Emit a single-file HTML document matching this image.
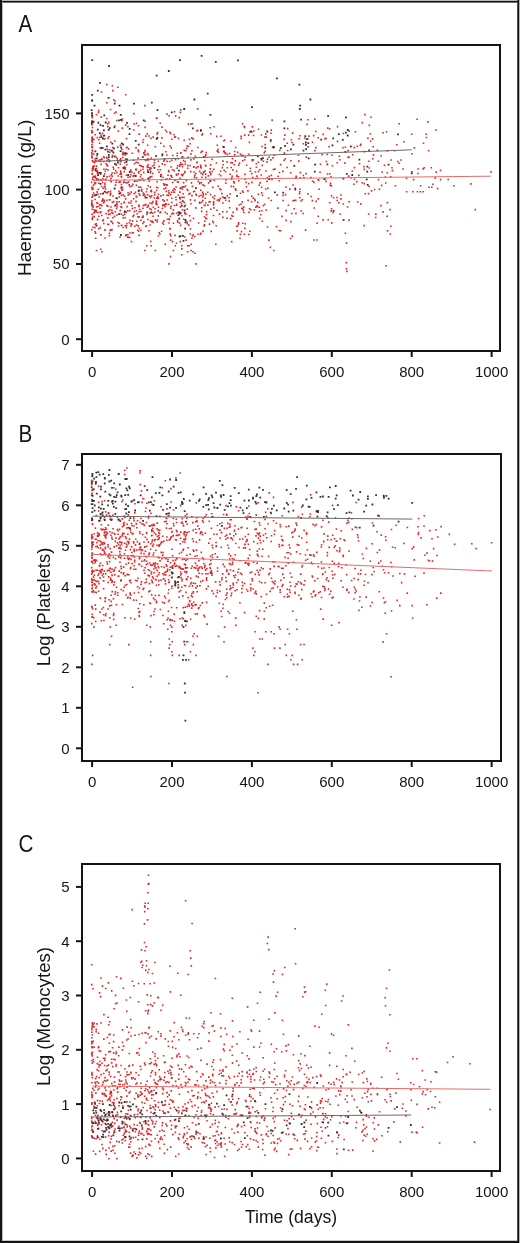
<!DOCTYPE html>
<html><head><meta charset="utf-8"><style>
html,body{margin:0;padding:0;background:#fff;width:520px;height:1243px;overflow:hidden}
svg{display:block;will-change:transform}
text{font-family:"Liberation Sans",sans-serif;fill:#141414}
.t{font-size:15px}
.ti{font-size:18px}
.pl{font-size:23.5px}
</style></head><body>
<svg width="520" height="1243" viewBox="0 0 520 1243"><rect x="0" y="0" width="520" height="1243" fill="#fff"/><g shape-rendering="crispEdges"><rect x="0" y="0" width="520" height="1" fill="#b9b9b9"/><rect x="0" y="2" width="519" height="1" fill="#6e6e6e"/><rect x="0" y="1240" width="519" height="1" fill="#c8c8c8"/><rect x="2" y="0" width="1" height="1243" fill="#bebebe"/><rect x="519" y="0" width="1" height="1243" fill="#b4b4b4"/><rect x="517" y="0" width="1" height="1243" fill="#505050"/><rect x="0" y="1" width="519" height="1" fill="#141414"/><rect x="0" y="1241" width="519" height="2" fill="#141414"/><rect x="0" y="0" width="2" height="1243" fill="#141414"/><rect x="518" y="0" width="1" height="1243" fill="#141414"/></g><path fill="#e02828" d="M162.5 194.2h1.6v1.6h-1.6zM195.0 172.7h1.6v1.6h-1.6zM98.0 138.9h1.6v1.6h-1.6zM111.2 228.8h1.6v1.6h-1.6zM111.0 221.1h1.6v1.6h-1.6zM112.2 195.2h1.6v1.6h-1.6zM184.0 170.7h1.6v1.6h-1.6zM136.0 220.5h1.6v1.6h-1.6zM168.9 160.7h1.6v1.6h-1.6zM95.7 194.0h1.6v1.6h-1.6zM152.0 172.7h1.6v1.6h-1.6zM98.0 227.9h1.6v1.6h-1.6zM133.3 123.2h1.6v1.6h-1.6zM200.0 166.3h1.6v1.6h-1.6zM213.5 197.9h1.6v1.6h-1.6zM168.5 218.8h1.6v1.6h-1.6zM115.8 203.1h1.6v1.6h-1.6zM93.6 209.1h1.6v1.6h-1.6zM160.8 230.4h1.6v1.6h-1.6zM315.0 130.7h1.6v1.6h-1.6zM135.2 161.7h1.6v1.6h-1.6zM110.2 177.6h1.6v1.6h-1.6zM283.5 152.3h1.6v1.6h-1.6zM95.5 167.7h1.6v1.6h-1.6zM149.3 224.2h1.6v1.6h-1.6zM152.2 200.7h1.6v1.6h-1.6zM119.1 159.4h1.6v1.6h-1.6zM242.0 207.9h1.6v1.6h-1.6zM344.6 232.5h1.6v1.6h-1.6zM185.0 150.0h1.6v1.6h-1.6zM205.8 213.8h1.6v1.6h-1.6zM289.9 172.0h1.6v1.6h-1.6zM319.7 163.5h1.6v1.6h-1.6zM218.5 173.4h1.6v1.6h-1.6zM230.9 214.8h1.6v1.6h-1.6zM241.9 160.0h1.6v1.6h-1.6zM251.2 181.6h1.6v1.6h-1.6zM240.7 154.4h1.6v1.6h-1.6zM97.2 211.7h1.6v1.6h-1.6zM344.1 162.3h1.6v1.6h-1.6zM215.6 162.2h1.6v1.6h-1.6zM318.3 188.5h1.6v1.6h-1.6zM188.8 214.9h1.6v1.6h-1.6zM134.1 206.9h1.6v1.6h-1.6zM163.7 204.3h1.6v1.6h-1.6zM106.0 204.7h1.6v1.6h-1.6zM94.5 223.6h1.6v1.6h-1.6zM114.0 125.2h1.6v1.6h-1.6zM224.9 152.2h1.6v1.6h-1.6zM120.6 224.4h1.6v1.6h-1.6zM235.1 189.3h1.6v1.6h-1.6zM183.5 186.2h1.6v1.6h-1.6zM332.1 211.7h1.6v1.6h-1.6zM163.4 200.3h1.6v1.6h-1.6zM327.4 218.9h1.6v1.6h-1.6zM126.3 182.2h1.6v1.6h-1.6zM129.0 236.7h1.6v1.6h-1.6zM277.1 207.3h1.6v1.6h-1.6zM99.8 173.5h1.6v1.6h-1.6zM106.9 123.2h1.6v1.6h-1.6zM147.5 153.9h1.6v1.6h-1.6zM248.2 153.4h1.6v1.6h-1.6zM372.0 157.9h1.6v1.6h-1.6zM243.9 159.0h1.6v1.6h-1.6zM138.8 164.5h1.6v1.6h-1.6zM310.1 176.8h1.6v1.6h-1.6zM181.6 208.9h1.6v1.6h-1.6zM179.4 187.6h1.6v1.6h-1.6zM232.7 185.7h1.6v1.6h-1.6zM336.1 196.7h1.6v1.6h-1.6zM289.1 188.3h1.6v1.6h-1.6zM209.4 127.0h1.6v1.6h-1.6zM116.1 203.4h1.6v1.6h-1.6zM212.8 202.5h1.6v1.6h-1.6zM135.4 195.6h1.6v1.6h-1.6zM161.6 153.3h1.6v1.6h-1.6zM222.1 216.6h1.6v1.6h-1.6zM126.0 163.9h1.6v1.6h-1.6zM150.5 157.2h1.6v1.6h-1.6zM115.8 207.6h1.6v1.6h-1.6zM299.1 196.9h1.6v1.6h-1.6zM232.0 169.1h1.6v1.6h-1.6zM234.8 146.7h1.6v1.6h-1.6zM200.8 201.4h1.6v1.6h-1.6zM128.1 236.7h1.6v1.6h-1.6zM110.5 174.0h1.6v1.6h-1.6zM180.8 173.8h1.6v1.6h-1.6zM247.9 182.8h1.6v1.6h-1.6zM154.5 146.0h1.6v1.6h-1.6zM326.7 164.0h1.6v1.6h-1.6zM163.6 159.2h1.6v1.6h-1.6zM149.5 172.2h1.6v1.6h-1.6zM169.0 177.9h1.6v1.6h-1.6zM258.6 206.5h1.6v1.6h-1.6zM171.9 181.7h1.6v1.6h-1.6zM129.9 202.2h1.6v1.6h-1.6zM201.6 150.6h1.6v1.6h-1.6zM236.0 207.4h1.6v1.6h-1.6zM153.3 164.2h1.6v1.6h-1.6zM191.1 150.0h1.6v1.6h-1.6zM272.5 168.7h1.6v1.6h-1.6zM353.7 178.5h1.6v1.6h-1.6zM192.5 234.0h1.6v1.6h-1.6zM198.9 170.6h1.6v1.6h-1.6zM145.8 224.9h1.6v1.6h-1.6zM94.3 198.7h1.6v1.6h-1.6zM339.1 159.0h1.6v1.6h-1.6zM190.7 182.1h1.6v1.6h-1.6zM283.4 138.6h1.6v1.6h-1.6zM112.1 216.9h1.6v1.6h-1.6zM220.1 175.0h1.6v1.6h-1.6zM113.8 172.6h1.6v1.6h-1.6zM156.9 186.9h1.6v1.6h-1.6zM226.5 195.1h1.6v1.6h-1.6zM348.2 156.3h1.6v1.6h-1.6zM163.1 145.5h1.6v1.6h-1.6zM104.2 182.6h1.6v1.6h-1.6zM175.8 174.5h1.6v1.6h-1.6zM94.2 182.8h1.6v1.6h-1.6zM119.8 170.3h1.6v1.6h-1.6zM231.0 177.2h1.6v1.6h-1.6zM340.1 198.1h1.6v1.6h-1.6zM92.9 192.2h1.6v1.6h-1.6zM146.8 152.8h1.6v1.6h-1.6zM96.8 178.2h1.6v1.6h-1.6zM118.4 201.0h1.6v1.6h-1.6zM243.0 211.6h1.6v1.6h-1.6zM167.7 203.4h1.6v1.6h-1.6zM368.5 167.2h1.6v1.6h-1.6zM159.2 211.9h1.6v1.6h-1.6zM281.1 215.6h1.6v1.6h-1.6zM268.4 156.5h1.6v1.6h-1.6zM202.4 230.5h1.6v1.6h-1.6zM102.0 219.9h1.6v1.6h-1.6zM249.0 131.2h1.6v1.6h-1.6zM264.3 150.5h1.6v1.6h-1.6zM186.9 189.6h1.6v1.6h-1.6zM221.5 166.8h1.6v1.6h-1.6zM339.4 213.2h1.6v1.6h-1.6zM287.6 204.4h1.6v1.6h-1.6zM184.8 185.2h1.6v1.6h-1.6zM119.4 159.2h1.6v1.6h-1.6zM133.2 172.4h1.6v1.6h-1.6zM100.3 163.5h1.6v1.6h-1.6zM95.6 209.8h1.6v1.6h-1.6zM195.2 193.4h1.6v1.6h-1.6zM257.4 161.4h1.6v1.6h-1.6zM149.1 202.2h1.6v1.6h-1.6zM380.8 184.6h1.6v1.6h-1.6zM278.5 179.9h1.6v1.6h-1.6zM166.3 183.9h1.6v1.6h-1.6zM117.7 166.9h1.6v1.6h-1.6zM230.8 178.5h1.6v1.6h-1.6zM251.3 159.1h1.6v1.6h-1.6zM96.7 218.6h1.6v1.6h-1.6zM190.1 159.1h1.6v1.6h-1.6zM279.7 230.0h1.6v1.6h-1.6zM122.3 214.6h1.6v1.6h-1.6zM137.7 150.8h1.6v1.6h-1.6zM238.5 204.2h1.6v1.6h-1.6zM189.9 170.8h1.6v1.6h-1.6zM164.9 187.3h1.6v1.6h-1.6zM111.1 211.8h1.6v1.6h-1.6zM138.3 205.4h1.6v1.6h-1.6zM164.5 211.5h1.6v1.6h-1.6zM149.6 176.0h1.6v1.6h-1.6zM273.5 154.4h1.6v1.6h-1.6zM234.6 160.1h1.6v1.6h-1.6zM96.2 154.8h1.6v1.6h-1.6zM109.7 190.5h1.6v1.6h-1.6zM267.0 187.5h1.6v1.6h-1.6zM99.5 159.0h1.6v1.6h-1.6zM223.1 139.9h1.6v1.6h-1.6zM213.4 179.5h1.6v1.6h-1.6zM284.0 134.3h1.6v1.6h-1.6zM198.8 201.4h1.6v1.6h-1.6zM363.5 182.8h1.6v1.6h-1.6zM205.0 153.9h1.6v1.6h-1.6zM174.2 234.6h1.6v1.6h-1.6zM202.6 194.4h1.6v1.6h-1.6zM149.6 186.3h1.6v1.6h-1.6zM122.0 156.7h1.6v1.6h-1.6zM238.7 162.3h1.6v1.6h-1.6zM121.1 148.6h1.6v1.6h-1.6zM121.6 186.7h1.6v1.6h-1.6zM212.8 201.1h1.6v1.6h-1.6zM200.3 172.6h1.6v1.6h-1.6zM266.7 158.3h1.6v1.6h-1.6zM299.5 177.0h1.6v1.6h-1.6zM181.2 156.1h1.6v1.6h-1.6zM106.2 176.1h1.6v1.6h-1.6zM256.8 205.8h1.6v1.6h-1.6zM161.7 222.2h1.6v1.6h-1.6zM175.3 199.0h1.6v1.6h-1.6zM109.9 229.3h1.6v1.6h-1.6zM167.2 174.4h1.6v1.6h-1.6zM332.8 197.0h1.6v1.6h-1.6zM370.3 170.4h1.6v1.6h-1.6zM108.6 198.9h1.6v1.6h-1.6zM191.5 122.9h1.6v1.6h-1.6zM189.5 233.2h1.6v1.6h-1.6zM150.0 212.1h1.6v1.6h-1.6zM140.9 165.3h1.6v1.6h-1.6zM123.6 165.9h1.6v1.6h-1.6zM106.2 164.1h1.6v1.6h-1.6zM233.9 154.1h1.6v1.6h-1.6zM95.3 177.6h1.6v1.6h-1.6zM116.1 172.0h1.6v1.6h-1.6zM228.3 197.0h1.6v1.6h-1.6zM363.5 150.8h1.6v1.6h-1.6zM196.0 161.7h1.6v1.6h-1.6zM146.4 206.5h1.6v1.6h-1.6zM258.9 217.7h1.6v1.6h-1.6zM204.2 170.3h1.6v1.6h-1.6zM181.2 214.9h1.6v1.6h-1.6zM375.0 213.3h1.6v1.6h-1.6zM120.1 171.9h1.6v1.6h-1.6zM120.6 186.0h1.6v1.6h-1.6zM103.6 186.1h1.6v1.6h-1.6zM113.8 112.4h1.6v1.6h-1.6zM156.4 220.9h1.6v1.6h-1.6zM202.0 196.1h1.6v1.6h-1.6zM132.1 183.6h1.6v1.6h-1.6zM142.6 139.0h1.6v1.6h-1.6zM135.2 169.1h1.6v1.6h-1.6zM100.1 210.9h1.6v1.6h-1.6zM101.0 158.0h1.6v1.6h-1.6zM166.0 130.9h1.6v1.6h-1.6zM118.4 196.2h1.6v1.6h-1.6zM111.4 175.3h1.6v1.6h-1.6zM142.4 194.5h1.6v1.6h-1.6zM164.7 129.5h1.6v1.6h-1.6zM322.3 219.1h1.6v1.6h-1.6zM298.7 192.8h1.6v1.6h-1.6zM121.7 152.9h1.6v1.6h-1.6zM177.5 158.0h1.6v1.6h-1.6zM294.9 199.4h1.6v1.6h-1.6zM156.4 117.2h1.6v1.6h-1.6zM169.9 207.3h1.6v1.6h-1.6zM130.1 173.9h1.6v1.6h-1.6zM330.6 185.1h1.6v1.6h-1.6zM317.4 179.0h1.6v1.6h-1.6zM156.3 133.1h1.6v1.6h-1.6zM97.5 188.6h1.6v1.6h-1.6zM235.8 170.6h1.6v1.6h-1.6zM116.3 197.7h1.6v1.6h-1.6zM315.1 146.8h1.6v1.6h-1.6zM92.2 187.3h1.6v1.6h-1.6zM244.0 227.4h1.6v1.6h-1.6zM212.0 186.6h1.6v1.6h-1.6zM157.7 206.4h1.6v1.6h-1.6zM160.0 142.4h1.6v1.6h-1.6zM98.0 215.5h1.6v1.6h-1.6zM242.5 209.4h1.6v1.6h-1.6zM152.3 221.6h1.6v1.6h-1.6zM200.2 194.6h1.6v1.6h-1.6zM149.1 207.9h1.6v1.6h-1.6zM120.3 160.6h1.6v1.6h-1.6zM210.0 172.4h1.6v1.6h-1.6zM159.6 169.0h1.6v1.6h-1.6zM169.8 132.8h1.6v1.6h-1.6zM138.3 234.6h1.6v1.6h-1.6zM124.6 225.1h1.6v1.6h-1.6zM156.4 181.0h1.6v1.6h-1.6zM222.0 210.9h1.6v1.6h-1.6zM149.2 176.8h1.6v1.6h-1.6zM250.8 201.0h1.6v1.6h-1.6zM182.4 193.0h1.6v1.6h-1.6zM175.9 203.6h1.6v1.6h-1.6zM173.2 134.0h1.6v1.6h-1.6zM233.4 164.0h1.6v1.6h-1.6zM128.5 222.0h1.6v1.6h-1.6zM186.9 167.4h1.6v1.6h-1.6zM237.9 164.3h1.6v1.6h-1.6zM282.1 170.4h1.6v1.6h-1.6zM307.2 146.1h1.6v1.6h-1.6zM115.2 111.3h1.6v1.6h-1.6zM92.8 175.7h1.6v1.6h-1.6zM97.7 111.6h1.6v1.6h-1.6zM157.1 168.9h1.6v1.6h-1.6zM163.5 158.8h1.6v1.6h-1.6zM241.6 201.1h1.6v1.6h-1.6zM109.6 192.3h1.6v1.6h-1.6zM132.2 215.6h1.6v1.6h-1.6zM135.3 200.6h1.6v1.6h-1.6zM92.2 204.7h1.6v1.6h-1.6zM179.5 198.2h1.6v1.6h-1.6zM205.0 193.3h1.6v1.6h-1.6zM331.6 164.9h1.6v1.6h-1.6zM111.6 154.8h1.6v1.6h-1.6zM165.5 190.6h1.6v1.6h-1.6zM286.3 166.7h1.6v1.6h-1.6zM270.5 129.3h1.6v1.6h-1.6zM235.9 225.5h1.6v1.6h-1.6zM119.6 181.1h1.6v1.6h-1.6zM164.2 206.0h1.6v1.6h-1.6zM133.0 174.8h1.6v1.6h-1.6zM261.7 194.5h1.6v1.6h-1.6zM117.8 225.2h1.6v1.6h-1.6zM157.6 160.4h1.6v1.6h-1.6zM317.5 198.1h1.6v1.6h-1.6zM171.1 197.5h1.6v1.6h-1.6zM117.0 160.7h1.6v1.6h-1.6zM164.5 183.7h1.6v1.6h-1.6zM303.1 176.9h1.6v1.6h-1.6zM305.1 172.8h1.6v1.6h-1.6zM155.7 186.4h1.6v1.6h-1.6zM104.3 185.6h1.6v1.6h-1.6zM354.7 130.9h1.6v1.6h-1.6zM111.1 209.6h1.6v1.6h-1.6zM230.1 162.0h1.6v1.6h-1.6zM279.8 163.8h1.6v1.6h-1.6zM144.3 126.6h1.6v1.6h-1.6zM176.4 167.3h1.6v1.6h-1.6zM209.4 200.9h1.6v1.6h-1.6zM92.5 166.8h1.6v1.6h-1.6zM94.7 168.1h1.6v1.6h-1.6zM325.1 137.6h1.6v1.6h-1.6zM98.0 182.4h1.6v1.6h-1.6zM204.9 202.2h1.6v1.6h-1.6zM173.9 136.3h1.6v1.6h-1.6zM157.5 215.1h1.6v1.6h-1.6zM167.8 194.6h1.6v1.6h-1.6zM358.1 174.6h1.6v1.6h-1.6zM149.0 167.2h1.6v1.6h-1.6zM169.9 174.9h1.6v1.6h-1.6zM152.5 206.5h1.6v1.6h-1.6zM376.5 149.6h1.6v1.6h-1.6zM154.3 208.0h1.6v1.6h-1.6zM147.4 184.9h1.6v1.6h-1.6zM108.8 149.0h1.6v1.6h-1.6zM244.5 156.5h1.6v1.6h-1.6zM103.5 200.8h1.6v1.6h-1.6zM144.8 159.7h1.6v1.6h-1.6zM130.5 200.2h1.6v1.6h-1.6zM166.1 154.2h1.6v1.6h-1.6zM226.2 161.1h1.6v1.6h-1.6zM253.6 209.1h1.6v1.6h-1.6zM368.5 124.6h1.6v1.6h-1.6zM173.7 204.7h1.6v1.6h-1.6zM102.7 156.0h1.6v1.6h-1.6zM146.1 197.0h1.6v1.6h-1.6zM120.6 194.6h1.6v1.6h-1.6zM108.2 135.9h1.6v1.6h-1.6zM162.9 160.5h1.6v1.6h-1.6zM94.6 175.3h1.6v1.6h-1.6zM121.4 118.2h1.6v1.6h-1.6zM96.6 136.8h1.6v1.6h-1.6zM183.9 211.6h1.6v1.6h-1.6zM189.2 192.6h1.6v1.6h-1.6zM138.2 192.9h1.6v1.6h-1.6zM159.4 122.4h1.6v1.6h-1.6zM181.4 196.6h1.6v1.6h-1.6zM157.3 210.2h1.6v1.6h-1.6zM171.1 159.6h1.6v1.6h-1.6zM209.8 173.8h1.6v1.6h-1.6zM143.6 204.3h1.6v1.6h-1.6zM185.8 147.6h1.6v1.6h-1.6zM146.6 166.7h1.6v1.6h-1.6zM145.2 135.3h1.6v1.6h-1.6zM137.8 172.2h1.6v1.6h-1.6zM107.0 125.8h1.6v1.6h-1.6zM364.1 113.8h1.6v1.6h-1.6zM191.6 185.6h1.6v1.6h-1.6zM258.4 184.4h1.6v1.6h-1.6zM146.5 133.1h1.6v1.6h-1.6zM222.3 146.0h1.6v1.6h-1.6zM382.3 211.1h1.6v1.6h-1.6zM187.6 123.3h1.6v1.6h-1.6zM100.8 179.5h1.6v1.6h-1.6zM184.5 163.4h1.6v1.6h-1.6zM254.0 198.5h1.6v1.6h-1.6zM118.3 190.6h1.6v1.6h-1.6zM207.6 175.1h1.6v1.6h-1.6zM242.9 206.3h1.6v1.6h-1.6zM166.0 183.9h1.6v1.6h-1.6zM252.4 159.1h1.6v1.6h-1.6zM241.7 190.2h1.6v1.6h-1.6zM386.3 215.4h1.6v1.6h-1.6zM114.7 184.3h1.6v1.6h-1.6zM262.6 204.9h1.6v1.6h-1.6zM170.4 205.4h1.6v1.6h-1.6zM236.1 208.8h1.6v1.6h-1.6zM137.2 216.1h1.6v1.6h-1.6zM137.6 190.4h1.6v1.6h-1.6zM128.4 184.1h1.6v1.6h-1.6zM242.2 154.8h1.6v1.6h-1.6zM132.5 232.0h1.6v1.6h-1.6zM120.5 175.8h1.6v1.6h-1.6zM183.2 196.6h1.6v1.6h-1.6zM110.2 220.4h1.6v1.6h-1.6zM102.6 134.9h1.6v1.6h-1.6zM311.6 199.8h1.6v1.6h-1.6zM211.2 158.6h1.6v1.6h-1.6zM172.8 212.8h1.6v1.6h-1.6zM141.6 177.9h1.6v1.6h-1.6zM173.4 187.9h1.6v1.6h-1.6zM193.7 190.5h1.6v1.6h-1.6zM370.7 190.1h1.6v1.6h-1.6zM351.9 154.0h1.6v1.6h-1.6zM203.7 224.0h1.6v1.6h-1.6zM371.7 138.1h1.6v1.6h-1.6zM91.8 178.5h1.6v1.6h-1.6zM205.9 210.8h1.6v1.6h-1.6zM290.1 220.8h1.6v1.6h-1.6zM131.6 207.7h1.6v1.6h-1.6zM177.6 194.5h1.6v1.6h-1.6zM314.2 149.8h1.6v1.6h-1.6zM257.7 170.7h1.6v1.6h-1.6zM175.8 212.5h1.6v1.6h-1.6zM138.2 179.3h1.6v1.6h-1.6zM172.5 209.1h1.6v1.6h-1.6zM171.0 201.7h1.6v1.6h-1.6zM147.4 205.7h1.6v1.6h-1.6zM261.1 209.9h1.6v1.6h-1.6zM152.3 215.5h1.6v1.6h-1.6zM331.0 222.1h1.6v1.6h-1.6zM125.3 234.1h1.6v1.6h-1.6zM228.8 152.7h1.6v1.6h-1.6zM153.5 162.0h1.6v1.6h-1.6zM117.6 130.3h1.6v1.6h-1.6zM102.3 187.4h1.6v1.6h-1.6zM189.3 142.9h1.6v1.6h-1.6zM145.7 191.0h1.6v1.6h-1.6zM142.9 171.6h1.6v1.6h-1.6zM183.0 218.5h1.6v1.6h-1.6zM370.2 116.4h1.6v1.6h-1.6zM94.2 176.0h1.6v1.6h-1.6zM96.1 191.2h1.6v1.6h-1.6zM174.9 115.1h1.6v1.6h-1.6zM143.4 193.4h1.6v1.6h-1.6zM137.9 186.5h1.6v1.6h-1.6zM180.5 163.7h1.6v1.6h-1.6zM367.9 213.2h1.6v1.6h-1.6zM194.1 235.7h1.6v1.6h-1.6zM238.0 180.0h1.6v1.6h-1.6zM203.5 204.6h1.6v1.6h-1.6zM184.0 236.2h1.6v1.6h-1.6zM107.2 169.1h1.6v1.6h-1.6zM149.8 196.6h1.6v1.6h-1.6zM381.4 171.2h1.6v1.6h-1.6zM178.8 211.2h1.6v1.6h-1.6zM291.0 212.7h1.6v1.6h-1.6zM247.3 199.6h1.6v1.6h-1.6zM135.7 224.2h1.6v1.6h-1.6zM147.3 163.9h1.6v1.6h-1.6zM212.8 204.1h1.6v1.6h-1.6zM317.4 137.0h1.6v1.6h-1.6zM326.5 163.3h1.6v1.6h-1.6zM363.1 165.8h1.6v1.6h-1.6zM94.4 209.7h1.6v1.6h-1.6zM264.9 188.2h1.6v1.6h-1.6zM123.9 161.8h1.6v1.6h-1.6zM369.6 133.0h1.6v1.6h-1.6zM386.5 171.9h1.6v1.6h-1.6zM172.2 189.4h1.6v1.6h-1.6zM256.1 175.3h1.6v1.6h-1.6zM132.9 129.2h1.6v1.6h-1.6zM383.7 164.6h1.6v1.6h-1.6zM191.0 137.1h1.6v1.6h-1.6zM262.6 160.4h1.6v1.6h-1.6zM252.0 176.7h1.6v1.6h-1.6zM245.8 164.4h1.6v1.6h-1.6zM240.3 203.4h1.6v1.6h-1.6zM240.3 137.6h1.6v1.6h-1.6zM258.9 168.9h1.6v1.6h-1.6zM105.8 156.5h1.6v1.6h-1.6zM92.0 194.0h1.6v1.6h-1.6zM178.9 165.4h1.6v1.6h-1.6zM285.2 186.3h1.6v1.6h-1.6zM157.6 197.3h1.6v1.6h-1.6zM260.2 157.7h1.6v1.6h-1.6zM169.4 227.8h1.6v1.6h-1.6zM226.6 166.9h1.6v1.6h-1.6zM224.7 170.9h1.6v1.6h-1.6zM99.3 207.5h1.6v1.6h-1.6zM103.1 168.5h1.6v1.6h-1.6zM205.1 165.2h1.6v1.6h-1.6zM146.1 188.2h1.6v1.6h-1.6zM127.2 176.4h1.6v1.6h-1.6zM142.6 192.3h1.6v1.6h-1.6zM229.3 193.2h1.6v1.6h-1.6zM153.9 193.8h1.6v1.6h-1.6zM97.9 178.7h1.6v1.6h-1.6zM155.9 189.4h1.6v1.6h-1.6zM165.1 150.9h1.6v1.6h-1.6zM356.0 180.8h1.6v1.6h-1.6zM286.4 142.5h1.6v1.6h-1.6zM107.7 210.6h1.6v1.6h-1.6zM237.8 222.0h1.6v1.6h-1.6zM139.9 186.5h1.6v1.6h-1.6zM344.6 146.5h1.6v1.6h-1.6zM128.9 209.9h1.6v1.6h-1.6zM124.9 124.3h1.6v1.6h-1.6zM301.6 198.9h1.6v1.6h-1.6zM150.2 167.3h1.6v1.6h-1.6zM91.5 213.7h1.6v1.6h-1.6zM224.9 182.3h1.6v1.6h-1.6zM198.3 195.4h1.6v1.6h-1.6zM131.0 185.2h1.6v1.6h-1.6zM107.6 191.0h1.6v1.6h-1.6zM326.7 173.2h1.6v1.6h-1.6zM179.2 191.3h1.6v1.6h-1.6zM182.0 156.1h1.6v1.6h-1.6zM97.7 122.5h1.6v1.6h-1.6zM135.6 168.6h1.6v1.6h-1.6zM245.6 185.9h1.6v1.6h-1.6zM330.8 207.9h1.6v1.6h-1.6zM150.1 190.7h1.6v1.6h-1.6zM93.9 182.0h1.6v1.6h-1.6zM209.9 164.1h1.6v1.6h-1.6zM194.5 155.6h1.6v1.6h-1.6zM120.6 202.9h1.6v1.6h-1.6zM211.5 170.7h1.6v1.6h-1.6zM106.3 160.2h1.6v1.6h-1.6zM104.5 170.4h1.6v1.6h-1.6zM251.6 126.1h1.6v1.6h-1.6zM111.9 146.7h1.6v1.6h-1.6zM136.4 212.9h1.6v1.6h-1.6zM210.0 132.9h1.6v1.6h-1.6zM276.5 194.3h1.6v1.6h-1.6zM95.8 206.1h1.6v1.6h-1.6zM250.9 172.8h1.6v1.6h-1.6zM240.4 135.5h1.6v1.6h-1.6zM133.7 162.9h1.6v1.6h-1.6zM181.3 186.6h1.6v1.6h-1.6zM125.7 137.8h1.6v1.6h-1.6zM120.6 183.7h1.6v1.6h-1.6zM265.0 133.1h1.6v1.6h-1.6zM92.7 184.3h1.6v1.6h-1.6zM93.2 212.1h1.6v1.6h-1.6zM124.4 154.1h1.6v1.6h-1.6zM154.0 191.4h1.6v1.6h-1.6zM171.8 212.6h1.6v1.6h-1.6zM109.1 199.1h1.6v1.6h-1.6zM353.5 146.8h1.6v1.6h-1.6zM248.6 141.6h1.6v1.6h-1.6zM266.2 161.1h1.6v1.6h-1.6zM168.5 217.9h1.6v1.6h-1.6zM268.5 175.6h1.6v1.6h-1.6zM342.5 203.2h1.6v1.6h-1.6zM230.5 185.6h1.6v1.6h-1.6zM127.1 126.0h1.6v1.6h-1.6zM144.1 195.3h1.6v1.6h-1.6zM294.4 187.5h1.6v1.6h-1.6zM92.3 206.4h1.6v1.6h-1.6zM212.1 196.5h1.6v1.6h-1.6zM248.0 233.7h1.6v1.6h-1.6zM157.7 193.5h1.6v1.6h-1.6zM127.0 234.0h1.6v1.6h-1.6zM112.1 212.6h1.6v1.6h-1.6zM100.1 178.9h1.6v1.6h-1.6zM298.3 137.9h1.6v1.6h-1.6zM111.4 156.3h1.6v1.6h-1.6zM123.2 202.0h1.6v1.6h-1.6zM226.3 217.5h1.6v1.6h-1.6zM220.1 135.5h1.6v1.6h-1.6zM200.9 207.0h1.6v1.6h-1.6zM162.1 199.1h1.6v1.6h-1.6zM179.2 201.5h1.6v1.6h-1.6zM98.8 142.5h1.6v1.6h-1.6zM119.2 173.5h1.6v1.6h-1.6zM138.3 210.9h1.6v1.6h-1.6zM321.1 153.8h1.6v1.6h-1.6zM252.5 197.3h1.6v1.6h-1.6zM191.8 235.2h1.6v1.6h-1.6zM253.0 130.2h1.6v1.6h-1.6zM347.3 156.6h1.6v1.6h-1.6zM177.6 211.3h1.6v1.6h-1.6zM109.3 229.6h1.6v1.6h-1.6zM248.7 207.9h1.6v1.6h-1.6zM122.3 226.7h1.6v1.6h-1.6zM197.4 166.0h1.6v1.6h-1.6zM139.6 176.2h1.6v1.6h-1.6zM93.1 138.7h1.6v1.6h-1.6zM218.5 200.2h1.6v1.6h-1.6zM194.0 174.6h1.6v1.6h-1.6zM263.7 203.5h1.6v1.6h-1.6zM219.0 187.9h1.6v1.6h-1.6zM138.2 170.8h1.6v1.6h-1.6zM299.0 191.0h1.6v1.6h-1.6zM107.1 205.3h1.6v1.6h-1.6zM93.4 165.1h1.6v1.6h-1.6zM146.5 165.5h1.6v1.6h-1.6zM175.1 196.5h1.6v1.6h-1.6zM231.6 162.1h1.6v1.6h-1.6zM114.1 140.2h1.6v1.6h-1.6zM100.0 203.8h1.6v1.6h-1.6zM158.4 231.9h1.6v1.6h-1.6zM322.4 133.6h1.6v1.6h-1.6zM192.4 138.1h1.6v1.6h-1.6zM219.8 170.4h1.6v1.6h-1.6zM179.2 177.5h1.6v1.6h-1.6zM207.1 204.3h1.6v1.6h-1.6zM94.8 232.4h1.6v1.6h-1.6zM181.9 163.7h1.6v1.6h-1.6zM307.2 118.9h1.6v1.6h-1.6zM312.9 134.8h1.6v1.6h-1.6zM219.4 197.8h1.6v1.6h-1.6zM144.7 154.1h1.6v1.6h-1.6zM153.6 159.3h1.6v1.6h-1.6zM266.7 226.2h1.6v1.6h-1.6zM115.4 163.7h1.6v1.6h-1.6zM118.3 181.3h1.6v1.6h-1.6zM259.3 182.1h1.6v1.6h-1.6zM164.9 203.0h1.6v1.6h-1.6zM111.6 201.5h1.6v1.6h-1.6zM99.5 226.8h1.6v1.6h-1.6zM138.3 216.1h1.6v1.6h-1.6zM297.7 154.5h1.6v1.6h-1.6zM255.5 163.0h1.6v1.6h-1.6zM117.3 175.2h1.6v1.6h-1.6zM158.3 171.4h1.6v1.6h-1.6zM290.0 159.9h1.6v1.6h-1.6zM131.0 171.2h1.6v1.6h-1.6zM140.0 179.1h1.6v1.6h-1.6zM348.3 200.9h1.6v1.6h-1.6zM140.1 229.4h1.6v1.6h-1.6zM96.0 202.0h1.6v1.6h-1.6zM92.2 188.1h1.6v1.6h-1.6zM196.8 129.6h1.6v1.6h-1.6zM178.8 222.3h1.6v1.6h-1.6zM133.1 112.8h1.6v1.6h-1.6zM317.9 179.3h1.6v1.6h-1.6zM106.4 192.2h1.6v1.6h-1.6zM261.5 164.6h1.6v1.6h-1.6zM244.3 178.5h1.6v1.6h-1.6zM188.0 224.3h1.6v1.6h-1.6zM203.3 225.1h1.6v1.6h-1.6zM169.4 145.2h1.6v1.6h-1.6zM260.9 192.1h1.6v1.6h-1.6zM95.7 165.3h1.6v1.6h-1.6zM132.4 175.6h1.6v1.6h-1.6zM361.4 121.8h1.6v1.6h-1.6zM108.6 234.8h1.6v1.6h-1.6zM144.2 149.8h1.6v1.6h-1.6zM179.9 162.0h1.6v1.6h-1.6zM347.3 149.8h1.6v1.6h-1.6zM223.4 150.5h1.6v1.6h-1.6zM93.9 176.3h1.6v1.6h-1.6zM96.5 171.8h1.6v1.6h-1.6zM134.0 225.4h1.6v1.6h-1.6zM185.5 179.7h1.6v1.6h-1.6zM184.0 171.9h1.6v1.6h-1.6zM367.8 192.8h1.6v1.6h-1.6zM105.2 168.4h1.6v1.6h-1.6zM106.7 165.1h1.6v1.6h-1.6zM164.9 178.6h1.6v1.6h-1.6zM212.7 214.7h1.6v1.6h-1.6zM175.2 178.9h1.6v1.6h-1.6zM91.5 208.5h1.6v1.6h-1.6zM119.4 163.5h1.6v1.6h-1.6zM108.7 175.5h1.6v1.6h-1.6zM137.7 125.0h1.6v1.6h-1.6zM229.4 173.4h1.6v1.6h-1.6zM386.7 230.1h1.6v1.6h-1.6zM203.6 215.9h1.6v1.6h-1.6zM108.0 158.7h1.6v1.6h-1.6zM151.6 201.7h1.6v1.6h-1.6zM156.6 219.2h1.6v1.6h-1.6zM153.5 197.2h1.6v1.6h-1.6zM150.5 189.5h1.6v1.6h-1.6zM97.7 205.7h1.6v1.6h-1.6zM176.8 221.4h1.6v1.6h-1.6zM147.4 178.2h1.6v1.6h-1.6zM326.5 153.7h1.6v1.6h-1.6zM310.5 195.7h1.6v1.6h-1.6zM223.7 151.8h1.6v1.6h-1.6zM150.9 220.9h1.6v1.6h-1.6zM135.6 184.6h1.6v1.6h-1.6zM146.8 144.5h1.6v1.6h-1.6zM110.1 141.5h1.6v1.6h-1.6zM107.9 121.6h1.6v1.6h-1.6zM180.0 109.0h1.6v1.6h-1.6zM190.1 203.0h1.6v1.6h-1.6zM237.7 175.9h1.6v1.6h-1.6zM176.9 165.0h1.6v1.6h-1.6zM258.7 210.5h1.6v1.6h-1.6zM270.5 199.7h1.6v1.6h-1.6zM103.1 160.9h1.6v1.6h-1.6zM115.6 156.5h1.6v1.6h-1.6zM159.0 233.1h1.6v1.6h-1.6zM173.7 110.9h1.6v1.6h-1.6zM105.3 178.4h1.6v1.6h-1.6zM236.9 151.6h1.6v1.6h-1.6zM342.2 146.9h1.6v1.6h-1.6zM97.4 121.6h1.6v1.6h-1.6zM98.3 196.2h1.6v1.6h-1.6zM213.1 207.1h1.6v1.6h-1.6zM275.7 225.8h1.6v1.6h-1.6zM271.2 178.6h1.6v1.6h-1.6zM384.5 176.2h1.6v1.6h-1.6zM142.1 141.4h1.6v1.6h-1.6zM94.1 226.8h1.6v1.6h-1.6zM171.1 176.5h1.6v1.6h-1.6zM111.9 155.3h1.6v1.6h-1.6zM199.9 130.4h1.6v1.6h-1.6zM123.5 170.8h1.6v1.6h-1.6zM116.9 146.3h1.6v1.6h-1.6zM325.1 180.6h1.6v1.6h-1.6zM307.1 193.1h1.6v1.6h-1.6zM106.4 158.0h1.6v1.6h-1.6zM168.9 228.2h1.6v1.6h-1.6zM336.4 199.7h1.6v1.6h-1.6zM380.4 154.9h1.6v1.6h-1.6zM173.4 169.8h1.6v1.6h-1.6zM300.3 200.2h1.6v1.6h-1.6zM198.8 182.9h1.6v1.6h-1.6zM93.4 215.8h1.6v1.6h-1.6zM208.3 201.2h1.6v1.6h-1.6zM302.6 174.7h1.6v1.6h-1.6zM119.5 161.0h1.6v1.6h-1.6zM132.9 198.0h1.6v1.6h-1.6zM115.9 119.7h1.6v1.6h-1.6zM314.0 118.5h1.6v1.6h-1.6zM209.7 193.7h1.6v1.6h-1.6zM147.1 166.6h1.6v1.6h-1.6zM317.4 215.4h1.6v1.6h-1.6zM217.3 148.8h1.6v1.6h-1.6zM113.7 215.4h1.6v1.6h-1.6zM138.6 227.4h1.6v1.6h-1.6zM139.0 208.7h1.6v1.6h-1.6zM305.5 156.3h1.6v1.6h-1.6zM167.8 189.9h1.6v1.6h-1.6zM204.9 176.6h1.6v1.6h-1.6zM99.7 160.7h1.6v1.6h-1.6zM202.0 199.8h1.6v1.6h-1.6zM95.3 211.4h1.6v1.6h-1.6zM101.8 181.7h1.6v1.6h-1.6zM221.1 192.8h1.6v1.6h-1.6zM236.1 175.4h1.6v1.6h-1.6zM202.4 193.0h1.6v1.6h-1.6zM166.4 213.0h1.6v1.6h-1.6zM92.0 176.7h1.6v1.6h-1.6zM260.4 174.2h1.6v1.6h-1.6zM204.3 204.6h1.6v1.6h-1.6zM239.6 233.6h1.6v1.6h-1.6zM177.7 137.5h1.6v1.6h-1.6zM233.9 150.7h1.6v1.6h-1.6zM291.5 235.3h1.6v1.6h-1.6zM220.1 189.0h1.6v1.6h-1.6zM313.1 181.6h1.6v1.6h-1.6zM283.2 159.5h1.6v1.6h-1.6zM142.1 222.7h1.6v1.6h-1.6zM176.5 152.5h1.6v1.6h-1.6zM162.9 182.9h1.6v1.6h-1.6zM286.9 127.8h1.6v1.6h-1.6zM136.1 196.2h1.6v1.6h-1.6zM148.1 166.7h1.6v1.6h-1.6zM163.2 188.0h1.6v1.6h-1.6zM385.8 130.9h1.6v1.6h-1.6zM106.9 223.5h1.6v1.6h-1.6zM187.6 145.5h1.6v1.6h-1.6zM97.7 159.6h1.6v1.6h-1.6zM302.4 212.7h1.6v1.6h-1.6zM161.2 137.1h1.6v1.6h-1.6zM120.9 206.6h1.6v1.6h-1.6zM96.4 191.2h1.6v1.6h-1.6zM125.6 174.4h1.6v1.6h-1.6zM150.8 190.9h1.6v1.6h-1.6zM103.5 156.8h1.6v1.6h-1.6zM175.5 173.4h1.6v1.6h-1.6zM185.1 213.1h1.6v1.6h-1.6zM252.7 134.7h1.6v1.6h-1.6zM197.2 233.5h1.6v1.6h-1.6zM360.0 203.1h1.6v1.6h-1.6zM104.5 178.7h1.6v1.6h-1.6zM177.5 173.1h1.6v1.6h-1.6zM181.6 166.0h1.6v1.6h-1.6zM156.8 195.8h1.6v1.6h-1.6zM166.7 218.4h1.6v1.6h-1.6zM137.9 230.5h1.6v1.6h-1.6zM123.1 152.6h1.6v1.6h-1.6zM108.6 232.4h1.6v1.6h-1.6zM243.9 126.7h1.6v1.6h-1.6zM127.0 210.0h1.6v1.6h-1.6zM282.2 194.6h1.6v1.6h-1.6zM122.3 194.0h1.6v1.6h-1.6zM203.9 159.7h1.6v1.6h-1.6zM330.4 210.1h1.6v1.6h-1.6zM196.2 130.1h1.6v1.6h-1.6zM202.2 184.1h1.6v1.6h-1.6zM145.1 203.8h1.6v1.6h-1.6zM160.0 173.8h1.6v1.6h-1.6zM285.3 219.6h1.6v1.6h-1.6zM217.4 185.5h1.6v1.6h-1.6zM373.8 188.7h1.6v1.6h-1.6zM131.8 220.3h1.6v1.6h-1.6zM364.5 192.9h1.6v1.6h-1.6zM173.6 191.4h1.6v1.6h-1.6zM143.6 152.0h1.6v1.6h-1.6zM203.7 184.9h1.6v1.6h-1.6zM242.0 222.4h1.6v1.6h-1.6zM202.3 230.6h1.6v1.6h-1.6zM360.0 143.6h1.6v1.6h-1.6zM302.5 143.0h1.6v1.6h-1.6zM142.9 152.1h1.6v1.6h-1.6zM102.0 198.2h1.6v1.6h-1.6zM204.0 155.7h1.6v1.6h-1.6zM295.2 212.6h1.6v1.6h-1.6zM234.5 187.9h1.6v1.6h-1.6zM154.7 219.3h1.6v1.6h-1.6zM146.3 159.0h1.6v1.6h-1.6zM248.2 211.6h1.6v1.6h-1.6zM192.9 191.0h1.6v1.6h-1.6zM106.6 148.4h1.6v1.6h-1.6zM303.9 137.2h1.6v1.6h-1.6zM199.6 233.5h1.6v1.6h-1.6zM150.4 208.7h1.6v1.6h-1.6zM230.2 140.5h1.6v1.6h-1.6zM184.6 204.5h1.6v1.6h-1.6zM116.5 205.6h1.6v1.6h-1.6zM101.0 214.7h1.6v1.6h-1.6zM232.9 181.0h1.6v1.6h-1.6zM260.8 186.4h1.6v1.6h-1.6zM278.3 229.7h1.6v1.6h-1.6zM174.7 136.1h1.6v1.6h-1.6zM123.7 179.2h1.6v1.6h-1.6zM133.5 193.0h1.6v1.6h-1.6zM261.2 145.7h1.6v1.6h-1.6zM92.1 226.5h1.6v1.6h-1.6zM361.4 182.0h1.6v1.6h-1.6zM200.0 189.5h1.6v1.6h-1.6zM121.0 189.4h1.6v1.6h-1.6zM126.2 146.5h1.6v1.6h-1.6zM205.4 151.7h1.6v1.6h-1.6zM166.2 113.3h1.6v1.6h-1.6zM205.7 217.8h1.6v1.6h-1.6zM104.2 229.3h1.6v1.6h-1.6zM180.1 212.2h1.6v1.6h-1.6zM171.7 169.0h1.6v1.6h-1.6zM130.4 191.3h1.6v1.6h-1.6zM116.1 214.2h1.6v1.6h-1.6zM224.8 153.0h1.6v1.6h-1.6zM169.8 193.9h1.6v1.6h-1.6zM257.7 128.4h1.6v1.6h-1.6zM194.1 199.6h1.6v1.6h-1.6zM223.8 139.2h1.6v1.6h-1.6zM92.2 167.5h1.6v1.6h-1.6zM112.9 168.3h1.6v1.6h-1.6zM372.4 145.9h1.6v1.6h-1.6zM132.8 159.5h1.6v1.6h-1.6zM193.2 171.2h1.6v1.6h-1.6zM226.7 153.7h1.6v1.6h-1.6zM328.9 202.0h1.6v1.6h-1.6zM230.4 166.7h1.6v1.6h-1.6zM124.0 210.3h1.6v1.6h-1.6zM165.4 203.7h1.6v1.6h-1.6zM265.4 209.2h1.6v1.6h-1.6zM140.0 169.4h1.6v1.6h-1.6zM100.2 134.2h1.6v1.6h-1.6zM201.8 133.0h1.6v1.6h-1.6zM135.2 147.1h1.6v1.6h-1.6zM204.9 173.3h1.6v1.6h-1.6zM255.6 166.4h1.6v1.6h-1.6zM189.6 228.0h1.6v1.6h-1.6zM143.5 154.0h1.6v1.6h-1.6zM218.7 213.3h1.6v1.6h-1.6zM138.4 133.3h1.6v1.6h-1.6zM131.5 231.9h1.6v1.6h-1.6zM170.5 147.1h1.6v1.6h-1.6zM109.2 179.7h1.6v1.6h-1.6zM93.9 161.8h1.6v1.6h-1.6zM172.9 191.2h1.6v1.6h-1.6zM222.1 202.2h1.6v1.6h-1.6zM157.7 235.2h1.6v1.6h-1.6zM93.8 210.6h1.6v1.6h-1.6zM199.0 202.3h1.6v1.6h-1.6zM163.1 220.1h1.6v1.6h-1.6zM149.3 212.2h1.6v1.6h-1.6zM101.8 132.6h1.6v1.6h-1.6zM175.8 204.3h1.6v1.6h-1.6zM107.7 213.6h1.6v1.6h-1.6zM212.6 222.0h1.6v1.6h-1.6zM100.1 234.1h1.6v1.6h-1.6zM204.5 197.4h1.6v1.6h-1.6zM112.4 166.5h1.6v1.6h-1.6zM295.4 175.4h1.6v1.6h-1.6zM222.0 196.2h1.6v1.6h-1.6zM103.9 138.1h1.6v1.6h-1.6zM130.2 225.1h1.6v1.6h-1.6zM156.9 131.7h1.6v1.6h-1.6zM161.5 163.1h1.6v1.6h-1.6zM187.1 164.8h1.6v1.6h-1.6zM146.0 213.4h1.6v1.6h-1.6zM106.4 191.8h1.6v1.6h-1.6zM209.5 168.1h1.6v1.6h-1.6zM249.5 170.5h1.6v1.6h-1.6zM189.7 199.1h1.6v1.6h-1.6zM145.0 225.7h1.6v1.6h-1.6zM198.7 182.0h1.6v1.6h-1.6zM250.9 131.1h1.6v1.6h-1.6zM201.3 150.6h1.6v1.6h-1.6zM168.1 170.9h1.6v1.6h-1.6zM96.5 169.7h1.6v1.6h-1.6zM120.8 176.3h1.6v1.6h-1.6zM328.9 128.2h1.6v1.6h-1.6zM206.9 191.4h1.6v1.6h-1.6zM290.6 138.9h1.6v1.6h-1.6zM384.9 182.2h1.6v1.6h-1.6zM142.1 215.3h1.6v1.6h-1.6zM247.9 134.3h1.6v1.6h-1.6zM162.7 223.4h1.6v1.6h-1.6zM266.2 180.6h1.6v1.6h-1.6zM92.6 161.1h1.6v1.6h-1.6zM120.3 187.4h1.6v1.6h-1.6zM94.5 176.2h1.6v1.6h-1.6zM96.9 202.6h1.6v1.6h-1.6zM104.2 229.1h1.6v1.6h-1.6zM124.2 168.3h1.6v1.6h-1.6zM102.2 177.8h1.6v1.6h-1.6zM108.9 151.4h1.6v1.6h-1.6zM106.9 217.1h1.6v1.6h-1.6zM122.2 151.6h1.6v1.6h-1.6zM204.0 220.4h1.6v1.6h-1.6zM125.5 211.2h1.6v1.6h-1.6zM167.8 169.8h1.6v1.6h-1.6zM195.8 166.7h1.6v1.6h-1.6zM155.7 202.2h1.6v1.6h-1.6zM191.2 194.8h1.6v1.6h-1.6zM304.8 229.3h1.6v1.6h-1.6zM142.2 168.4h1.6v1.6h-1.6zM91.1 196.4h1.6v1.6h-1.6zM133.5 210.8h1.6v1.6h-1.6zM127.7 148.1h1.6v1.6h-1.6zM151.0 175.7h1.6v1.6h-1.6zM200.9 210.6h1.6v1.6h-1.6zM131.0 223.3h1.6v1.6h-1.6zM386.6 150.1h1.6v1.6h-1.6zM356.9 201.2h1.6v1.6h-1.6zM189.6 219.8h1.6v1.6h-1.6zM118.5 222.5h1.6v1.6h-1.6zM109.9 192.8h1.6v1.6h-1.6zM147.0 218.7h1.6v1.6h-1.6zM193.7 176.6h1.6v1.6h-1.6zM170.6 174.8h1.6v1.6h-1.6zM342.6 132.7h1.6v1.6h-1.6zM129.2 232.2h1.6v1.6h-1.6zM242.4 191.5h1.6v1.6h-1.6zM269.9 140.7h1.6v1.6h-1.6zM111.4 172.2h1.6v1.6h-1.6zM140.1 219.4h1.6v1.6h-1.6zM240.7 230.8h1.6v1.6h-1.6zM119.6 191.7h1.6v1.6h-1.6zM233.0 181.1h1.6v1.6h-1.6zM338.5 155.5h1.6v1.6h-1.6zM149.9 196.2h1.6v1.6h-1.6zM105.2 191.7h1.6v1.6h-1.6zM169.2 131.5h1.6v1.6h-1.6zM138.2 205.6h1.6v1.6h-1.6zM102.8 202.1h1.6v1.6h-1.6zM144.2 150.6h1.6v1.6h-1.6zM201.2 134.1h1.6v1.6h-1.6zM135.5 209.9h1.6v1.6h-1.6zM103.8 173.1h1.6v1.6h-1.6zM328.3 145.8h1.6v1.6h-1.6zM363.5 168.6h1.6v1.6h-1.6zM136.2 180.5h1.6v1.6h-1.6zM331.2 154.4h1.6v1.6h-1.6zM340.2 194.2h1.6v1.6h-1.6zM277.3 175.4h1.6v1.6h-1.6zM157.4 210.1h1.6v1.6h-1.6zM94.3 158.0h1.6v1.6h-1.6zM225.2 179.1h1.6v1.6h-1.6zM172.1 154.7h1.6v1.6h-1.6zM176.4 155.0h1.6v1.6h-1.6zM94.5 160.0h1.6v1.6h-1.6zM298.0 160.3h1.6v1.6h-1.6zM210.0 208.5h1.6v1.6h-1.6zM325.6 160.7h1.6v1.6h-1.6zM125.8 224.8h1.6v1.6h-1.6zM168.3 114.9h1.6v1.6h-1.6zM124.9 181.7h1.6v1.6h-1.6zM97.3 171.4h1.6v1.6h-1.6zM184.1 212.8h1.6v1.6h-1.6zM105.3 212.8h1.6v1.6h-1.6zM254.7 171.2h1.6v1.6h-1.6zM130.0 169.3h1.6v1.6h-1.6zM105.3 162.9h1.6v1.6h-1.6zM156.1 203.8h1.6v1.6h-1.6zM109.7 108.7h1.6v1.6h-1.6zM143.1 221.1h1.6v1.6h-1.6zM186.5 145.2h1.6v1.6h-1.6zM271.8 146.6h1.6v1.6h-1.6zM308.1 135.3h1.6v1.6h-1.6zM264.4 143.8h1.6v1.6h-1.6zM182.4 186.1h1.6v1.6h-1.6zM284.1 153.4h1.6v1.6h-1.6zM378.6 188.5h1.6v1.6h-1.6zM166.3 160.6h1.6v1.6h-1.6zM224.9 199.4h1.6v1.6h-1.6zM164.6 211.6h1.6v1.6h-1.6zM151.0 195.0h1.6v1.6h-1.6zM267.7 197.2h1.6v1.6h-1.6zM99.8 193.1h1.6v1.6h-1.6zM174.2 179.5h1.6v1.6h-1.6zM160.7 179.2h1.6v1.6h-1.6zM100.7 185.7h1.6v1.6h-1.6zM270.6 174.6h1.6v1.6h-1.6zM106.1 199.4h1.6v1.6h-1.6zM147.5 159.2h1.6v1.6h-1.6zM177.5 181.1h1.6v1.6h-1.6zM359.5 144.7h1.6v1.6h-1.6zM149.7 220.2h1.6v1.6h-1.6zM347.8 175.3h1.6v1.6h-1.6zM135.0 168.5h1.6v1.6h-1.6zM348.3 130.4h1.6v1.6h-1.6zM166.2 178.3h1.6v1.6h-1.6zM229.9 217.8h1.6v1.6h-1.6zM243.9 134.3h1.6v1.6h-1.6zM213.9 195.0h1.6v1.6h-1.6zM209.0 171.3h1.6v1.6h-1.6zM159.8 211.3h1.6v1.6h-1.6zM348.3 130.2h1.6v1.6h-1.6zM123.9 213.4h1.6v1.6h-1.6zM182.4 173.6h1.6v1.6h-1.6zM245.3 181.6h1.6v1.6h-1.6zM93.0 179.5h1.6v1.6h-1.6zM377.6 160.5h1.6v1.6h-1.6zM116.2 201.1h1.6v1.6h-1.6zM129.2 185.8h1.6v1.6h-1.6zM353.1 183.5h1.6v1.6h-1.6zM149.8 168.0h1.6v1.6h-1.6zM130.4 223.1h1.6v1.6h-1.6zM161.9 205.0h1.6v1.6h-1.6zM175.3 186.2h1.6v1.6h-1.6zM239.6 153.2h1.6v1.6h-1.6zM140.2 210.7h1.6v1.6h-1.6zM142.3 216.3h1.6v1.6h-1.6zM122.4 167.1h1.6v1.6h-1.6zM101.2 200.3h1.6v1.6h-1.6zM188.6 138.6h1.6v1.6h-1.6zM300.4 210.2h1.6v1.6h-1.6zM241.8 122.9h1.6v1.6h-1.6zM315.4 200.6h1.6v1.6h-1.6zM140.9 188.6h1.6v1.6h-1.6zM263.5 151.9h1.6v1.6h-1.6zM140.3 173.9h1.6v1.6h-1.6zM137.4 225.1h1.6v1.6h-1.6zM103.4 199.5h1.6v1.6h-1.6zM131.5 152.4h1.6v1.6h-1.6zM237.6 223.4h1.6v1.6h-1.6zM201.9 191.5h1.6v1.6h-1.6zM224.7 197.1h1.6v1.6h-1.6zM351.4 170.5h1.6v1.6h-1.6zM264.0 136.2h1.6v1.6h-1.6zM92.0 165.9h1.6v1.6h-1.6zM179.1 163.9h1.6v1.6h-1.6zM260.0 214.0h1.6v1.6h-1.6zM137.0 229.5h1.6v1.6h-1.6zM179.7 206.1h1.6v1.6h-1.6zM187.4 156.5h1.6v1.6h-1.6zM200.0 232.4h1.6v1.6h-1.6zM160.2 195.1h1.6v1.6h-1.6zM97.9 109.7h1.6v1.6h-1.6zM336.7 140.6h1.6v1.6h-1.6zM236.8 225.2h1.6v1.6h-1.6zM324.2 138.1h1.6v1.6h-1.6zM176.8 181.5h1.6v1.6h-1.6zM142.4 166.1h1.6v1.6h-1.6zM329.5 184.5h1.6v1.6h-1.6zM202.0 173.6h1.6v1.6h-1.6zM216.2 209.5h1.6v1.6h-1.6zM285.3 209.8h1.6v1.6h-1.6zM150.2 137.5h1.6v1.6h-1.6zM115.2 181.5h1.6v1.6h-1.6zM174.2 188.9h1.6v1.6h-1.6zM151.7 165.2h1.6v1.6h-1.6zM110.4 180.8h1.6v1.6h-1.6zM192.8 166.4h1.6v1.6h-1.6zM169.6 215.4h1.6v1.6h-1.6zM146.9 169.3h1.6v1.6h-1.6zM122.4 217.2h1.6v1.6h-1.6zM144.2 120.5h1.6v1.6h-1.6zM233.5 182.1h1.6v1.6h-1.6zM114.6 184.3h1.6v1.6h-1.6zM239.7 192.4h1.6v1.6h-1.6zM166.3 199.2h1.6v1.6h-1.6zM95.7 113.9h1.6v1.6h-1.6zM155.7 201.1h1.6v1.6h-1.6zM124.7 158.3h1.6v1.6h-1.6zM257.6 193.4h1.6v1.6h-1.6zM336.4 162.0h1.6v1.6h-1.6zM282.0 170.6h1.6v1.6h-1.6zM171.1 138.4h1.6v1.6h-1.6zM241.0 207.4h1.6v1.6h-1.6zM319.2 171.5h1.6v1.6h-1.6zM260.6 134.2h1.6v1.6h-1.6zM121.0 224.7h1.6v1.6h-1.6zM138.2 186.4h1.6v1.6h-1.6zM120.0 158.1h1.6v1.6h-1.6zM244.5 223.0h1.6v1.6h-1.6zM292.2 184.2h1.6v1.6h-1.6zM215.9 135.6h1.6v1.6h-1.6zM183.4 139.5h1.6v1.6h-1.6zM135.7 161.5h1.6v1.6h-1.6zM158.3 165.7h1.6v1.6h-1.6zM126.1 222.7h1.6v1.6h-1.6zM148.5 180.3h1.6v1.6h-1.6zM96.9 173.0h1.6v1.6h-1.6zM353.7 166.8h1.6v1.6h-1.6zM137.5 162.0h1.6v1.6h-1.6zM171.0 213.0h1.6v1.6h-1.6zM265.1 170.2h1.6v1.6h-1.6zM386.6 201.8h1.6v1.6h-1.6zM190.2 153.1h1.6v1.6h-1.6zM182.7 159.8h1.6v1.6h-1.6zM124.9 198.1h1.6v1.6h-1.6zM350.3 176.9h1.6v1.6h-1.6zM137.6 149.3h1.6v1.6h-1.6zM152.4 136.3h1.6v1.6h-1.6zM119.6 192.5h1.6v1.6h-1.6zM270.1 159.1h1.6v1.6h-1.6zM181.5 188.4h1.6v1.6h-1.6zM168.2 222.2h1.6v1.6h-1.6zM101.0 205.0h1.6v1.6h-1.6zM205.3 218.0h1.6v1.6h-1.6zM92.9 153.2h1.6v1.6h-1.6zM129.0 193.1h1.6v1.6h-1.6zM121.5 127.3h1.6v1.6h-1.6zM197.4 180.4h1.6v1.6h-1.6zM226.1 210.9h1.6v1.6h-1.6zM284.7 193.8h1.6v1.6h-1.6zM299.1 134.9h1.6v1.6h-1.6zM149.0 168.9h1.6v1.6h-1.6zM278.6 171.7h1.6v1.6h-1.6zM124.6 152.3h1.6v1.6h-1.6zM119.6 144.5h1.6v1.6h-1.6zM170.8 191.4h1.6v1.6h-1.6zM133.0 214.6h1.6v1.6h-1.6zM126.3 205.8h1.6v1.6h-1.6zM141.5 216.6h1.6v1.6h-1.6zM216.6 199.5h1.6v1.6h-1.6zM107.8 223.6h1.6v1.6h-1.6zM215.4 225.0h1.6v1.6h-1.6zM251.6 160.0h1.6v1.6h-1.6zM92.6 168.3h1.6v1.6h-1.6zM367.1 137.4h1.6v1.6h-1.6zM134.6 191.6h1.6v1.6h-1.6zM201.1 176.4h1.6v1.6h-1.6zM127.5 194.3h1.6v1.6h-1.6zM186.4 188.7h1.6v1.6h-1.6zM146.7 194.1h1.6v1.6h-1.6zM216.5 144.4h1.6v1.6h-1.6zM228.4 200.3h1.6v1.6h-1.6zM115.7 179.4h1.6v1.6h-1.6zM120.4 213.2h1.6v1.6h-1.6zM210.4 230.6h1.6v1.6h-1.6zM176.9 219.8h1.6v1.6h-1.6zM216.5 150.3h1.6v1.6h-1.6zM236.3 230.1h1.6v1.6h-1.6zM100.5 116.3h1.6v1.6h-1.6zM95.2 159.8h1.6v1.6h-1.6zM161.2 126.3h1.6v1.6h-1.6zM137.5 150.4h1.6v1.6h-1.6zM135.7 122.6h1.6v1.6h-1.6zM148.2 230.0h1.6v1.6h-1.6zM306.3 123.6h1.6v1.6h-1.6zM249.9 209.0h1.6v1.6h-1.6zM124.9 235.0h1.6v1.6h-1.6zM212.0 220.5h1.6v1.6h-1.6zM282.4 199.7h1.6v1.6h-1.6zM127.7 181.3h1.6v1.6h-1.6zM155.5 117.4h1.6v1.6h-1.6zM137.2 157.3h1.6v1.6h-1.6zM125.7 146.8h1.6v1.6h-1.6zM147.4 170.8h1.6v1.6h-1.6zM213.2 126.0h1.6v1.6h-1.6zM124.5 166.8h1.6v1.6h-1.6zM112.9 200.8h1.6v1.6h-1.6zM123.7 195.3h1.6v1.6h-1.6zM374.9 216.7h1.6v1.6h-1.6zM232.3 211.6h1.6v1.6h-1.6zM243.5 233.4h1.6v1.6h-1.6zM316.3 222.4h1.6v1.6h-1.6zM306.9 138.2h1.6v1.6h-1.6zM162.1 176.7h1.6v1.6h-1.6zM155.0 202.9h1.6v1.6h-1.6zM107.2 137.6h1.6v1.6h-1.6zM154.1 211.5h1.6v1.6h-1.6zM271.3 119.3h1.6v1.6h-1.6zM208.7 223.3h1.6v1.6h-1.6zM180.1 151.9h1.6v1.6h-1.6zM142.2 207.4h1.6v1.6h-1.6zM109.5 194.4h1.6v1.6h-1.6zM180.3 186.7h1.6v1.6h-1.6zM97.1 193.2h1.6v1.6h-1.6zM94.4 133.9h1.6v1.6h-1.6zM147.4 204.4h1.6v1.6h-1.6zM129.3 176.1h1.6v1.6h-1.6zM138.0 204.6h1.6v1.6h-1.6zM99.4 147.1h1.6v1.6h-1.6zM348.2 219.3h1.6v1.6h-1.6zM293.7 199.6h1.6v1.6h-1.6zM270.2 132.5h1.6v1.6h-1.6zM200.6 181.8h1.6v1.6h-1.6zM358.7 162.9h1.6v1.6h-1.6zM299.1 188.5h1.6v1.6h-1.6zM223.3 169.5h1.6v1.6h-1.6zM184.4 160.8h1.6v1.6h-1.6zM369.9 140.5h1.6v1.6h-1.6zM115.4 164.5h1.6v1.6h-1.6zM368.2 185.6h1.6v1.6h-1.6zM186.1 221.0h1.6v1.6h-1.6zM329.0 173.0h1.6v1.6h-1.6zM363.3 224.8h1.6v1.6h-1.6zM121.7 188.8h1.6v1.6h-1.6zM114.3 205.0h1.6v1.6h-1.6zM356.4 145.4h1.6v1.6h-1.6zM117.1 221.7h1.6v1.6h-1.6zM196.5 161.5h1.6v1.6h-1.6zM204.9 154.6h1.6v1.6h-1.6zM105.9 117.7h1.6v1.6h-1.6zM115.0 170.0h1.6v1.6h-1.6zM181.6 175.0h1.6v1.6h-1.6zM174.7 158.8h1.6v1.6h-1.6zM142.5 204.7h1.6v1.6h-1.6zM190.2 123.2h1.6v1.6h-1.6zM338.0 201.9h1.6v1.6h-1.6zM217.5 151.3h1.6v1.6h-1.6zM222.8 150.6h1.6v1.6h-1.6zM99.5 211.3h1.6v1.6h-1.6zM110.2 206.2h1.6v1.6h-1.6zM198.9 182.5h1.6v1.6h-1.6zM265.4 136.3h1.6v1.6h-1.6zM272.2 157.1h1.6v1.6h-1.6zM324.6 177.9h1.6v1.6h-1.6zM207.8 182.1h1.6v1.6h-1.6zM102.6 219.1h1.6v1.6h-1.6zM249.0 230.4h1.6v1.6h-1.6zM180.7 202.7h1.6v1.6h-1.6zM200.5 167.2h1.6v1.6h-1.6zM284.5 158.0h1.6v1.6h-1.6zM102.1 147.1h1.6v1.6h-1.6zM168.1 192.1h1.6v1.6h-1.6zM122.2 153.9h1.6v1.6h-1.6zM251.0 195.5h1.6v1.6h-1.6zM120.6 173.3h1.6v1.6h-1.6zM109.4 213.2h1.6v1.6h-1.6zM124.3 217.0h1.6v1.6h-1.6zM232.1 215.5h1.6v1.6h-1.6zM254.3 199.8h1.6v1.6h-1.6zM382.3 131.9h1.6v1.6h-1.6zM291.2 141.7h1.6v1.6h-1.6zM151.4 220.5h1.6v1.6h-1.6zM104.7 188.1h1.6v1.6h-1.6zM197.8 222.2h1.6v1.6h-1.6zM311.8 180.4h1.6v1.6h-1.6zM121.1 119.9h1.6v1.6h-1.6zM156.1 197.3h1.6v1.6h-1.6zM205.1 217.3h1.6v1.6h-1.6zM192.7 217.6h1.6v1.6h-1.6zM261.5 220.4h1.6v1.6h-1.6zM329.7 182.6h1.6v1.6h-1.6zM249.6 167.5h1.6v1.6h-1.6zM195.5 194.5h1.6v1.6h-1.6zM95.7 170.4h1.6v1.6h-1.6zM133.8 174.8h1.6v1.6h-1.6zM243.4 125.8h1.6v1.6h-1.6zM119.2 236.4h1.6v1.6h-1.6zM293.4 207.9h1.6v1.6h-1.6zM346.8 206.2h1.6v1.6h-1.6zM127.9 201.8h1.6v1.6h-1.6zM299.5 171.8h1.6v1.6h-1.6zM217.8 199.0h1.6v1.6h-1.6zM236.1 174.4h1.6v1.6h-1.6zM179.5 111.6h1.6v1.6h-1.6zM330.7 195.1h1.6v1.6h-1.6zM169.9 234.9h1.6v1.6h-1.6zM104.2 183.4h1.6v1.6h-1.6zM193.2 165.9h1.6v1.6h-1.6zM104.3 237.2h1.6v1.6h-1.6zM231.4 175.4h1.6v1.6h-1.6zM292.3 200.0h1.6v1.6h-1.6zM101.2 158.7h1.6v1.6h-1.6zM256.8 177.4h1.6v1.6h-1.6zM199.9 164.6h1.6v1.6h-1.6zM186.4 222.8h1.6v1.6h-1.6zM330.2 176.0h1.6v1.6h-1.6zM164.0 163.9h1.6v1.6h-1.6zM213.0 168.6h1.6v1.6h-1.6zM180.0 152.3h1.6v1.6h-1.6zM222.1 160.3h1.6v1.6h-1.6zM162.8 220.6h1.6v1.6h-1.6zM99.1 204.1h1.6v1.6h-1.6zM94.8 182.3h1.6v1.6h-1.6zM327.0 127.3h1.6v1.6h-1.6zM178.4 116.8h1.6v1.6h-1.6zM195.4 167.2h1.6v1.6h-1.6zM131.3 205.0h1.6v1.6h-1.6zM99.1 136.6h1.6v1.6h-1.6zM152.2 212.5h1.6v1.6h-1.6zM169.7 193.5h1.6v1.6h-1.6zM109.2 208.9h1.6v1.6h-1.6zM121.0 187.3h1.6v1.6h-1.6zM197.1 146.7h1.6v1.6h-1.6zM161.6 207.7h1.6v1.6h-1.6zM166.2 194.4h1.6v1.6h-1.6zM149.9 170.7h1.6v1.6h-1.6zM204.7 164.6h1.6v1.6h-1.6zM257.0 201.6h1.6v1.6h-1.6zM311.7 141.4h1.6v1.6h-1.6zM244.1 173.6h1.6v1.6h-1.6zM196.9 108.1h1.6v1.6h-1.6zM186.5 208.3h1.6v1.6h-1.6zM368.1 160.5h1.6v1.6h-1.6zM148.4 135.2h1.6v1.6h-1.6zM163.4 184.4h1.6v1.6h-1.6zM313.4 207.2h1.6v1.6h-1.6zM255.0 206.5h1.6v1.6h-1.6zM255.9 204.9h1.6v1.6h-1.6zM231.7 157.8h1.6v1.6h-1.6zM336.7 125.8h1.6v1.6h-1.6zM129.2 219.6h1.6v1.6h-1.6zM183.4 149.6h1.6v1.6h-1.6zM165.9 184.7h1.6v1.6h-1.6zM116.5 158.1h1.6v1.6h-1.6zM123.6 201.2h1.6v1.6h-1.6zM107.6 209.8h1.6v1.6h-1.6zM151.0 202.8h1.6v1.6h-1.6zM125.6 227.0h1.6v1.6h-1.6zM266.7 176.9h1.6v1.6h-1.6zM222.4 163.9h1.6v1.6h-1.6zM163.7 158.1h1.6v1.6h-1.6zM139.0 194.4h1.6v1.6h-1.6zM170.3 166.2h1.6v1.6h-1.6zM377.7 178.8h1.6v1.6h-1.6zM202.8 156.1h1.6v1.6h-1.6zM200.2 151.6h1.6v1.6h-1.6zM172.6 222.5h1.6v1.6h-1.6zM119.4 209.8h1.6v1.6h-1.6zM96.9 218.9h1.6v1.6h-1.6zM155.4 200.2h1.6v1.6h-1.6zM94.4 230.9h1.6v1.6h-1.6zM193.0 158.2h1.6v1.6h-1.6zM148.9 195.3h1.6v1.6h-1.6zM182.8 181.8h1.6v1.6h-1.6zM139.9 165.0h1.6v1.6h-1.6zM140.8 190.3h1.6v1.6h-1.6zM127.3 192.0h1.6v1.6h-1.6zM101.9 199.3h1.6v1.6h-1.6zM274.1 168.3h1.6v1.6h-1.6zM143.0 179.7h1.6v1.6h-1.6zM286.9 149.7h1.6v1.6h-1.6zM228.9 207.0h1.6v1.6h-1.6zM103.0 222.7h1.6v1.6h-1.6zM97.9 178.8h1.6v1.6h-1.6zM380.2 204.8h1.6v1.6h-1.6zM372.7 154.1h1.6v1.6h-1.6zM195.8 176.9h1.6v1.6h-1.6zM150.6 211.3h1.6v1.6h-1.6zM189.4 164.7h1.6v1.6h-1.6zM183.4 201.6h1.6v1.6h-1.6zM279.0 149.6h1.6v1.6h-1.6zM96.0 178.9h1.6v1.6h-1.6zM195.0 207.1h1.6v1.6h-1.6zM188.1 193.4h1.6v1.6h-1.6zM164.4 203.6h1.6v1.6h-1.6zM147.1 158.0h1.6v1.6h-1.6zM112.0 222.7h1.6v1.6h-1.6zM179.9 224.6h1.6v1.6h-1.6zM291.9 132.3h1.6v1.6h-1.6zM126.9 236.3h1.6v1.6h-1.6zM111.6 149.8h1.6v1.6h-1.6zM254.8 177.7h1.6v1.6h-1.6zM95.5 223.0h1.6v1.6h-1.6zM169.4 233.3h1.6v1.6h-1.6zM99.6 211.8h1.6v1.6h-1.6zM162.3 204.0h1.6v1.6h-1.6zM247.1 190.1h1.6v1.6h-1.6zM160.6 173.9h1.6v1.6h-1.6zM114.5 211.0h1.6v1.6h-1.6zM120.0 205.9h1.6v1.6h-1.6zM91.6 141.4h1.6v1.6h-1.6zM91.0 123.8h1.6v1.6h-1.6zM91.1 137.0h1.6v1.6h-1.6zM91.1 114.9h1.6v1.6h-1.6zM91.3 143.9h1.6v1.6h-1.6zM91.2 138.6h1.6v1.6h-1.6zM91.6 131.0h1.6v1.6h-1.6zM91.4 138.0h1.6v1.6h-1.6zM91.4 139.4h1.6v1.6h-1.6zM91.2 146.0h1.6v1.6h-1.6zM91.6 131.5h1.6v1.6h-1.6zM90.9 122.3h1.6v1.6h-1.6zM91.7 136.4h1.6v1.6h-1.6zM91.3 112.8h1.6v1.6h-1.6zM91.7 126.7h1.6v1.6h-1.6zM91.7 136.7h1.6v1.6h-1.6zM91.1 136.7h1.6v1.6h-1.6zM91.5 139.7h1.6v1.6h-1.6zM91.6 146.3h1.6v1.6h-1.6zM91.0 131.8h1.6v1.6h-1.6zM91.0 129.7h1.6v1.6h-1.6zM91.4 120.3h1.6v1.6h-1.6zM91.3 146.9h1.6v1.6h-1.6zM91.5 149.4h1.6v1.6h-1.6zM91.4 116.0h1.6v1.6h-1.6zM91.5 136.9h1.6v1.6h-1.6zM91.6 122.8h1.6v1.6h-1.6zM91.5 117.0h1.6v1.6h-1.6zM91.0 139.9h1.6v1.6h-1.6zM91.2 143.8h1.6v1.6h-1.6zM91.0 120.6h1.6v1.6h-1.6zM91.7 138.4h1.6v1.6h-1.6zM91.1 130.8h1.6v1.6h-1.6zM91.7 150.1h1.6v1.6h-1.6zM91.1 204.7h1.6v1.6h-1.6zM91.3 205.1h1.6v1.6h-1.6zM90.9 203.1h1.6v1.6h-1.6zM91.1 202.7h1.6v1.6h-1.6zM91.1 199.7h1.6v1.6h-1.6zM91.4 153.6h1.6v1.6h-1.6zM91.1 229.0h1.6v1.6h-1.6zM91.0 201.4h1.6v1.6h-1.6zM91.0 186.6h1.6v1.6h-1.6zM90.8 181.5h1.6v1.6h-1.6zM91.2 203.1h1.6v1.6h-1.6zM91.4 172.7h1.6v1.6h-1.6zM91.7 195.8h1.6v1.6h-1.6zM91.4 218.1h1.6v1.6h-1.6zM91.4 157.1h1.6v1.6h-1.6zM91.3 213.4h1.6v1.6h-1.6zM91.5 173.4h1.6v1.6h-1.6zM90.9 155.4h1.6v1.6h-1.6zM91.7 216.5h1.6v1.6h-1.6zM91.5 169.9h1.6v1.6h-1.6zM91.5 168.1h1.6v1.6h-1.6zM91.0 201.8h1.6v1.6h-1.6zM91.1 156.5h1.6v1.6h-1.6zM91.6 218.6h1.6v1.6h-1.6zM91.5 188.7h1.6v1.6h-1.6zM90.9 151.9h1.6v1.6h-1.6zM91.4 187.7h1.6v1.6h-1.6zM91.6 160.1h1.6v1.6h-1.6zM416.3 118.4h1.6v1.6h-1.6zM427.1 121.1h1.6v1.6h-1.6zM398.4 122.9h1.6v1.6h-1.6zM435.2 129.2h1.6v1.6h-1.6zM410.9 133.5h1.6v1.6h-1.6zM425.2 133.5h1.6v1.6h-1.6zM425.6 136.7h1.6v1.6h-1.6zM403.1 141.0h1.6v1.6h-1.6zM396.0 144.0h1.6v1.6h-1.6zM422.7 142.5h1.6v1.6h-1.6zM413.6 147.1h1.6v1.6h-1.6zM427.9 149.9h1.6v1.6h-1.6zM393.9 150.0h1.6v1.6h-1.6zM411.1 153.0h1.6v1.6h-1.6zM390.3 159.2h1.6v1.6h-1.6zM400.2 159.2h1.6v1.6h-1.6zM397.0 160.7h1.6v1.6h-1.6zM398.5 162.4h1.6v1.6h-1.6zM391.2 166.9h1.6v1.6h-1.6zM391.6 169.8h1.6v1.6h-1.6zM402.3 168.2h1.6v1.6h-1.6zM411.1 171.1h1.6v1.6h-1.6zM417.2 168.2h1.6v1.6h-1.6zM417.2 172.7h1.6v1.6h-1.6zM422.4 168.1h1.6v1.6h-1.6zM423.4 167.0h1.6v1.6h-1.6zM430.5 166.9h1.6v1.6h-1.6zM435.4 171.3h1.6v1.6h-1.6zM439.7 169.6h1.6v1.6h-1.6zM389.9 175.9h1.6v1.6h-1.6zM405.7 177.4h1.6v1.6h-1.6zM412.8 178.8h1.6v1.6h-1.6zM434.5 177.3h1.6v1.6h-1.6zM439.7 178.8h1.6v1.6h-1.6zM394.7 184.9h1.6v1.6h-1.6zM419.9 184.9h1.6v1.6h-1.6zM428.2 186.5h1.6v1.6h-1.6zM431.0 186.5h1.6v1.6h-1.6zM432.2 183.4h1.6v1.6h-1.6zM436.8 187.8h1.6v1.6h-1.6zM447.4 178.7h1.6v1.6h-1.6zM405.9 190.9h1.6v1.6h-1.6zM412.0 190.9h1.6v1.6h-1.6zM416.6 190.9h1.6v1.6h-1.6zM419.5 190.9h1.6v1.6h-1.6zM422.4 190.9h1.6v1.6h-1.6zM389.3 208.8h1.6v1.6h-1.6zM390.1 225.5h1.6v1.6h-1.6zM389.5 233.2h1.6v1.6h-1.6zM453.2 184.9h1.6v1.6h-1.6zM470.1 183.1h1.6v1.6h-1.6zM490.2 171.1h1.6v1.6h-1.6zM474.5 208.8h1.6v1.6h-1.6zM106.0 83.7h1.6v1.6h-1.6zM111.6 85.0h1.6v1.6h-1.6zM117.0 86.4h1.6v1.6h-1.6zM112.0 89.8h1.6v1.6h-1.6zM100.7 91.2h1.6v1.6h-1.6zM124.9 94.0h1.6v1.6h-1.6zM91.4 99.0h1.6v1.6h-1.6zM113.0 99.0h1.6v1.6h-1.6zM114.3 100.2h1.6v1.6h-1.6zM106.0 101.9h1.6v1.6h-1.6zM144.1 104.8h1.6v1.6h-1.6zM94.9 237.5h1.6v1.6h-1.6zM130.7 240.8h1.6v1.6h-1.6zM149.9 240.6h1.6v1.6h-1.6zM146.0 245.0h1.6v1.6h-1.6zM150.3 245.0h1.6v1.6h-1.6zM164.5 243.5h1.6v1.6h-1.6zM169.9 239.3h1.6v1.6h-1.6zM171.8 240.8h1.6v1.6h-1.6zM175.7 242.4h1.6v1.6h-1.6zM179.5 240.8h1.6v1.6h-1.6zM174.5 245.0h1.6v1.6h-1.6zM181.0 245.0h1.6v1.6h-1.6zM181.0 248.1h1.6v1.6h-1.6zM95.7 249.7h1.6v1.6h-1.6zM99.9 248.5h1.6v1.6h-1.6zM101.0 251.0h1.6v1.6h-1.6zM144.1 249.7h1.6v1.6h-1.6zM154.5 249.7h1.6v1.6h-1.6zM172.6 249.7h1.6v1.6h-1.6zM169.7 255.8h1.6v1.6h-1.6zM181.0 253.9h1.6v1.6h-1.6zM168.2 263.1h1.6v1.6h-1.6zM191.1 237.5h1.6v1.6h-1.6zM185.4 239.3h1.6v1.6h-1.6zM186.9 245.0h1.6v1.6h-1.6zM188.4 245.0h1.6v1.6h-1.6zM190.4 243.5h1.6v1.6h-1.6zM190.4 249.7h1.6v1.6h-1.6zM192.3 251.0h1.6v1.6h-1.6zM194.2 252.5h1.6v1.6h-1.6zM186.9 251.0h1.6v1.6h-1.6zM195.2 263.1h1.6v1.6h-1.6zM215.0 243.5h1.6v1.6h-1.6zM230.9 240.8h1.6v1.6h-1.6zM239.2 237.5h1.6v1.6h-1.6zM268.0 239.3h1.6v1.6h-1.6zM269.6 246.6h1.6v1.6h-1.6zM273.0 249.7h1.6v1.6h-1.6zM289.7 237.7h1.6v1.6h-1.6zM313.1 239.2h1.6v1.6h-1.6zM316.2 239.2h1.6v1.6h-1.6zM345.8 242.3h1.6v1.6h-1.6zM345.6 261.8h1.6v1.6h-1.6zM345.6 268.0h1.6v1.6h-1.6zM346.1 270.6h1.6v1.6h-1.6zM385.2 264.9h1.6v1.6h-1.6z"/><path fill="#333333" d="M90.8 109.3h1.8v1.8h-1.8zM91.3 114.5h1.8v1.8h-1.8zM91.6 121.5h1.8v1.8h-1.8zM91.1 121.8h1.8v1.8h-1.8zM123.8 211.3h1.8v1.8h-1.8zM305.2 148.3h1.8v1.8h-1.8zM295.1 177.2h1.8v1.8h-1.8zM294.4 188.6h1.8v1.8h-1.8zM170.9 111.5h1.8v1.8h-1.8zM122.9 167.2h1.8v1.8h-1.8zM122.2 143.6h1.8v1.8h-1.8zM161.4 154.4h1.8v1.8h-1.8zM349.9 145.6h1.8v1.8h-1.8zM314.2 163.7h1.8v1.8h-1.8zM127.3 174.1h1.8v1.8h-1.8zM331.6 144.4h1.8v1.8h-1.8zM274.0 191.4h1.8v1.8h-1.8zM125.8 152.8h1.8v1.8h-1.8zM134.8 140.0h1.8v1.8h-1.8zM113.9 155.5h1.8v1.8h-1.8zM137.8 143.8h1.8v1.8h-1.8zM94.6 169.5h1.8v1.8h-1.8zM112.5 151.6h1.8v1.8h-1.8zM293.4 165.0h1.8v1.8h-1.8zM290.0 148.4h1.8v1.8h-1.8zM272.6 145.9h1.8v1.8h-1.8zM332.3 137.4h1.8v1.8h-1.8zM305.8 138.3h1.8v1.8h-1.8zM138.1 189.6h1.8v1.8h-1.8zM260.8 158.6h1.8v1.8h-1.8zM323.4 178.1h1.8v1.8h-1.8zM119.7 150.3h1.8v1.8h-1.8zM142.8 119.4h1.8v1.8h-1.8zM96.9 128.8h1.8v1.8h-1.8zM113.1 147.5h1.8v1.8h-1.8zM344.5 151.1h1.8v1.8h-1.8zM342.5 177.8h1.8v1.8h-1.8zM178.0 169.7h1.8v1.8h-1.8zM103.4 134.7h1.8v1.8h-1.8zM342.7 219.0h1.8v1.8h-1.8zM102.1 125.0h1.8v1.8h-1.8zM298.9 108.1h1.8v1.8h-1.8zM128.9 171.1h1.8v1.8h-1.8zM279.9 147.2h1.8v1.8h-1.8zM107.9 153.9h1.8v1.8h-1.8zM155.8 137.9h1.8v1.8h-1.8zM120.1 118.9h1.8v1.8h-1.8zM147.6 177.5h1.8v1.8h-1.8zM305.0 144.0h1.8v1.8h-1.8zM304.4 135.3h1.8v1.8h-1.8zM155.2 155.2h1.8v1.8h-1.8zM91.0 112.2h1.8v1.8h-1.8zM223.0 146.3h1.8v1.8h-1.8zM114.0 163.0h1.8v1.8h-1.8zM346.8 134.6h1.8v1.8h-1.8zM283.5 127.4h1.8v1.8h-1.8zM141.9 156.2h1.8v1.8h-1.8zM100.9 147.1h1.8v1.8h-1.8zM108.6 160.4h1.8v1.8h-1.8zM264.4 147.0h1.8v1.8h-1.8zM300.2 118.7h1.8v1.8h-1.8zM366.3 170.7h1.8v1.8h-1.8zM120.2 146.6h1.8v1.8h-1.8zM119.9 114.0h1.8v1.8h-1.8zM114.7 204.4h1.8v1.8h-1.8zM113.7 187.6h1.8v1.8h-1.8zM223.4 197.0h1.8v1.8h-1.8zM366.5 165.8h1.8v1.8h-1.8zM209.5 180.1h1.8v1.8h-1.8zM97.2 174.3h1.8v1.8h-1.8zM116.9 161.7h1.8v1.8h-1.8zM102.1 137.8h1.8v1.8h-1.8zM147.2 171.3h1.8v1.8h-1.8zM332.7 209.9h1.8v1.8h-1.8zM269.9 139.2h1.8v1.8h-1.8zM94.5 150.5h1.8v1.8h-1.8zM368.3 149.6h1.8v1.8h-1.8zM108.0 156.3h1.8v1.8h-1.8zM122.9 181.4h1.8v1.8h-1.8zM250.1 130.4h1.8v1.8h-1.8zM99.8 171.9h1.8v1.8h-1.8zM236.2 195.0h1.8v1.8h-1.8zM95.7 224.8h1.8v1.8h-1.8zM202.7 171.5h1.8v1.8h-1.8zM126.1 121.9h1.8v1.8h-1.8zM262.0 157.3h1.8v1.8h-1.8zM128.8 128.0h1.8v1.8h-1.8zM341.9 139.0h1.8v1.8h-1.8zM115.6 197.2h1.8v1.8h-1.8zM283.5 120.4h1.8v1.8h-1.8zM358.5 158.7h1.8v1.8h-1.8zM345.1 116.4h1.8v1.8h-1.8zM327.2 115.0h1.8v1.8h-1.8zM124.6 152.5h1.8v1.8h-1.8zM307.4 142.2h1.8v1.8h-1.8zM107.8 128.9h1.8v1.8h-1.8zM282.3 191.8h1.8v1.8h-1.8zM134.8 175.1h1.8v1.8h-1.8zM366.8 184.0h1.8v1.8h-1.8zM95.8 157.4h1.8v1.8h-1.8zM104.5 148.7h1.8v1.8h-1.8zM99.6 183.0h1.8v1.8h-1.8zM126.1 158.4h1.8v1.8h-1.8zM128.6 133.2h1.8v1.8h-1.8zM273.0 146.4h1.8v1.8h-1.8zM284.2 145.0h1.8v1.8h-1.8zM96.5 153.1h1.8v1.8h-1.8zM307.7 157.5h1.8v1.8h-1.8zM256.9 155.4h1.8v1.8h-1.8zM183.7 209.5h1.8v1.8h-1.8zM209.5 113.9h1.8v1.8h-1.8zM153.5 167.0h1.8v1.8h-1.8zM159.9 175.5h1.8v1.8h-1.8zM95.3 194.0h1.8v1.8h-1.8zM302.6 149.8h1.8v1.8h-1.8zM133.8 180.2h1.8v1.8h-1.8zM98.6 171.9h1.8v1.8h-1.8zM118.0 119.5h1.8v1.8h-1.8zM103.4 114.5h1.8v1.8h-1.8zM156.4 137.1h1.8v1.8h-1.8zM346.9 129.1h1.8v1.8h-1.8zM338.0 133.2h1.8v1.8h-1.8zM345.0 131.7h1.8v1.8h-1.8zM106.0 145.4h1.8v1.8h-1.8zM268.3 178.2h1.8v1.8h-1.8zM146.4 211.6h1.8v1.8h-1.8zM313.9 170.7h1.8v1.8h-1.8zM103.0 175.3h1.8v1.8h-1.8zM100.5 136.2h1.8v1.8h-1.8zM191.9 127.5h1.8v1.8h-1.8zM102.2 192.6h1.8v1.8h-1.8zM92.7 120.7h1.8v1.8h-1.8zM345.9 172.9h1.8v1.8h-1.8zM93.8 194.4h1.8v1.8h-1.8zM144.7 196.7h1.8v1.8h-1.8zM110.6 149.7h1.8v1.8h-1.8zM98.9 132.2h1.8v1.8h-1.8zM120.0 234.1h1.8v1.8h-1.8zM320.3 138.7h1.8v1.8h-1.8zM111.5 142.8h1.8v1.8h-1.8zM108.8 127.3h1.8v1.8h-1.8zM118.2 213.3h1.8v1.8h-1.8zM351.4 174.1h1.8v1.8h-1.8zM304.9 141.6h1.8v1.8h-1.8zM195.0 187.3h1.8v1.8h-1.8zM156.5 109.3h1.8v1.8h-1.8zM103.9 190.8h1.8v1.8h-1.8zM266.4 130.6h1.8v1.8h-1.8zM99.6 124.3h1.8v1.8h-1.8zM118.4 192.8h1.8v1.8h-1.8zM102.0 137.6h1.8v1.8h-1.8zM104.8 121.6h1.8v1.8h-1.8zM107.0 150.7h1.8v1.8h-1.8zM365.8 178.5h1.8v1.8h-1.8zM292.5 143.8h1.8v1.8h-1.8zM120.8 142.4h1.8v1.8h-1.8zM113.5 126.5h1.8v1.8h-1.8zM200.0 129.3h1.8v1.8h-1.8zM103.0 129.5h1.8v1.8h-1.8zM125.6 160.9h1.8v1.8h-1.8zM183.3 108.1h1.8v1.8h-1.8zM178.6 235.6h1.8v1.8h-1.8zM178.9 196.8h1.8v1.8h-1.8zM184.5 221.5h1.8v1.8h-1.8zM178.4 217.7h1.8v1.8h-1.8zM179.2 212.7h1.8v1.8h-1.8zM178.4 212.1h1.8v1.8h-1.8zM184.3 227.8h1.8v1.8h-1.8zM177.5 214.3h1.8v1.8h-1.8zM181.8 200.3h1.8v1.8h-1.8zM184.6 219.1h1.8v1.8h-1.8zM180.9 204.8h1.8v1.8h-1.8zM182.1 235.0h1.8v1.8h-1.8zM179.5 235.3h1.8v1.8h-1.8zM183.6 205.5h1.8v1.8h-1.8zM397.1 133.4h1.8v1.8h-1.8zM387.7 163.7h1.8v1.8h-1.8zM410.8 172.4h1.8v1.8h-1.8zM91.3 59.3h1.8v1.8h-1.8zM108.1 65.1h1.8v1.8h-1.8zM179.2 59.3h1.8v1.8h-1.8zM167.9 70.1h1.8v1.8h-1.8zM155.8 74.7h1.8v1.8h-1.8zM99.0 82.0h1.8v1.8h-1.8zM96.9 89.7h1.8v1.8h-1.8zM91.3 93.9h1.8v1.8h-1.8zM107.7 97.0h1.8v1.8h-1.8zM91.3 99.9h1.8v1.8h-1.8zM113.8 102.8h1.8v1.8h-1.8zM118.6 104.7h1.8v1.8h-1.8zM133.1 102.8h1.8v1.8h-1.8zM150.9 101.8h1.8v1.8h-1.8zM93.6 104.7h1.8v1.8h-1.8zM200.7 55.0h1.8v1.8h-1.8zM214.9 61.0h1.8v1.8h-1.8zM237.1 59.5h1.8v1.8h-1.8zM276.0 77.5h1.8v1.8h-1.8zM206.8 92.7h1.8v1.8h-1.8zM193.5 98.6h1.8v1.8h-1.8zM251.0 106.2h1.8v1.8h-1.8zM298.5 83.8h1.8v1.8h-1.8zM309.5 98.6h1.8v1.8h-1.8zM299.3 104.8h1.8v1.8h-1.8zM182.6 239.9h1.8v1.8h-1.8z"/><rect x="82" y="45" width="418" height="306" fill="none" stroke="#141414" stroke-width="2"/><rect x="76" y="338.2" width="5" height="2" fill="#141414"/><text x="69.5" y="344.6" text-anchor="end" class="t">0</text><rect x="76" y="263.0" width="5" height="2" fill="#141414"/><text x="69.5" y="269.4" text-anchor="end" class="t">50</text><rect x="76" y="188.6" width="5" height="2" fill="#141414"/><text x="69.5" y="195.0" text-anchor="end" class="t">100</text><rect x="76" y="112.4" width="5" height="2" fill="#141414"/><text x="69.5" y="118.8" text-anchor="end" class="t">150</text><rect x="91.1" y="352" width="2" height="5" fill="#141414"/><text x="92.1" y="377.0" text-anchor="middle" class="t">0</text><rect x="171.0" y="352" width="2" height="5" fill="#141414"/><text x="172.0" y="377.0" text-anchor="middle" class="t">200</text><rect x="250.9" y="352" width="2" height="5" fill="#141414"/><text x="251.9" y="377.0" text-anchor="middle" class="t">400</text><rect x="330.8" y="352" width="2" height="5" fill="#141414"/><text x="331.8" y="377.0" text-anchor="middle" class="t">600</text><rect x="410.7" y="352" width="2" height="5" fill="#141414"/><text x="411.7" y="377.0" text-anchor="middle" class="t">800</text><rect x="490.6" y="352" width="2" height="5" fill="#141414"/><text x="491.6" y="377.0" text-anchor="middle" class="t">1000</text><text transform="translate(18.6,32.0) scale(0.88,1)" class="pl">A</text><path fill="#e02828" d="M212.7 592.8h1.6v1.6h-1.6zM254.9 590.6h1.6v1.6h-1.6zM356.0 526.8h1.6v1.6h-1.6zM180.5 572.9h1.6v1.6h-1.6zM205.8 577.8h1.6v1.6h-1.6zM106.3 561.2h1.6v1.6h-1.6zM157.9 567.0h1.6v1.6h-1.6zM179.8 537.4h1.6v1.6h-1.6zM154.4 538.7h1.6v1.6h-1.6zM147.6 517.2h1.6v1.6h-1.6zM129.5 593.7h1.6v1.6h-1.6zM101.5 574.7h1.6v1.6h-1.6zM187.5 596.8h1.6v1.6h-1.6zM163.4 557.0h1.6v1.6h-1.6zM114.2 533.5h1.6v1.6h-1.6zM136.0 526.9h1.6v1.6h-1.6zM158.1 544.3h1.6v1.6h-1.6zM371.2 573.8h1.6v1.6h-1.6zM176.0 607.0h1.6v1.6h-1.6zM324.1 589.7h1.6v1.6h-1.6zM121.3 534.0h1.6v1.6h-1.6zM159.2 543.9h1.6v1.6h-1.6zM278.3 543.8h1.6v1.6h-1.6zM369.5 560.4h1.6v1.6h-1.6zM128.7 538.3h1.6v1.6h-1.6zM197.5 607.6h1.6v1.6h-1.6zM126.8 573.6h1.6v1.6h-1.6zM134.0 559.5h1.6v1.6h-1.6zM161.9 535.4h1.6v1.6h-1.6zM100.8 515.7h1.6v1.6h-1.6zM152.8 562.4h1.6v1.6h-1.6zM117.4 575.4h1.6v1.6h-1.6zM211.4 544.6h1.6v1.6h-1.6zM93.0 617.0h1.6v1.6h-1.6zM204.2 564.6h1.6v1.6h-1.6zM252.8 561.4h1.6v1.6h-1.6zM107.4 524.5h1.6v1.6h-1.6zM333.5 546.6h1.6v1.6h-1.6zM251.3 577.9h1.6v1.6h-1.6zM206.3 623.3h1.6v1.6h-1.6zM224.6 598.7h1.6v1.6h-1.6zM145.7 581.2h1.6v1.6h-1.6zM194.6 613.2h1.6v1.6h-1.6zM322.1 585.5h1.6v1.6h-1.6zM248.2 562.5h1.6v1.6h-1.6zM92.1 562.4h1.6v1.6h-1.6zM264.3 582.0h1.6v1.6h-1.6zM236.3 588.9h1.6v1.6h-1.6zM175.7 539.2h1.6v1.6h-1.6zM225.3 504.8h1.6v1.6h-1.6zM130.2 558.6h1.6v1.6h-1.6zM109.7 554.8h1.6v1.6h-1.6zM259.2 539.5h1.6v1.6h-1.6zM162.3 551.7h1.6v1.6h-1.6zM138.6 587.4h1.6v1.6h-1.6zM154.6 594.7h1.6v1.6h-1.6zM267.7 555.5h1.6v1.6h-1.6zM133.2 520.0h1.6v1.6h-1.6zM174.7 539.0h1.6v1.6h-1.6zM223.7 565.8h1.6v1.6h-1.6zM98.7 570.0h1.6v1.6h-1.6zM166.6 512.7h1.6v1.6h-1.6zM257.4 501.9h1.6v1.6h-1.6zM275.5 522.4h1.6v1.6h-1.6zM226.0 514.5h1.6v1.6h-1.6zM251.5 579.8h1.6v1.6h-1.6zM138.5 543.3h1.6v1.6h-1.6zM186.2 578.8h1.6v1.6h-1.6zM125.3 594.2h1.6v1.6h-1.6zM151.6 581.8h1.6v1.6h-1.6zM202.8 558.6h1.6v1.6h-1.6zM296.0 524.3h1.6v1.6h-1.6zM142.2 588.6h1.6v1.6h-1.6zM290.8 576.3h1.6v1.6h-1.6zM246.4 540.0h1.6v1.6h-1.6zM270.4 540.7h1.6v1.6h-1.6zM296.4 543.8h1.6v1.6h-1.6zM95.3 569.4h1.6v1.6h-1.6zM327.9 521.3h1.6v1.6h-1.6zM248.9 554.4h1.6v1.6h-1.6zM268.8 605.5h1.6v1.6h-1.6zM161.5 486.9h1.6v1.6h-1.6zM357.2 536.6h1.6v1.6h-1.6zM165.4 563.9h1.6v1.6h-1.6zM95.8 585.4h1.6v1.6h-1.6zM102.0 548.5h1.6v1.6h-1.6zM158.0 583.9h1.6v1.6h-1.6zM150.1 512.6h1.6v1.6h-1.6zM93.8 583.0h1.6v1.6h-1.6zM229.1 533.1h1.6v1.6h-1.6zM113.0 612.8h1.6v1.6h-1.6zM378.5 590.9h1.6v1.6h-1.6zM123.6 521.7h1.6v1.6h-1.6zM182.0 523.0h1.6v1.6h-1.6zM295.3 522.3h1.6v1.6h-1.6zM93.2 559.3h1.6v1.6h-1.6zM231.8 561.5h1.6v1.6h-1.6zM109.8 577.4h1.6v1.6h-1.6zM258.7 532.3h1.6v1.6h-1.6zM322.2 519.5h1.6v1.6h-1.6zM288.2 552.0h1.6v1.6h-1.6zM203.7 615.8h1.6v1.6h-1.6zM262.6 534.4h1.6v1.6h-1.6zM313.2 555.4h1.6v1.6h-1.6zM257.4 555.1h1.6v1.6h-1.6zM289.3 591.5h1.6v1.6h-1.6zM100.8 554.0h1.6v1.6h-1.6zM267.2 523.0h1.6v1.6h-1.6zM268.5 492.1h1.6v1.6h-1.6zM104.1 531.3h1.6v1.6h-1.6zM186.4 605.6h1.6v1.6h-1.6zM228.2 553.1h1.6v1.6h-1.6zM262.3 568.0h1.6v1.6h-1.6zM142.7 523.6h1.6v1.6h-1.6zM117.2 533.5h1.6v1.6h-1.6zM99.5 597.3h1.6v1.6h-1.6zM235.6 506.1h1.6v1.6h-1.6zM212.0 546.9h1.6v1.6h-1.6zM198.7 566.6h1.6v1.6h-1.6zM290.0 553.2h1.6v1.6h-1.6zM101.2 500.8h1.6v1.6h-1.6zM119.2 553.5h1.6v1.6h-1.6zM158.0 534.9h1.6v1.6h-1.6zM200.0 580.8h1.6v1.6h-1.6zM104.3 535.8h1.6v1.6h-1.6zM115.2 537.3h1.6v1.6h-1.6zM183.4 558.4h1.6v1.6h-1.6zM319.5 590.9h1.6v1.6h-1.6zM130.7 522.8h1.6v1.6h-1.6zM121.5 518.1h1.6v1.6h-1.6zM257.6 571.6h1.6v1.6h-1.6zM102.2 549.4h1.6v1.6h-1.6zM147.4 568.9h1.6v1.6h-1.6zM188.6 605.4h1.6v1.6h-1.6zM185.9 517.4h1.6v1.6h-1.6zM208.5 520.5h1.6v1.6h-1.6zM143.2 541.2h1.6v1.6h-1.6zM114.8 558.0h1.6v1.6h-1.6zM382.7 568.9h1.6v1.6h-1.6zM99.7 547.3h1.6v1.6h-1.6zM95.8 559.6h1.6v1.6h-1.6zM124.1 616.9h1.6v1.6h-1.6zM119.0 541.3h1.6v1.6h-1.6zM118.2 538.2h1.6v1.6h-1.6zM100.6 619.9h1.6v1.6h-1.6zM138.6 558.0h1.6v1.6h-1.6zM101.7 549.2h1.6v1.6h-1.6zM257.5 617.6h1.6v1.6h-1.6zM124.7 549.5h1.6v1.6h-1.6zM106.6 532.9h1.6v1.6h-1.6zM220.2 610.5h1.6v1.6h-1.6zM279.4 591.5h1.6v1.6h-1.6zM180.5 521.9h1.6v1.6h-1.6zM118.0 547.3h1.6v1.6h-1.6zM178.3 596.4h1.6v1.6h-1.6zM103.5 532.2h1.6v1.6h-1.6zM304.8 559.4h1.6v1.6h-1.6zM270.8 587.7h1.6v1.6h-1.6zM209.6 567.6h1.6v1.6h-1.6zM221.0 578.9h1.6v1.6h-1.6zM181.2 568.1h1.6v1.6h-1.6zM106.8 532.6h1.6v1.6h-1.6zM99.7 569.4h1.6v1.6h-1.6zM123.9 473.7h1.6v1.6h-1.6zM170.6 527.6h1.6v1.6h-1.6zM282.3 567.5h1.6v1.6h-1.6zM273.1 565.5h1.6v1.6h-1.6zM170.9 587.5h1.6v1.6h-1.6zM125.4 546.4h1.6v1.6h-1.6zM241.0 526.6h1.6v1.6h-1.6zM195.5 502.1h1.6v1.6h-1.6zM221.1 521.9h1.6v1.6h-1.6zM108.3 598.9h1.6v1.6h-1.6zM221.9 573.1h1.6v1.6h-1.6zM190.0 577.5h1.6v1.6h-1.6zM241.2 588.0h1.6v1.6h-1.6zM127.9 543.0h1.6v1.6h-1.6zM150.1 543.0h1.6v1.6h-1.6zM256.5 550.3h1.6v1.6h-1.6zM135.0 568.4h1.6v1.6h-1.6zM199.9 531.3h1.6v1.6h-1.6zM160.1 542.4h1.6v1.6h-1.6zM139.4 470.1h1.6v1.6h-1.6zM129.4 597.3h1.6v1.6h-1.6zM152.5 563.7h1.6v1.6h-1.6zM104.4 548.0h1.6v1.6h-1.6zM270.4 512.7h1.6v1.6h-1.6zM140.7 490.1h1.6v1.6h-1.6zM156.3 527.9h1.6v1.6h-1.6zM93.9 591.2h1.6v1.6h-1.6zM314.5 595.1h1.6v1.6h-1.6zM183.3 538.4h1.6v1.6h-1.6zM282.0 583.8h1.6v1.6h-1.6zM171.1 531.1h1.6v1.6h-1.6zM131.0 551.7h1.6v1.6h-1.6zM137.5 607.7h1.6v1.6h-1.6zM215.3 595.4h1.6v1.6h-1.6zM105.8 514.3h1.6v1.6h-1.6zM175.9 564.8h1.6v1.6h-1.6zM208.8 563.8h1.6v1.6h-1.6zM95.0 580.2h1.6v1.6h-1.6zM281.2 585.4h1.6v1.6h-1.6zM357.4 578.8h1.6v1.6h-1.6zM164.7 583.1h1.6v1.6h-1.6zM303.3 529.6h1.6v1.6h-1.6zM96.1 542.0h1.6v1.6h-1.6zM204.1 565.4h1.6v1.6h-1.6zM202.5 521.4h1.6v1.6h-1.6zM175.0 565.4h1.6v1.6h-1.6zM171.2 566.2h1.6v1.6h-1.6zM229.3 588.6h1.6v1.6h-1.6zM333.7 538.0h1.6v1.6h-1.6zM357.8 540.2h1.6v1.6h-1.6zM229.6 569.2h1.6v1.6h-1.6zM153.3 610.7h1.6v1.6h-1.6zM326.2 577.0h1.6v1.6h-1.6zM167.2 558.5h1.6v1.6h-1.6zM107.3 546.2h1.6v1.6h-1.6zM148.9 562.2h1.6v1.6h-1.6zM111.3 574.6h1.6v1.6h-1.6zM92.7 576.3h1.6v1.6h-1.6zM94.3 561.8h1.6v1.6h-1.6zM143.8 559.1h1.6v1.6h-1.6zM111.1 581.7h1.6v1.6h-1.6zM93.1 570.3h1.6v1.6h-1.6zM137.7 591.7h1.6v1.6h-1.6zM249.3 571.9h1.6v1.6h-1.6zM131.5 533.1h1.6v1.6h-1.6zM101.9 564.7h1.6v1.6h-1.6zM342.3 554.5h1.6v1.6h-1.6zM263.6 610.5h1.6v1.6h-1.6zM100.6 523.9h1.6v1.6h-1.6zM320.8 544.0h1.6v1.6h-1.6zM312.2 523.6h1.6v1.6h-1.6zM262.0 548.5h1.6v1.6h-1.6zM113.1 584.1h1.6v1.6h-1.6zM178.5 567.0h1.6v1.6h-1.6zM179.5 543.0h1.6v1.6h-1.6zM277.5 565.6h1.6v1.6h-1.6zM149.6 525.1h1.6v1.6h-1.6zM113.6 581.3h1.6v1.6h-1.6zM194.1 566.7h1.6v1.6h-1.6zM320.8 526.1h1.6v1.6h-1.6zM315.5 523.7h1.6v1.6h-1.6zM270.7 577.4h1.6v1.6h-1.6zM188.2 603.9h1.6v1.6h-1.6zM214.5 552.9h1.6v1.6h-1.6zM195.9 517.0h1.6v1.6h-1.6zM141.7 549.1h1.6v1.6h-1.6zM304.7 554.2h1.6v1.6h-1.6zM138.1 611.5h1.6v1.6h-1.6zM99.2 519.7h1.6v1.6h-1.6zM150.1 614.8h1.6v1.6h-1.6zM234.5 553.9h1.6v1.6h-1.6zM147.3 574.7h1.6v1.6h-1.6zM134.8 579.7h1.6v1.6h-1.6zM246.9 590.5h1.6v1.6h-1.6zM331.3 597.1h1.6v1.6h-1.6zM232.6 570.1h1.6v1.6h-1.6zM209.5 571.6h1.6v1.6h-1.6zM100.2 572.2h1.6v1.6h-1.6zM205.7 579.3h1.6v1.6h-1.6zM124.4 574.9h1.6v1.6h-1.6zM130.8 546.1h1.6v1.6h-1.6zM148.4 553.0h1.6v1.6h-1.6zM204.8 569.3h1.6v1.6h-1.6zM320.9 567.6h1.6v1.6h-1.6zM216.2 533.4h1.6v1.6h-1.6zM144.5 536.4h1.6v1.6h-1.6zM135.4 522.8h1.6v1.6h-1.6zM294.5 585.6h1.6v1.6h-1.6zM115.8 586.4h1.6v1.6h-1.6zM312.7 553.9h1.6v1.6h-1.6zM179.5 566.6h1.6v1.6h-1.6zM198.3 572.5h1.6v1.6h-1.6zM323.2 567.2h1.6v1.6h-1.6zM334.7 517.3h1.6v1.6h-1.6zM179.8 504.8h1.6v1.6h-1.6zM247.4 557.6h1.6v1.6h-1.6zM229.9 555.1h1.6v1.6h-1.6zM331.8 574.2h1.6v1.6h-1.6zM134.9 538.5h1.6v1.6h-1.6zM156.3 575.5h1.6v1.6h-1.6zM226.0 570.7h1.6v1.6h-1.6zM225.4 580.6h1.6v1.6h-1.6zM171.5 619.4h1.6v1.6h-1.6zM326.9 516.8h1.6v1.6h-1.6zM112.7 614.6h1.6v1.6h-1.6zM158.4 572.0h1.6v1.6h-1.6zM291.9 536.3h1.6v1.6h-1.6zM102.6 573.1h1.6v1.6h-1.6zM350.6 512.0h1.6v1.6h-1.6zM154.2 608.2h1.6v1.6h-1.6zM101.1 512.6h1.6v1.6h-1.6zM220.9 615.7h1.6v1.6h-1.6zM331.2 570.4h1.6v1.6h-1.6zM301.5 513.4h1.6v1.6h-1.6zM272.7 519.9h1.6v1.6h-1.6zM291.9 531.5h1.6v1.6h-1.6zM114.5 540.6h1.6v1.6h-1.6zM158.3 545.5h1.6v1.6h-1.6zM233.4 558.4h1.6v1.6h-1.6zM348.0 591.6h1.6v1.6h-1.6zM157.8 574.0h1.6v1.6h-1.6zM93.4 559.4h1.6v1.6h-1.6zM122.9 566.3h1.6v1.6h-1.6zM195.4 604.0h1.6v1.6h-1.6zM172.4 534.8h1.6v1.6h-1.6zM172.3 535.1h1.6v1.6h-1.6zM143.2 569.6h1.6v1.6h-1.6zM167.5 592.5h1.6v1.6h-1.6zM155.6 602.0h1.6v1.6h-1.6zM195.1 587.1h1.6v1.6h-1.6zM331.7 504.6h1.6v1.6h-1.6zM254.3 528.6h1.6v1.6h-1.6zM129.7 567.8h1.6v1.6h-1.6zM176.0 557.9h1.6v1.6h-1.6zM170.8 606.7h1.6v1.6h-1.6zM140.6 549.9h1.6v1.6h-1.6zM208.0 542.3h1.6v1.6h-1.6zM321.9 573.1h1.6v1.6h-1.6zM151.0 529.1h1.6v1.6h-1.6zM358.7 600.2h1.6v1.6h-1.6zM158.4 537.0h1.6v1.6h-1.6zM353.5 586.4h1.6v1.6h-1.6zM93.4 488.4h1.6v1.6h-1.6zM209.1 537.9h1.6v1.6h-1.6zM296.1 583.3h1.6v1.6h-1.6zM190.5 567.5h1.6v1.6h-1.6zM263.5 602.3h1.6v1.6h-1.6zM332.2 577.5h1.6v1.6h-1.6zM155.1 567.1h1.6v1.6h-1.6zM94.3 584.1h1.6v1.6h-1.6zM339.0 547.2h1.6v1.6h-1.6zM198.5 566.8h1.6v1.6h-1.6zM220.5 532.0h1.6v1.6h-1.6zM229.5 584.9h1.6v1.6h-1.6zM96.0 580.6h1.6v1.6h-1.6zM93.3 579.1h1.6v1.6h-1.6zM298.0 544.3h1.6v1.6h-1.6zM136.4 579.9h1.6v1.6h-1.6zM168.0 588.9h1.6v1.6h-1.6zM378.0 562.3h1.6v1.6h-1.6zM288.0 525.3h1.6v1.6h-1.6zM199.6 533.0h1.6v1.6h-1.6zM151.2 564.6h1.6v1.6h-1.6zM292.0 610.5h1.6v1.6h-1.6zM186.1 554.5h1.6v1.6h-1.6zM177.1 534.6h1.6v1.6h-1.6zM378.7 549.1h1.6v1.6h-1.6zM256.5 569.5h1.6v1.6h-1.6zM112.2 527.9h1.6v1.6h-1.6zM163.1 577.9h1.6v1.6h-1.6zM103.8 552.9h1.6v1.6h-1.6zM320.5 546.2h1.6v1.6h-1.6zM229.1 523.6h1.6v1.6h-1.6zM133.0 542.1h1.6v1.6h-1.6zM328.8 593.4h1.6v1.6h-1.6zM286.7 596.1h1.6v1.6h-1.6zM297.5 515.8h1.6v1.6h-1.6zM102.0 543.7h1.6v1.6h-1.6zM306.8 558.5h1.6v1.6h-1.6zM105.3 534.0h1.6v1.6h-1.6zM279.6 525.8h1.6v1.6h-1.6zM186.2 513.6h1.6v1.6h-1.6zM103.2 541.7h1.6v1.6h-1.6zM227.7 573.4h1.6v1.6h-1.6zM166.2 508.1h1.6v1.6h-1.6zM170.7 571.3h1.6v1.6h-1.6zM285.1 564.9h1.6v1.6h-1.6zM247.5 533.5h1.6v1.6h-1.6zM209.9 559.7h1.6v1.6h-1.6zM108.8 560.9h1.6v1.6h-1.6zM119.0 547.1h1.6v1.6h-1.6zM119.5 519.8h1.6v1.6h-1.6zM343.2 538.9h1.6v1.6h-1.6zM273.9 529.8h1.6v1.6h-1.6zM201.5 602.1h1.6v1.6h-1.6zM109.6 579.4h1.6v1.6h-1.6zM331.5 560.5h1.6v1.6h-1.6zM133.4 556.2h1.6v1.6h-1.6zM248.0 505.2h1.6v1.6h-1.6zM197.7 567.8h1.6v1.6h-1.6zM256.7 542.7h1.6v1.6h-1.6zM118.8 519.6h1.6v1.6h-1.6zM127.5 557.7h1.6v1.6h-1.6zM116.7 542.1h1.6v1.6h-1.6zM97.8 510.2h1.6v1.6h-1.6zM337.8 565.9h1.6v1.6h-1.6zM294.5 528.2h1.6v1.6h-1.6zM135.8 549.3h1.6v1.6h-1.6zM214.8 581.1h1.6v1.6h-1.6zM136.8 519.9h1.6v1.6h-1.6zM239.2 560.0h1.6v1.6h-1.6zM148.7 552.2h1.6v1.6h-1.6zM98.0 572.8h1.6v1.6h-1.6zM99.4 544.3h1.6v1.6h-1.6zM281.2 538.9h1.6v1.6h-1.6zM376.2 531.0h1.6v1.6h-1.6zM185.2 591.6h1.6v1.6h-1.6zM299.8 581.8h1.6v1.6h-1.6zM107.2 555.8h1.6v1.6h-1.6zM286.5 588.5h1.6v1.6h-1.6zM197.2 568.4h1.6v1.6h-1.6zM259.8 541.9h1.6v1.6h-1.6zM121.0 501.0h1.6v1.6h-1.6zM168.8 574.7h1.6v1.6h-1.6zM110.3 579.0h1.6v1.6h-1.6zM138.6 615.7h1.6v1.6h-1.6zM361.1 606.5h1.6v1.6h-1.6zM228.4 526.5h1.6v1.6h-1.6zM271.8 604.5h1.6v1.6h-1.6zM163.8 571.9h1.6v1.6h-1.6zM111.0 536.6h1.6v1.6h-1.6zM178.4 591.0h1.6v1.6h-1.6zM153.1 568.2h1.6v1.6h-1.6zM186.4 523.4h1.6v1.6h-1.6zM230.3 537.3h1.6v1.6h-1.6zM201.8 534.0h1.6v1.6h-1.6zM210.7 571.4h1.6v1.6h-1.6zM151.1 524.3h1.6v1.6h-1.6zM311.3 595.9h1.6v1.6h-1.6zM175.5 518.4h1.6v1.6h-1.6zM315.8 510.8h1.6v1.6h-1.6zM159.2 560.1h1.6v1.6h-1.6zM164.4 580.1h1.6v1.6h-1.6zM234.9 542.7h1.6v1.6h-1.6zM132.7 541.0h1.6v1.6h-1.6zM118.1 556.1h1.6v1.6h-1.6zM98.2 532.9h1.6v1.6h-1.6zM278.7 545.9h1.6v1.6h-1.6zM119.9 541.4h1.6v1.6h-1.6zM172.8 509.2h1.6v1.6h-1.6zM138.9 542.4h1.6v1.6h-1.6zM219.3 584.1h1.6v1.6h-1.6zM160.3 506.0h1.6v1.6h-1.6zM249.7 589.6h1.6v1.6h-1.6zM198.7 539.1h1.6v1.6h-1.6zM165.9 517.6h1.6v1.6h-1.6zM148.0 590.9h1.6v1.6h-1.6zM123.3 532.8h1.6v1.6h-1.6zM195.3 531.9h1.6v1.6h-1.6zM142.2 497.8h1.6v1.6h-1.6zM320.7 596.7h1.6v1.6h-1.6zM300.7 583.1h1.6v1.6h-1.6zM233.1 575.0h1.6v1.6h-1.6zM153.0 614.0h1.6v1.6h-1.6zM101.5 569.1h1.6v1.6h-1.6zM354.4 591.9h1.6v1.6h-1.6zM178.6 534.0h1.6v1.6h-1.6zM120.6 555.1h1.6v1.6h-1.6zM157.4 529.1h1.6v1.6h-1.6zM152.1 524.7h1.6v1.6h-1.6zM219.1 529.3h1.6v1.6h-1.6zM301.0 588.8h1.6v1.6h-1.6zM238.2 546.7h1.6v1.6h-1.6zM163.8 595.4h1.6v1.6h-1.6zM150.9 530.7h1.6v1.6h-1.6zM197.4 576.3h1.6v1.6h-1.6zM183.5 534.0h1.6v1.6h-1.6zM184.5 515.0h1.6v1.6h-1.6zM180.7 551.5h1.6v1.6h-1.6zM258.0 533.3h1.6v1.6h-1.6zM260.8 582.0h1.6v1.6h-1.6zM201.7 519.9h1.6v1.6h-1.6zM226.3 527.6h1.6v1.6h-1.6zM269.4 568.1h1.6v1.6h-1.6zM201.7 557.1h1.6v1.6h-1.6zM118.8 528.5h1.6v1.6h-1.6zM237.4 579.1h1.6v1.6h-1.6zM226.4 592.2h1.6v1.6h-1.6zM138.8 563.6h1.6v1.6h-1.6zM98.7 565.3h1.6v1.6h-1.6zM258.3 574.1h1.6v1.6h-1.6zM273.5 565.6h1.6v1.6h-1.6zM124.7 536.1h1.6v1.6h-1.6zM282.1 544.6h1.6v1.6h-1.6zM138.4 614.7h1.6v1.6h-1.6zM246.1 538.8h1.6v1.6h-1.6zM185.5 534.3h1.6v1.6h-1.6zM153.8 539.6h1.6v1.6h-1.6zM320.6 561.2h1.6v1.6h-1.6zM139.2 532.7h1.6v1.6h-1.6zM265.4 607.0h1.6v1.6h-1.6zM110.7 604.4h1.6v1.6h-1.6zM102.9 614.0h1.6v1.6h-1.6zM148.7 582.8h1.6v1.6h-1.6zM203.0 562.7h1.6v1.6h-1.6zM127.9 540.7h1.6v1.6h-1.6zM112.6 597.9h1.6v1.6h-1.6zM119.7 536.0h1.6v1.6h-1.6zM168.5 539.1h1.6v1.6h-1.6zM108.4 553.2h1.6v1.6h-1.6zM380.0 560.2h1.6v1.6h-1.6zM107.9 576.1h1.6v1.6h-1.6zM261.2 555.5h1.6v1.6h-1.6zM271.5 580.7h1.6v1.6h-1.6zM109.4 548.0h1.6v1.6h-1.6zM223.6 527.6h1.6v1.6h-1.6zM253.9 592.2h1.6v1.6h-1.6zM373.4 570.7h1.6v1.6h-1.6zM103.5 550.6h1.6v1.6h-1.6zM155.0 533.6h1.6v1.6h-1.6zM133.9 618.5h1.6v1.6h-1.6zM263.4 618.3h1.6v1.6h-1.6zM171.3 585.4h1.6v1.6h-1.6zM186.6 558.7h1.6v1.6h-1.6zM191.5 596.0h1.6v1.6h-1.6zM321.9 573.7h1.6v1.6h-1.6zM146.2 538.6h1.6v1.6h-1.6zM216.7 524.7h1.6v1.6h-1.6zM120.4 579.1h1.6v1.6h-1.6zM182.8 525.1h1.6v1.6h-1.6zM173.4 613.3h1.6v1.6h-1.6zM247.9 564.3h1.6v1.6h-1.6zM128.5 519.5h1.6v1.6h-1.6zM299.4 552.9h1.6v1.6h-1.6zM129.9 594.2h1.6v1.6h-1.6zM211.1 574.3h1.6v1.6h-1.6zM245.3 561.7h1.6v1.6h-1.6zM294.0 529.4h1.6v1.6h-1.6zM148.8 569.7h1.6v1.6h-1.6zM107.1 569.4h1.6v1.6h-1.6zM228.9 558.0h1.6v1.6h-1.6zM227.2 610.7h1.6v1.6h-1.6zM130.1 531.5h1.6v1.6h-1.6zM143.2 552.8h1.6v1.6h-1.6zM139.0 610.8h1.6v1.6h-1.6zM256.6 553.9h1.6v1.6h-1.6zM168.7 528.0h1.6v1.6h-1.6zM245.9 517.7h1.6v1.6h-1.6zM149.7 564.1h1.6v1.6h-1.6zM282.0 540.0h1.6v1.6h-1.6zM301.7 564.7h1.6v1.6h-1.6zM133.2 525.2h1.6v1.6h-1.6zM139.2 546.7h1.6v1.6h-1.6zM331.9 534.4h1.6v1.6h-1.6zM101.9 554.0h1.6v1.6h-1.6zM324.3 587.8h1.6v1.6h-1.6zM269.4 590.6h1.6v1.6h-1.6zM234.9 574.2h1.6v1.6h-1.6zM342.1 586.5h1.6v1.6h-1.6zM119.5 545.0h1.6v1.6h-1.6zM204.5 516.1h1.6v1.6h-1.6zM134.2 503.0h1.6v1.6h-1.6zM278.2 566.0h1.6v1.6h-1.6zM133.7 556.1h1.6v1.6h-1.6zM310.3 554.5h1.6v1.6h-1.6zM193.4 567.0h1.6v1.6h-1.6zM192.5 549.3h1.6v1.6h-1.6zM371.3 601.7h1.6v1.6h-1.6zM309.9 494.1h1.6v1.6h-1.6zM333.4 562.6h1.6v1.6h-1.6zM108.6 514.7h1.6v1.6h-1.6zM159.0 515.5h1.6v1.6h-1.6zM250.1 587.3h1.6v1.6h-1.6zM198.1 560.0h1.6v1.6h-1.6zM234.4 589.9h1.6v1.6h-1.6zM144.0 546.0h1.6v1.6h-1.6zM283.2 577.0h1.6v1.6h-1.6zM258.5 521.9h1.6v1.6h-1.6zM158.0 579.8h1.6v1.6h-1.6zM98.2 582.8h1.6v1.6h-1.6zM174.8 559.3h1.6v1.6h-1.6zM247.2 515.2h1.6v1.6h-1.6zM266.0 536.9h1.6v1.6h-1.6zM195.6 575.3h1.6v1.6h-1.6zM344.1 539.7h1.6v1.6h-1.6zM125.5 537.6h1.6v1.6h-1.6zM328.4 546.6h1.6v1.6h-1.6zM255.2 535.1h1.6v1.6h-1.6zM145.9 545.4h1.6v1.6h-1.6zM348.1 517.2h1.6v1.6h-1.6zM97.8 590.4h1.6v1.6h-1.6zM173.0 525.0h1.6v1.6h-1.6zM187.3 546.9h1.6v1.6h-1.6zM239.7 572.4h1.6v1.6h-1.6zM163.3 566.6h1.6v1.6h-1.6zM351.5 528.6h1.6v1.6h-1.6zM242.0 584.8h1.6v1.6h-1.6zM94.5 538.5h1.6v1.6h-1.6zM128.6 557.6h1.6v1.6h-1.6zM156.3 570.0h1.6v1.6h-1.6zM131.8 500.3h1.6v1.6h-1.6zM175.7 534.6h1.6v1.6h-1.6zM144.8 555.5h1.6v1.6h-1.6zM107.4 581.7h1.6v1.6h-1.6zM133.2 568.4h1.6v1.6h-1.6zM209.7 572.3h1.6v1.6h-1.6zM202.5 517.6h1.6v1.6h-1.6zM359.8 573.1h1.6v1.6h-1.6zM181.6 558.7h1.6v1.6h-1.6zM186.6 566.9h1.6v1.6h-1.6zM257.7 537.3h1.6v1.6h-1.6zM96.6 535.4h1.6v1.6h-1.6zM244.0 543.9h1.6v1.6h-1.6zM181.4 517.8h1.6v1.6h-1.6zM225.9 513.4h1.6v1.6h-1.6zM336.1 549.9h1.6v1.6h-1.6zM130.2 582.0h1.6v1.6h-1.6zM311.8 576.1h1.6v1.6h-1.6zM292.8 561.6h1.6v1.6h-1.6zM300.0 573.3h1.6v1.6h-1.6zM330.0 590.6h1.6v1.6h-1.6zM97.4 546.9h1.6v1.6h-1.6zM102.6 606.7h1.6v1.6h-1.6zM144.6 550.5h1.6v1.6h-1.6zM206.0 567.9h1.6v1.6h-1.6zM185.0 559.6h1.6v1.6h-1.6zM102.7 580.0h1.6v1.6h-1.6zM225.1 538.5h1.6v1.6h-1.6zM305.9 541.4h1.6v1.6h-1.6zM151.9 527.5h1.6v1.6h-1.6zM180.0 531.3h1.6v1.6h-1.6zM288.7 589.1h1.6v1.6h-1.6zM123.4 586.4h1.6v1.6h-1.6zM171.3 548.4h1.6v1.6h-1.6zM97.7 580.7h1.6v1.6h-1.6zM133.0 517.8h1.6v1.6h-1.6zM166.0 565.3h1.6v1.6h-1.6zM228.7 562.8h1.6v1.6h-1.6zM136.6 540.8h1.6v1.6h-1.6zM100.2 541.2h1.6v1.6h-1.6zM114.6 591.1h1.6v1.6h-1.6zM107.2 544.1h1.6v1.6h-1.6zM237.8 568.4h1.6v1.6h-1.6zM191.0 516.0h1.6v1.6h-1.6zM168.9 619.0h1.6v1.6h-1.6zM169.0 568.9h1.6v1.6h-1.6zM369.6 605.2h1.6v1.6h-1.6zM339.1 549.5h1.6v1.6h-1.6zM138.9 531.0h1.6v1.6h-1.6zM181.0 586.5h1.6v1.6h-1.6zM176.3 530.8h1.6v1.6h-1.6zM272.7 581.8h1.6v1.6h-1.6zM201.4 567.6h1.6v1.6h-1.6zM104.8 614.8h1.6v1.6h-1.6zM226.1 569.1h1.6v1.6h-1.6zM219.1 522.9h1.6v1.6h-1.6zM227.1 522.6h1.6v1.6h-1.6zM229.4 518.9h1.6v1.6h-1.6zM126.7 540.8h1.6v1.6h-1.6zM184.7 535.7h1.6v1.6h-1.6zM119.2 561.4h1.6v1.6h-1.6zM92.4 589.9h1.6v1.6h-1.6zM192.0 521.8h1.6v1.6h-1.6zM133.2 565.0h1.6v1.6h-1.6zM346.1 522.6h1.6v1.6h-1.6zM144.6 510.7h1.6v1.6h-1.6zM170.1 487.8h1.6v1.6h-1.6zM255.4 514.3h1.6v1.6h-1.6zM126.1 467.2h1.6v1.6h-1.6zM244.6 535.7h1.6v1.6h-1.6zM252.3 588.2h1.6v1.6h-1.6zM114.0 574.1h1.6v1.6h-1.6zM127.5 526.8h1.6v1.6h-1.6zM110.3 600.6h1.6v1.6h-1.6zM141.0 560.4h1.6v1.6h-1.6zM274.3 580.4h1.6v1.6h-1.6zM183.7 531.1h1.6v1.6h-1.6zM150.8 535.0h1.6v1.6h-1.6zM140.9 565.5h1.6v1.6h-1.6zM122.0 532.5h1.6v1.6h-1.6zM166.8 568.6h1.6v1.6h-1.6zM340.4 580.0h1.6v1.6h-1.6zM313.1 590.3h1.6v1.6h-1.6zM139.4 483.8h1.6v1.6h-1.6zM182.7 568.3h1.6v1.6h-1.6zM194.6 562.6h1.6v1.6h-1.6zM181.1 580.2h1.6v1.6h-1.6zM242.8 547.1h1.6v1.6h-1.6zM151.8 545.3h1.6v1.6h-1.6zM271.9 560.9h1.6v1.6h-1.6zM215.2 541.7h1.6v1.6h-1.6zM96.8 534.4h1.6v1.6h-1.6zM298.4 535.5h1.6v1.6h-1.6zM118.9 537.2h1.6v1.6h-1.6zM123.9 542.5h1.6v1.6h-1.6zM309.0 554.1h1.6v1.6h-1.6zM116.9 591.9h1.6v1.6h-1.6zM167.8 579.0h1.6v1.6h-1.6zM245.8 588.7h1.6v1.6h-1.6zM190.8 604.2h1.6v1.6h-1.6zM264.8 511.5h1.6v1.6h-1.6zM345.9 589.5h1.6v1.6h-1.6zM189.3 553.5h1.6v1.6h-1.6zM120.3 565.6h1.6v1.6h-1.6zM115.7 545.1h1.6v1.6h-1.6zM131.3 562.8h1.6v1.6h-1.6zM103.7 499.9h1.6v1.6h-1.6zM145.7 556.2h1.6v1.6h-1.6zM121.1 541.7h1.6v1.6h-1.6zM145.7 521.7h1.6v1.6h-1.6zM162.1 573.1h1.6v1.6h-1.6zM167.7 600.7h1.6v1.6h-1.6zM156.3 569.4h1.6v1.6h-1.6zM111.2 568.3h1.6v1.6h-1.6zM182.0 541.0h1.6v1.6h-1.6zM279.3 523.7h1.6v1.6h-1.6zM165.4 517.5h1.6v1.6h-1.6zM95.5 514.8h1.6v1.6h-1.6zM233.0 534.9h1.6v1.6h-1.6zM123.7 553.0h1.6v1.6h-1.6zM279.4 589.1h1.6v1.6h-1.6zM312.6 591.1h1.6v1.6h-1.6zM102.8 576.2h1.6v1.6h-1.6zM122.7 522.7h1.6v1.6h-1.6zM191.0 603.1h1.6v1.6h-1.6zM104.4 597.6h1.6v1.6h-1.6zM249.8 583.5h1.6v1.6h-1.6zM122.7 573.4h1.6v1.6h-1.6zM314.1 524.8h1.6v1.6h-1.6zM205.8 601.6h1.6v1.6h-1.6zM140.3 552.6h1.6v1.6h-1.6zM327.0 535.3h1.6v1.6h-1.6zM148.9 602.2h1.6v1.6h-1.6zM110.2 571.5h1.6v1.6h-1.6zM322.4 618.3h1.6v1.6h-1.6zM310.5 561.8h1.6v1.6h-1.6zM135.7 523.2h1.6v1.6h-1.6zM228.0 572.8h1.6v1.6h-1.6zM129.4 592.2h1.6v1.6h-1.6zM382.7 597.2h1.6v1.6h-1.6zM103.8 542.8h1.6v1.6h-1.6zM215.5 545.0h1.6v1.6h-1.6zM126.7 557.2h1.6v1.6h-1.6zM222.8 513.7h1.6v1.6h-1.6zM222.4 603.4h1.6v1.6h-1.6zM154.1 598.9h1.6v1.6h-1.6zM252.9 540.8h1.6v1.6h-1.6zM132.4 532.7h1.6v1.6h-1.6zM189.8 583.2h1.6v1.6h-1.6zM303.2 584.1h1.6v1.6h-1.6zM196.5 585.3h1.6v1.6h-1.6zM286.6 593.5h1.6v1.6h-1.6zM244.2 543.6h1.6v1.6h-1.6zM230.5 519.0h1.6v1.6h-1.6zM184.9 584.9h1.6v1.6h-1.6zM380.5 534.3h1.6v1.6h-1.6zM317.3 566.0h1.6v1.6h-1.6zM113.1 570.3h1.6v1.6h-1.6zM158.7 532.9h1.6v1.6h-1.6zM111.0 518.5h1.6v1.6h-1.6zM354.5 526.2h1.6v1.6h-1.6zM162.9 622.9h1.6v1.6h-1.6zM311.4 575.2h1.6v1.6h-1.6zM152.6 543.6h1.6v1.6h-1.6zM193.0 550.3h1.6v1.6h-1.6zM195.7 549.3h1.6v1.6h-1.6zM327.7 588.3h1.6v1.6h-1.6zM92.4 544.0h1.6v1.6h-1.6zM255.5 528.3h1.6v1.6h-1.6zM145.5 564.0h1.6v1.6h-1.6zM189.1 600.0h1.6v1.6h-1.6zM230.8 592.6h1.6v1.6h-1.6zM136.8 585.9h1.6v1.6h-1.6zM216.6 592.0h1.6v1.6h-1.6zM199.2 585.0h1.6v1.6h-1.6zM158.5 557.0h1.6v1.6h-1.6zM237.8 510.0h1.6v1.6h-1.6zM160.4 551.6h1.6v1.6h-1.6zM182.6 617.8h1.6v1.6h-1.6zM102.8 587.9h1.6v1.6h-1.6zM169.9 537.0h1.6v1.6h-1.6zM125.8 543.4h1.6v1.6h-1.6zM112.9 618.6h1.6v1.6h-1.6zM119.8 557.1h1.6v1.6h-1.6zM182.7 548.4h1.6v1.6h-1.6zM139.9 546.3h1.6v1.6h-1.6zM163.0 540.6h1.6v1.6h-1.6zM175.8 521.7h1.6v1.6h-1.6zM319.9 608.3h1.6v1.6h-1.6zM105.7 528.4h1.6v1.6h-1.6zM240.2 526.9h1.6v1.6h-1.6zM111.4 590.8h1.6v1.6h-1.6zM152.8 523.4h1.6v1.6h-1.6zM273.9 583.1h1.6v1.6h-1.6zM196.3 554.9h1.6v1.6h-1.6zM126.0 583.7h1.6v1.6h-1.6zM160.8 565.9h1.6v1.6h-1.6zM101.3 529.1h1.6v1.6h-1.6zM103.4 534.5h1.6v1.6h-1.6zM117.8 543.8h1.6v1.6h-1.6zM166.9 560.5h1.6v1.6h-1.6zM118.4 570.3h1.6v1.6h-1.6zM201.1 531.6h1.6v1.6h-1.6zM157.4 565.7h1.6v1.6h-1.6zM215.4 545.6h1.6v1.6h-1.6zM99.6 517.8h1.6v1.6h-1.6zM138.2 563.6h1.6v1.6h-1.6zM192.7 582.5h1.6v1.6h-1.6zM105.0 534.2h1.6v1.6h-1.6zM104.8 526.9h1.6v1.6h-1.6zM306.6 549.0h1.6v1.6h-1.6zM335.6 540.3h1.6v1.6h-1.6zM169.6 561.9h1.6v1.6h-1.6zM207.4 585.5h1.6v1.6h-1.6zM385.0 539.5h1.6v1.6h-1.6zM94.5 604.3h1.6v1.6h-1.6zM134.7 544.1h1.6v1.6h-1.6zM158.0 531.8h1.6v1.6h-1.6zM230.1 587.3h1.6v1.6h-1.6zM267.0 507.9h1.6v1.6h-1.6zM144.3 582.0h1.6v1.6h-1.6zM295.4 582.9h1.6v1.6h-1.6zM151.7 539.3h1.6v1.6h-1.6zM231.8 538.8h1.6v1.6h-1.6zM156.7 535.6h1.6v1.6h-1.6zM378.4 515.1h1.6v1.6h-1.6zM225.9 534.3h1.6v1.6h-1.6zM305.7 532.1h1.6v1.6h-1.6zM145.7 532.0h1.6v1.6h-1.6zM283.4 595.9h1.6v1.6h-1.6zM120.2 547.9h1.6v1.6h-1.6zM383.6 601.9h1.6v1.6h-1.6zM105.7 531.2h1.6v1.6h-1.6zM163.6 602.3h1.6v1.6h-1.6zM111.5 538.5h1.6v1.6h-1.6zM153.5 500.0h1.6v1.6h-1.6zM258.5 548.2h1.6v1.6h-1.6zM209.3 567.0h1.6v1.6h-1.6zM92.2 541.5h1.6v1.6h-1.6zM127.7 562.3h1.6v1.6h-1.6zM155.7 584.6h1.6v1.6h-1.6zM219.1 590.4h1.6v1.6h-1.6zM102.5 528.6h1.6v1.6h-1.6zM128.1 573.9h1.6v1.6h-1.6zM213.1 533.5h1.6v1.6h-1.6zM228.7 612.5h1.6v1.6h-1.6zM376.5 551.7h1.6v1.6h-1.6zM151.5 581.1h1.6v1.6h-1.6zM196.4 591.0h1.6v1.6h-1.6zM160.8 541.0h1.6v1.6h-1.6zM289.0 546.8h1.6v1.6h-1.6zM127.3 596.5h1.6v1.6h-1.6zM289.5 572.4h1.6v1.6h-1.6zM152.4 554.2h1.6v1.6h-1.6zM256.4 562.3h1.6v1.6h-1.6zM111.3 532.0h1.6v1.6h-1.6zM196.9 525.1h1.6v1.6h-1.6zM161.8 601.4h1.6v1.6h-1.6zM188.8 600.9h1.6v1.6h-1.6zM115.6 604.0h1.6v1.6h-1.6zM253.7 520.7h1.6v1.6h-1.6zM190.6 581.8h1.6v1.6h-1.6zM171.3 572.2h1.6v1.6h-1.6zM351.0 518.0h1.6v1.6h-1.6zM210.9 513.0h1.6v1.6h-1.6zM201.3 572.9h1.6v1.6h-1.6zM187.1 575.9h1.6v1.6h-1.6zM166.0 536.2h1.6v1.6h-1.6zM211.9 516.2h1.6v1.6h-1.6zM191.4 565.5h1.6v1.6h-1.6zM103.1 619.7h1.6v1.6h-1.6zM179.8 568.0h1.6v1.6h-1.6zM94.5 560.2h1.6v1.6h-1.6zM143.8 485.3h1.6v1.6h-1.6zM139.2 472.2h1.6v1.6h-1.6zM104.8 597.0h1.6v1.6h-1.6zM143.0 587.4h1.6v1.6h-1.6zM108.8 567.7h1.6v1.6h-1.6zM196.1 521.0h1.6v1.6h-1.6zM121.7 535.2h1.6v1.6h-1.6zM134.0 512.1h1.6v1.6h-1.6zM262.6 540.2h1.6v1.6h-1.6zM149.7 602.7h1.6v1.6h-1.6zM133.4 550.6h1.6v1.6h-1.6zM99.7 562.5h1.6v1.6h-1.6zM160.2 579.4h1.6v1.6h-1.6zM248.9 548.7h1.6v1.6h-1.6zM166.7 570.3h1.6v1.6h-1.6zM239.0 538.5h1.6v1.6h-1.6zM211.8 556.7h1.6v1.6h-1.6zM326.6 554.8h1.6v1.6h-1.6zM216.7 567.2h1.6v1.6h-1.6zM295.6 619.0h1.6v1.6h-1.6zM304.1 580.0h1.6v1.6h-1.6zM145.8 560.5h1.6v1.6h-1.6zM259.2 569.4h1.6v1.6h-1.6zM353.3 577.7h1.6v1.6h-1.6zM129.7 529.2h1.6v1.6h-1.6zM234.0 576.7h1.6v1.6h-1.6zM162.0 554.3h1.6v1.6h-1.6zM381.5 565.5h1.6v1.6h-1.6zM166.2 522.8h1.6v1.6h-1.6zM157.6 556.5h1.6v1.6h-1.6zM172.7 522.8h1.6v1.6h-1.6zM143.3 560.0h1.6v1.6h-1.6zM97.7 485.4h1.6v1.6h-1.6zM191.7 537.9h1.6v1.6h-1.6zM93.6 574.4h1.6v1.6h-1.6zM145.9 532.7h1.6v1.6h-1.6zM322.9 540.5h1.6v1.6h-1.6zM232.2 586.7h1.6v1.6h-1.6zM107.8 554.7h1.6v1.6h-1.6zM256.5 532.4h1.6v1.6h-1.6zM140.9 595.9h1.6v1.6h-1.6zM234.2 525.0h1.6v1.6h-1.6zM141.2 501.6h1.6v1.6h-1.6zM292.2 501.6h1.6v1.6h-1.6zM270.7 535.0h1.6v1.6h-1.6zM265.7 593.4h1.6v1.6h-1.6zM243.7 611.8h1.6v1.6h-1.6zM334.5 544.9h1.6v1.6h-1.6zM122.8 572.1h1.6v1.6h-1.6zM93.5 579.2h1.6v1.6h-1.6zM143.8 524.6h1.6v1.6h-1.6zM241.6 581.6h1.6v1.6h-1.6zM232.5 584.1h1.6v1.6h-1.6zM276.8 586.2h1.6v1.6h-1.6zM128.8 580.1h1.6v1.6h-1.6zM226.9 544.5h1.6v1.6h-1.6zM336.0 540.2h1.6v1.6h-1.6zM108.6 553.2h1.6v1.6h-1.6zM195.6 541.3h1.6v1.6h-1.6zM112.7 570.3h1.6v1.6h-1.6zM194.7 528.5h1.6v1.6h-1.6zM108.8 557.3h1.6v1.6h-1.6zM216.6 556.3h1.6v1.6h-1.6zM157.5 556.7h1.6v1.6h-1.6zM203.1 614.4h1.6v1.6h-1.6zM109.4 518.3h1.6v1.6h-1.6zM174.0 562.3h1.6v1.6h-1.6zM113.4 532.7h1.6v1.6h-1.6zM230.8 537.0h1.6v1.6h-1.6zM106.6 569.9h1.6v1.6h-1.6zM220.8 531.7h1.6v1.6h-1.6zM140.6 581.1h1.6v1.6h-1.6zM383.8 571.9h1.6v1.6h-1.6zM354.5 588.5h1.6v1.6h-1.6zM162.5 578.2h1.6v1.6h-1.6zM192.4 529.6h1.6v1.6h-1.6zM102.0 541.9h1.6v1.6h-1.6zM150.9 579.4h1.6v1.6h-1.6zM152.6 577.5h1.6v1.6h-1.6zM338.6 550.9h1.6v1.6h-1.6zM165.0 571.1h1.6v1.6h-1.6zM316.8 577.7h1.6v1.6h-1.6zM259.1 524.2h1.6v1.6h-1.6zM120.8 543.6h1.6v1.6h-1.6zM250.9 571.2h1.6v1.6h-1.6zM191.7 585.1h1.6v1.6h-1.6zM124.6 535.9h1.6v1.6h-1.6zM361.6 553.2h1.6v1.6h-1.6zM234.9 617.3h1.6v1.6h-1.6zM119.4 520.5h1.6v1.6h-1.6zM92.1 480.4h1.6v1.6h-1.6zM350.8 579.7h1.6v1.6h-1.6zM163.8 520.9h1.6v1.6h-1.6zM102.9 580.2h1.6v1.6h-1.6zM256.6 553.5h1.6v1.6h-1.6zM146.1 502.4h1.6v1.6h-1.6zM345.9 573.8h1.6v1.6h-1.6zM138.6 556.0h1.6v1.6h-1.6zM199.5 604.7h1.6v1.6h-1.6zM168.0 581.7h1.6v1.6h-1.6zM144.1 484.9h1.6v1.6h-1.6zM101.9 528.7h1.6v1.6h-1.6zM183.0 538.7h1.6v1.6h-1.6zM172.3 559.8h1.6v1.6h-1.6zM103.5 570.3h1.6v1.6h-1.6zM241.0 591.7h1.6v1.6h-1.6zM163.5 574.2h1.6v1.6h-1.6zM357.5 572.9h1.6v1.6h-1.6zM158.9 529.6h1.6v1.6h-1.6zM171.1 585.4h1.6v1.6h-1.6zM273.5 533.5h1.6v1.6h-1.6zM127.9 542.2h1.6v1.6h-1.6zM337.9 562.4h1.6v1.6h-1.6zM184.1 539.1h1.6v1.6h-1.6zM171.9 565.1h1.6v1.6h-1.6zM117.0 594.4h1.6v1.6h-1.6zM298.1 594.5h1.6v1.6h-1.6zM265.6 515.4h1.6v1.6h-1.6zM280.8 567.5h1.6v1.6h-1.6zM165.2 557.8h1.6v1.6h-1.6zM246.3 527.5h1.6v1.6h-1.6zM332.5 596.5h1.6v1.6h-1.6zM96.5 545.4h1.6v1.6h-1.6zM229.8 563.8h1.6v1.6h-1.6zM209.9 555.4h1.6v1.6h-1.6zM341.1 567.0h1.6v1.6h-1.6zM170.3 501.2h1.6v1.6h-1.6zM241.9 538.2h1.6v1.6h-1.6zM96.6 569.4h1.6v1.6h-1.6zM129.4 527.8h1.6v1.6h-1.6zM148.5 575.1h1.6v1.6h-1.6zM183.9 541.4h1.6v1.6h-1.6zM135.6 599.4h1.6v1.6h-1.6zM254.5 573.6h1.6v1.6h-1.6zM156.8 538.7h1.6v1.6h-1.6zM284.3 556.6h1.6v1.6h-1.6zM218.9 581.1h1.6v1.6h-1.6zM123.2 523.9h1.6v1.6h-1.6zM122.0 499.2h1.6v1.6h-1.6zM195.1 567.3h1.6v1.6h-1.6zM272.7 496.6h1.6v1.6h-1.6zM165.0 574.2h1.6v1.6h-1.6zM154.7 578.8h1.6v1.6h-1.6zM173.5 563.6h1.6v1.6h-1.6zM192.9 601.4h1.6v1.6h-1.6zM140.3 517.7h1.6v1.6h-1.6zM104.1 552.5h1.6v1.6h-1.6zM323.0 540.8h1.6v1.6h-1.6zM224.6 535.4h1.6v1.6h-1.6zM200.6 565.9h1.6v1.6h-1.6zM147.9 554.0h1.6v1.6h-1.6zM281.1 544.5h1.6v1.6h-1.6zM232.3 582.5h1.6v1.6h-1.6zM328.5 566.7h1.6v1.6h-1.6zM147.6 541.3h1.6v1.6h-1.6zM198.3 607.0h1.6v1.6h-1.6zM192.1 605.1h1.6v1.6h-1.6zM259.4 535.3h1.6v1.6h-1.6zM355.4 501.7h1.6v1.6h-1.6zM310.2 593.0h1.6v1.6h-1.6zM167.3 560.4h1.6v1.6h-1.6zM139.0 602.9h1.6v1.6h-1.6zM268.8 572.5h1.6v1.6h-1.6zM245.3 541.0h1.6v1.6h-1.6zM172.6 517.6h1.6v1.6h-1.6zM169.5 566.4h1.6v1.6h-1.6zM130.4 554.9h1.6v1.6h-1.6zM384.7 600.9h1.6v1.6h-1.6zM93.5 532.9h1.6v1.6h-1.6zM371.7 522.2h1.6v1.6h-1.6zM179.9 571.2h1.6v1.6h-1.6zM280.7 535.4h1.6v1.6h-1.6zM198.4 528.1h1.6v1.6h-1.6zM133.0 517.0h1.6v1.6h-1.6zM300.1 598.3h1.6v1.6h-1.6zM110.7 551.3h1.6v1.6h-1.6zM264.3 528.0h1.6v1.6h-1.6zM168.0 514.7h1.6v1.6h-1.6zM184.9 537.8h1.6v1.6h-1.6zM314.9 594.0h1.6v1.6h-1.6zM244.5 562.3h1.6v1.6h-1.6zM91.2 590.7h1.6v1.6h-1.6zM161.3 541.2h1.6v1.6h-1.6zM219.3 537.2h1.6v1.6h-1.6zM260.5 567.0h1.6v1.6h-1.6zM113.1 487.0h1.6v1.6h-1.6zM109.4 567.5h1.6v1.6h-1.6zM124.6 584.6h1.6v1.6h-1.6zM210.6 527.5h1.6v1.6h-1.6zM141.9 533.7h1.6v1.6h-1.6zM188.6 585.5h1.6v1.6h-1.6zM111.3 574.3h1.6v1.6h-1.6zM323.3 533.1h1.6v1.6h-1.6zM185.6 578.1h1.6v1.6h-1.6zM197.2 569.8h1.6v1.6h-1.6zM99.7 570.8h1.6v1.6h-1.6zM218.5 602.5h1.6v1.6h-1.6zM127.0 533.5h1.6v1.6h-1.6zM100.8 543.1h1.6v1.6h-1.6zM205.2 573.0h1.6v1.6h-1.6zM286.3 551.9h1.6v1.6h-1.6zM239.1 602.0h1.6v1.6h-1.6zM330.4 538.9h1.6v1.6h-1.6zM188.2 530.9h1.6v1.6h-1.6zM289.9 585.2h1.6v1.6h-1.6zM281.5 515.0h1.6v1.6h-1.6zM98.5 534.5h1.6v1.6h-1.6zM229.4 525.8h1.6v1.6h-1.6zM338.2 621.8h1.6v1.6h-1.6zM126.4 573.8h1.6v1.6h-1.6zM121.6 525.8h1.6v1.6h-1.6zM287.3 557.5h1.6v1.6h-1.6zM287.4 562.4h1.6v1.6h-1.6zM99.2 611.3h1.6v1.6h-1.6zM356.8 534.1h1.6v1.6h-1.6zM196.1 520.1h1.6v1.6h-1.6zM235.9 581.7h1.6v1.6h-1.6zM216.5 589.7h1.6v1.6h-1.6zM384.8 535.9h1.6v1.6h-1.6zM355.5 590.2h1.6v1.6h-1.6zM227.8 547.2h1.6v1.6h-1.6zM194.6 582.7h1.6v1.6h-1.6zM194.4 555.4h1.6v1.6h-1.6zM340.4 530.0h1.6v1.6h-1.6zM207.1 572.9h1.6v1.6h-1.6zM306.0 533.5h1.6v1.6h-1.6zM264.8 532.9h1.6v1.6h-1.6zM281.7 539.1h1.6v1.6h-1.6zM126.3 545.2h1.6v1.6h-1.6zM138.3 548.8h1.6v1.6h-1.6zM117.9 575.3h1.6v1.6h-1.6zM317.9 591.9h1.6v1.6h-1.6zM112.6 556.6h1.6v1.6h-1.6zM155.8 600.4h1.6v1.6h-1.6zM345.3 563.9h1.6v1.6h-1.6zM325.6 578.8h1.6v1.6h-1.6zM171.8 555.0h1.6v1.6h-1.6zM156.7 563.1h1.6v1.6h-1.6zM211.2 590.1h1.6v1.6h-1.6zM175.1 477.0h1.6v1.6h-1.6zM99.8 552.9h1.6v1.6h-1.6zM294.2 591.4h1.6v1.6h-1.6zM144.3 566.9h1.6v1.6h-1.6zM289.1 581.4h1.6v1.6h-1.6zM186.3 532.0h1.6v1.6h-1.6zM109.1 530.9h1.6v1.6h-1.6zM181.5 521.2h1.6v1.6h-1.6zM105.1 534.8h1.6v1.6h-1.6zM371.4 543.0h1.6v1.6h-1.6zM272.4 587.2h1.6v1.6h-1.6zM117.5 530.0h1.6v1.6h-1.6zM311.6 563.0h1.6v1.6h-1.6zM372.4 566.7h1.6v1.6h-1.6zM152.2 530.2h1.6v1.6h-1.6zM156.4 522.3h1.6v1.6h-1.6zM314.1 580.1h1.6v1.6h-1.6zM148.4 525.2h1.6v1.6h-1.6zM149.8 548.5h1.6v1.6h-1.6zM359.1 596.0h1.6v1.6h-1.6zM165.6 527.3h1.6v1.6h-1.6zM97.2 540.0h1.6v1.6h-1.6zM151.2 541.2h1.6v1.6h-1.6zM96.8 532.1h1.6v1.6h-1.6zM240.9 573.6h1.6v1.6h-1.6zM131.4 525.0h1.6v1.6h-1.6zM174.5 565.6h1.6v1.6h-1.6zM185.9 570.8h1.6v1.6h-1.6zM154.6 562.3h1.6v1.6h-1.6zM258.8 580.7h1.6v1.6h-1.6zM154.2 564.3h1.6v1.6h-1.6zM257.6 533.8h1.6v1.6h-1.6zM105.1 537.1h1.6v1.6h-1.6zM110.1 534.5h1.6v1.6h-1.6zM112.3 514.6h1.6v1.6h-1.6zM133.3 548.4h1.6v1.6h-1.6zM225.0 576.7h1.6v1.6h-1.6zM182.3 549.3h1.6v1.6h-1.6zM181.4 578.4h1.6v1.6h-1.6zM150.6 573.2h1.6v1.6h-1.6zM383.4 496.7h1.6v1.6h-1.6zM181.4 617.2h1.6v1.6h-1.6zM106.3 532.4h1.6v1.6h-1.6zM150.7 571.3h1.6v1.6h-1.6zM183.7 563.3h1.6v1.6h-1.6zM114.3 593.3h1.6v1.6h-1.6zM138.8 543.5h1.6v1.6h-1.6zM202.0 579.8h1.6v1.6h-1.6zM145.2 507.2h1.6v1.6h-1.6zM155.5 579.0h1.6v1.6h-1.6zM203.8 566.9h1.6v1.6h-1.6zM100.4 570.9h1.6v1.6h-1.6zM309.6 513.2h1.6v1.6h-1.6zM205.8 577.1h1.6v1.6h-1.6zM95.5 591.7h1.6v1.6h-1.6zM301.0 537.2h1.6v1.6h-1.6zM179.8 574.2h1.6v1.6h-1.6zM95.1 587.1h1.6v1.6h-1.6zM247.5 543.5h1.6v1.6h-1.6zM97.5 535.4h1.6v1.6h-1.6zM98.8 564.5h1.6v1.6h-1.6zM182.0 595.1h1.6v1.6h-1.6zM93.7 579.2h1.6v1.6h-1.6zM169.7 619.5h1.6v1.6h-1.6zM120.0 580.1h1.6v1.6h-1.6zM139.8 548.4h1.6v1.6h-1.6zM133.5 549.8h1.6v1.6h-1.6zM137.2 577.4h1.6v1.6h-1.6zM222.1 607.5h1.6v1.6h-1.6zM109.1 616.9h1.6v1.6h-1.6zM198.9 584.9h1.6v1.6h-1.6zM205.6 588.1h1.6v1.6h-1.6zM183.9 570.8h1.6v1.6h-1.6zM267.9 573.7h1.6v1.6h-1.6zM288.4 544.2h1.6v1.6h-1.6zM243.9 582.7h1.6v1.6h-1.6zM183.1 532.6h1.6v1.6h-1.6zM157.8 538.3h1.6v1.6h-1.6zM94.1 559.2h1.6v1.6h-1.6zM179.9 589.7h1.6v1.6h-1.6zM108.9 605.1h1.6v1.6h-1.6zM142.9 497.9h1.6v1.6h-1.6zM384.4 612.5h1.6v1.6h-1.6zM126.0 527.2h1.6v1.6h-1.6zM326.9 538.9h1.6v1.6h-1.6zM119.0 550.8h1.6v1.6h-1.6zM164.5 479.9h1.6v1.6h-1.6zM113.4 546.1h1.6v1.6h-1.6zM347.2 519.6h1.6v1.6h-1.6zM234.9 533.1h1.6v1.6h-1.6zM97.9 501.4h1.6v1.6h-1.6zM192.6 540.6h1.6v1.6h-1.6zM155.0 549.5h1.6v1.6h-1.6zM151.8 576.1h1.6v1.6h-1.6zM185.5 571.8h1.6v1.6h-1.6zM237.6 528.2h1.6v1.6h-1.6zM163.0 578.0h1.6v1.6h-1.6zM176.9 576.6h1.6v1.6h-1.6zM280.0 579.5h1.6v1.6h-1.6zM248.5 512.7h1.6v1.6h-1.6zM245.3 541.0h1.6v1.6h-1.6zM226.0 596.9h1.6v1.6h-1.6zM94.6 527.3h1.6v1.6h-1.6zM153.7 524.6h1.6v1.6h-1.6zM225.5 594.3h1.6v1.6h-1.6zM323.3 586.1h1.6v1.6h-1.6zM226.0 588.5h1.6v1.6h-1.6zM237.1 571.4h1.6v1.6h-1.6zM255.5 615.4h1.6v1.6h-1.6zM233.8 529.4h1.6v1.6h-1.6zM126.9 555.0h1.6v1.6h-1.6zM288.4 595.6h1.6v1.6h-1.6zM301.0 566.2h1.6v1.6h-1.6zM143.0 604.0h1.6v1.6h-1.6zM115.0 488.5h1.6v1.6h-1.6zM151.2 534.5h1.6v1.6h-1.6zM300.3 597.5h1.6v1.6h-1.6zM125.3 563.4h1.6v1.6h-1.6zM230.3 594.8h1.6v1.6h-1.6zM116.7 528.8h1.6v1.6h-1.6zM200.5 551.6h1.6v1.6h-1.6zM164.7 597.2h1.6v1.6h-1.6zM161.1 557.9h1.6v1.6h-1.6zM211.6 554.0h1.6v1.6h-1.6zM180.2 576.8h1.6v1.6h-1.6zM260.4 596.0h1.6v1.6h-1.6zM148.0 515.6h1.6v1.6h-1.6zM105.2 613.0h1.6v1.6h-1.6zM123.6 557.5h1.6v1.6h-1.6zM152.7 597.6h1.6v1.6h-1.6zM101.1 608.2h1.6v1.6h-1.6zM183.7 584.7h1.6v1.6h-1.6zM126.4 523.4h1.6v1.6h-1.6zM154.1 565.9h1.6v1.6h-1.6zM293.8 530.4h1.6v1.6h-1.6zM184.7 564.1h1.6v1.6h-1.6zM333.9 573.6h1.6v1.6h-1.6zM362.5 557.7h1.6v1.6h-1.6zM339.5 537.9h1.6v1.6h-1.6zM191.0 593.0h1.6v1.6h-1.6zM168.6 599.5h1.6v1.6h-1.6zM178.7 552.7h1.6v1.6h-1.6zM168.5 581.3h1.6v1.6h-1.6zM166.0 539.4h1.6v1.6h-1.6zM97.2 574.6h1.6v1.6h-1.6zM216.8 570.5h1.6v1.6h-1.6zM107.3 608.2h1.6v1.6h-1.6zM297.4 581.0h1.6v1.6h-1.6zM264.2 518.6h1.6v1.6h-1.6zM113.5 568.8h1.6v1.6h-1.6zM129.5 579.6h1.6v1.6h-1.6zM184.8 531.5h1.6v1.6h-1.6zM165.2 520.4h1.6v1.6h-1.6zM231.7 557.9h1.6v1.6h-1.6zM171.5 530.8h1.6v1.6h-1.6zM146.7 562.8h1.6v1.6h-1.6zM177.4 584.0h1.6v1.6h-1.6zM178.1 565.6h1.6v1.6h-1.6zM120.4 571.8h1.6v1.6h-1.6zM211.2 572.5h1.6v1.6h-1.6zM104.6 546.5h1.6v1.6h-1.6zM167.6 515.1h1.6v1.6h-1.6zM124.2 516.6h1.6v1.6h-1.6zM363.3 584.5h1.6v1.6h-1.6zM282.0 573.3h1.6v1.6h-1.6zM244.7 547.1h1.6v1.6h-1.6zM205.4 513.9h1.6v1.6h-1.6zM327.7 580.3h1.6v1.6h-1.6zM210.1 562.9h1.6v1.6h-1.6zM127.8 558.7h1.6v1.6h-1.6zM120.5 567.8h1.6v1.6h-1.6zM133.5 592.2h1.6v1.6h-1.6zM151.3 503.6h1.6v1.6h-1.6zM196.3 564.8h1.6v1.6h-1.6zM294.3 592.6h1.6v1.6h-1.6zM140.3 583.6h1.6v1.6h-1.6zM365.6 547.6h1.6v1.6h-1.6zM316.0 551.6h1.6v1.6h-1.6zM192.4 591.8h1.6v1.6h-1.6zM120.4 588.7h1.6v1.6h-1.6zM91.4 606.5h1.6v1.6h-1.6zM194.8 520.9h1.6v1.6h-1.6zM110.3 594.5h1.6v1.6h-1.6zM227.0 537.1h1.6v1.6h-1.6zM123.1 525.0h1.6v1.6h-1.6zM255.5 593.1h1.6v1.6h-1.6zM347.7 521.7h1.6v1.6h-1.6zM129.9 617.2h1.6v1.6h-1.6zM210.6 570.1h1.6v1.6h-1.6zM176.3 557.3h1.6v1.6h-1.6zM363.7 580.5h1.6v1.6h-1.6zM258.8 609.8h1.6v1.6h-1.6zM153.5 531.9h1.6v1.6h-1.6zM273.8 560.9h1.6v1.6h-1.6zM99.3 540.3h1.6v1.6h-1.6zM105.0 572.9h1.6v1.6h-1.6zM192.6 590.9h1.6v1.6h-1.6zM143.9 546.3h1.6v1.6h-1.6zM295.8 551.1h1.6v1.6h-1.6zM221.2 577.1h1.6v1.6h-1.6zM95.6 538.5h1.6v1.6h-1.6zM116.5 516.3h1.6v1.6h-1.6zM324.6 571.2h1.6v1.6h-1.6zM103.5 550.9h1.6v1.6h-1.6zM117.7 519.0h1.6v1.6h-1.6zM360.1 569.5h1.6v1.6h-1.6zM364.7 573.7h1.6v1.6h-1.6zM170.6 536.1h1.6v1.6h-1.6zM95.1 546.0h1.6v1.6h-1.6zM141.3 523.0h1.6v1.6h-1.6zM99.4 577.1h1.6v1.6h-1.6zM123.9 469.5h1.6v1.6h-1.6zM132.1 554.8h1.6v1.6h-1.6zM348.3 550.5h1.6v1.6h-1.6zM104.1 529.0h1.6v1.6h-1.6zM139.4 521.7h1.6v1.6h-1.6zM367.2 582.0h1.6v1.6h-1.6zM94.9 608.3h1.6v1.6h-1.6zM246.4 518.4h1.6v1.6h-1.6zM106.6 563.1h1.6v1.6h-1.6zM129.7 548.8h1.6v1.6h-1.6zM291.0 531.9h1.6v1.6h-1.6zM285.5 526.0h1.6v1.6h-1.6zM190.5 594.9h1.6v1.6h-1.6zM133.8 561.2h1.6v1.6h-1.6zM353.1 598.2h1.6v1.6h-1.6zM108.8 569.8h1.6v1.6h-1.6zM153.3 572.0h1.6v1.6h-1.6zM103.4 518.4h1.6v1.6h-1.6zM129.9 566.7h1.6v1.6h-1.6zM365.4 596.3h1.6v1.6h-1.6zM152.9 552.2h1.6v1.6h-1.6zM342.5 555.7h1.6v1.6h-1.6zM111.4 580.1h1.6v1.6h-1.6zM150.9 594.1h1.6v1.6h-1.6zM175.6 529.6h1.6v1.6h-1.6zM105.0 553.7h1.6v1.6h-1.6zM144.1 572.5h1.6v1.6h-1.6zM91.4 572.0h1.6v1.6h-1.6zM358.1 609.5h1.6v1.6h-1.6zM114.8 566.8h1.6v1.6h-1.6zM204.5 532.5h1.6v1.6h-1.6zM101.1 568.4h1.6v1.6h-1.6zM346.4 588.6h1.6v1.6h-1.6zM300.9 506.3h1.6v1.6h-1.6zM222.4 563.6h1.6v1.6h-1.6zM132.8 599.3h1.6v1.6h-1.6zM245.2 516.3h1.6v1.6h-1.6zM122.5 590.0h1.6v1.6h-1.6zM127.4 514.1h1.6v1.6h-1.6zM145.6 578.6h1.6v1.6h-1.6zM231.7 563.3h1.6v1.6h-1.6zM196.5 613.1h1.6v1.6h-1.6zM326.6 551.8h1.6v1.6h-1.6zM354.3 567.8h1.6v1.6h-1.6zM179.3 472.2h1.6v1.6h-1.6zM147.8 574.4h1.6v1.6h-1.6zM104.9 511.1h1.6v1.6h-1.6zM233.5 530.2h1.6v1.6h-1.6zM184.5 606.4h1.6v1.6h-1.6zM121.7 603.7h1.6v1.6h-1.6zM138.9 557.4h1.6v1.6h-1.6zM94.9 620.7h1.6v1.6h-1.6zM247.0 563.1h1.6v1.6h-1.6zM220.5 546.4h1.6v1.6h-1.6zM169.3 538.6h1.6v1.6h-1.6zM159.6 608.7h1.6v1.6h-1.6zM335.6 528.2h1.6v1.6h-1.6zM156.2 544.5h1.6v1.6h-1.6zM309.0 515.8h1.6v1.6h-1.6zM100.3 528.2h1.6v1.6h-1.6zM94.2 558.9h1.6v1.6h-1.6zM104.3 600.6h1.6v1.6h-1.6zM149.1 590.1h1.6v1.6h-1.6zM126.7 597.2h1.6v1.6h-1.6zM158.2 594.6h1.6v1.6h-1.6zM91.1 541.4h1.6v1.6h-1.6zM91.6 569.4h1.6v1.6h-1.6zM91.7 552.7h1.6v1.6h-1.6zM91.8 583.6h1.6v1.6h-1.6zM91.7 541.0h1.6v1.6h-1.6zM91.5 537.0h1.6v1.6h-1.6zM91.3 546.3h1.6v1.6h-1.6zM91.2 588.0h1.6v1.6h-1.6zM91.2 545.3h1.6v1.6h-1.6zM91.3 552.2h1.6v1.6h-1.6zM91.1 533.8h1.6v1.6h-1.6zM91.2 544.5h1.6v1.6h-1.6zM91.6 536.5h1.6v1.6h-1.6zM91.7 591.4h1.6v1.6h-1.6zM91.1 570.4h1.6v1.6h-1.6zM90.8 573.4h1.6v1.6h-1.6zM90.8 560.8h1.6v1.6h-1.6zM91.4 571.3h1.6v1.6h-1.6zM91.2 579.2h1.6v1.6h-1.6zM91.4 557.5h1.6v1.6h-1.6zM90.9 535.2h1.6v1.6h-1.6zM90.8 554.7h1.6v1.6h-1.6zM91.0 536.1h1.6v1.6h-1.6zM91.4 571.0h1.6v1.6h-1.6zM91.6 587.2h1.6v1.6h-1.6zM90.9 556.7h1.6v1.6h-1.6zM90.9 548.5h1.6v1.6h-1.6zM91.0 542.1h1.6v1.6h-1.6zM90.9 566.8h1.6v1.6h-1.6zM91.6 560.5h1.6v1.6h-1.6zM91.0 536.8h1.6v1.6h-1.6zM90.9 578.1h1.6v1.6h-1.6zM91.4 584.8h1.6v1.6h-1.6zM91.0 581.5h1.6v1.6h-1.6zM91.1 561.2h1.6v1.6h-1.6zM91.7 543.0h1.6v1.6h-1.6zM91.0 537.9h1.6v1.6h-1.6zM91.5 581.2h1.6v1.6h-1.6zM91.6 571.7h1.6v1.6h-1.6zM91.6 579.5h1.6v1.6h-1.6zM91.3 554.6h1.6v1.6h-1.6zM91.8 536.2h1.6v1.6h-1.6zM91.8 522.9h1.6v1.6h-1.6zM91.5 489.7h1.6v1.6h-1.6zM91.2 482.7h1.6v1.6h-1.6zM91.7 519.1h1.6v1.6h-1.6zM91.2 489.5h1.6v1.6h-1.6zM90.8 479.6h1.6v1.6h-1.6zM91.7 523.4h1.6v1.6h-1.6zM91.2 492.4h1.6v1.6h-1.6zM91.7 523.6h1.6v1.6h-1.6zM90.8 483.8h1.6v1.6h-1.6zM91.4 613.4h1.6v1.6h-1.6zM91.7 607.9h1.6v1.6h-1.6zM91.6 616.5h1.6v1.6h-1.6zM90.9 605.6h1.6v1.6h-1.6zM91.0 622.7h1.6v1.6h-1.6zM91.0 622.9h1.6v1.6h-1.6zM91.2 616.1h1.6v1.6h-1.6zM190.9 607.3h1.6v1.6h-1.6zM167.6 610.5h1.6v1.6h-1.6zM166.4 618.9h1.6v1.6h-1.6zM162.2 614.7h1.6v1.6h-1.6zM189.8 618.4h1.6v1.6h-1.6zM187.6 603.5h1.6v1.6h-1.6zM194.2 604.1h1.6v1.6h-1.6zM167.3 617.2h1.6v1.6h-1.6zM173.7 620.5h1.6v1.6h-1.6zM182.5 606.8h1.6v1.6h-1.6zM179.1 617.9h1.6v1.6h-1.6zM169.7 618.7h1.6v1.6h-1.6zM423.5 515.0h1.6v1.6h-1.6zM417.8 517.7h1.6v1.6h-1.6zM395.3 524.4h1.6v1.6h-1.6zM406.6 526.7h1.6v1.6h-1.6zM417.2 525.9h1.6v1.6h-1.6zM423.2 525.2h1.6v1.6h-1.6zM440.3 525.8h1.6v1.6h-1.6zM390.7 528.7h1.6v1.6h-1.6zM429.0 529.8h1.6v1.6h-1.6zM435.2 529.0h1.6v1.6h-1.6zM417.8 531.7h1.6v1.6h-1.6zM417.4 533.6h1.6v1.6h-1.6zM420.3 537.1h1.6v1.6h-1.6zM431.2 538.0h1.6v1.6h-1.6zM437.0 536.2h1.6v1.6h-1.6zM403.1 542.6h1.6v1.6h-1.6zM391.8 546.5h1.6v1.6h-1.6zM394.5 547.0h1.6v1.6h-1.6zM412.8 546.1h1.6v1.6h-1.6zM411.4 547.8h1.6v1.6h-1.6zM432.8 547.8h1.6v1.6h-1.6zM426.2 552.3h1.6v1.6h-1.6zM424.1 554.5h1.6v1.6h-1.6zM436.2 554.7h1.6v1.6h-1.6zM413.5 559.1h1.6v1.6h-1.6zM390.1 561.7h1.6v1.6h-1.6zM427.6 559.4h1.6v1.6h-1.6zM428.7 560.2h1.6v1.6h-1.6zM431.7 560.3h1.6v1.6h-1.6zM390.9 565.9h1.6v1.6h-1.6zM387.8 572.0h1.6v1.6h-1.6zM392.2 575.2h1.6v1.6h-1.6zM399.0 572.7h1.6v1.6h-1.6zM403.7 573.1h1.6v1.6h-1.6zM414.3 575.5h1.6v1.6h-1.6zM423.2 572.3h1.6v1.6h-1.6zM400.8 581.8h1.6v1.6h-1.6zM406.5 592.3h1.6v1.6h-1.6zM440.0 592.3h1.6v1.6h-1.6zM436.0 597.3h1.6v1.6h-1.6zM396.4 599.6h1.6v1.6h-1.6zM399.0 604.8h1.6v1.6h-1.6zM411.4 604.8h1.6v1.6h-1.6zM426.0 604.0h1.6v1.6h-1.6zM390.7 610.2h1.6v1.6h-1.6zM411.8 617.2h1.6v1.6h-1.6zM390.4 675.9h1.6v1.6h-1.6zM448.5 533.6h1.6v1.6h-1.6zM453.9 543.5h1.6v1.6h-1.6zM471.0 543.0h1.6v1.6h-1.6zM475.2 547.8h1.6v1.6h-1.6zM490.8 541.9h1.6v1.6h-1.6zM93.0 626.3h1.6v1.6h-1.6zM109.5 626.3h1.6v1.6h-1.6zM115.3 624.4h1.6v1.6h-1.6zM146.0 624.4h1.6v1.6h-1.6zM149.5 626.3h1.6v1.6h-1.6zM110.7 635.4h1.6v1.6h-1.6zM108.9 643.8h1.6v1.6h-1.6zM128.0 643.8h1.6v1.6h-1.6zM149.9 640.9h1.6v1.6h-1.6zM91.8 654.6h1.6v1.6h-1.6zM149.9 654.6h1.6v1.6h-1.6zM91.0 663.6h1.6v1.6h-1.6zM150.1 675.7h1.6v1.6h-1.6zM131.8 686.5h1.6v1.6h-1.6zM168.0 682.7h1.6v1.6h-1.6zM169.7 624.6h1.6v1.6h-1.6zM171.0 626.3h1.6v1.6h-1.6zM167.0 628.4h1.6v1.6h-1.6zM171.0 630.9h1.6v1.6h-1.6zM168.4 638.2h1.6v1.6h-1.6zM171.4 640.9h1.6v1.6h-1.6zM168.9 643.8h1.6v1.6h-1.6zM168.4 647.3h1.6v1.6h-1.6zM171.0 650.9h1.6v1.6h-1.6zM171.6 654.6h1.6v1.6h-1.6zM178.4 654.6h1.6v1.6h-1.6zM181.4 624.6h1.6v1.6h-1.6zM185.0 624.6h1.6v1.6h-1.6zM223.8 626.3h1.6v1.6h-1.6zM235.0 624.6h1.6v1.6h-1.6zM193.4 633.0h1.6v1.6h-1.6zM192.1 635.4h1.6v1.6h-1.6zM196.5 635.4h1.6v1.6h-1.6zM217.7 635.4h1.6v1.6h-1.6zM254.2 630.9h1.6v1.6h-1.6zM265.0 630.9h1.6v1.6h-1.6zM270.4 630.9h1.6v1.6h-1.6zM273.2 633.0h1.6v1.6h-1.6zM278.3 626.3h1.6v1.6h-1.6zM259.0 638.2h1.6v1.6h-1.6zM261.5 638.2h1.6v1.6h-1.6zM223.2 640.9h1.6v1.6h-1.6zM185.9 640.9h1.6v1.6h-1.6zM186.9 640.9h1.6v1.6h-1.6zM184.0 643.8h1.6v1.6h-1.6zM192.5 643.8h1.6v1.6h-1.6zM252.1 647.3h1.6v1.6h-1.6zM273.6 647.3h1.6v1.6h-1.6zM279.1 647.3h1.6v1.6h-1.6zM189.6 650.9h1.6v1.6h-1.6zM254.2 650.9h1.6v1.6h-1.6zM195.2 654.6h1.6v1.6h-1.6zM253.0 654.6h1.6v1.6h-1.6zM188.0 659.0h1.6v1.6h-1.6zM267.1 663.6h1.6v1.6h-1.6zM226.1 675.7h1.6v1.6h-1.6zM257.1 691.9h1.6v1.6h-1.6zM279.3 628.5h1.6v1.6h-1.6zM286.8 628.5h1.6v1.6h-1.6zM296.1 628.5h1.6v1.6h-1.6zM330.8 624.5h1.6v1.6h-1.6zM288.6 632.9h1.6v1.6h-1.6zM385.7 632.9h1.6v1.6h-1.6zM382.3 641.1h1.6v1.6h-1.6zM284.4 643.7h1.6v1.6h-1.6zM299.9 643.7h1.6v1.6h-1.6zM303.2 643.7h1.6v1.6h-1.6zM285.5 654.6h1.6v1.6h-1.6zM291.4 654.6h1.6v1.6h-1.6zM290.1 659.0h1.6v1.6h-1.6zM301.4 659.0h1.6v1.6h-1.6zM292.8 663.6h1.6v1.6h-1.6zM296.8 663.6h1.6v1.6h-1.6z"/><path fill="#333333" d="M91.6 507.3h1.8v1.8h-1.8zM91.3 511.2h1.8v1.8h-1.8zM91.1 517.9h1.8v1.8h-1.8zM91.1 519.1h1.8v1.8h-1.8zM91.5 474.7h1.8v1.8h-1.8zM90.9 481.6h1.8v1.8h-1.8zM91.0 517.6h1.8v1.8h-1.8zM91.7 494.9h1.8v1.8h-1.8zM90.8 503.2h1.8v1.8h-1.8zM91.5 503.2h1.8v1.8h-1.8zM90.8 486.4h1.8v1.8h-1.8zM91.3 498.9h1.8v1.8h-1.8zM91.1 494.3h1.8v1.8h-1.8zM91.5 473.0h1.8v1.8h-1.8zM91.4 475.5h1.8v1.8h-1.8zM264.1 501.2h1.8v1.8h-1.8zM159.4 486.5h1.8v1.8h-1.8zM211.5 515.9h1.8v1.8h-1.8zM269.9 511.8h1.8v1.8h-1.8zM95.5 476.3h1.8v1.8h-1.8zM222.7 494.1h1.8v1.8h-1.8zM329.0 486.5h1.8v1.8h-1.8zM128.0 511.2h1.8v1.8h-1.8zM265.5 501.2h1.8v1.8h-1.8zM103.7 515.9h1.8v1.8h-1.8zM255.4 502.7h1.8v1.8h-1.8zM110.5 519.1h1.8v1.8h-1.8zM118.9 483.6h1.8v1.8h-1.8zM93.6 509.7h1.8v1.8h-1.8zM229.8 499.2h1.8v1.8h-1.8zM103.9 519.1h1.8v1.8h-1.8zM137.9 501.2h1.8v1.8h-1.8zM109.6 494.4h1.8v1.8h-1.8zM296.2 476.3h1.8v1.8h-1.8zM103.8 482.6h1.8v1.8h-1.8zM228.6 502.2h1.8v1.8h-1.8zM108.4 493.5h1.8v1.8h-1.8zM357.7 498.7h1.8v1.8h-1.8zM334.8 485.1h1.8v1.8h-1.8zM205.2 492.9h1.8v1.8h-1.8zM124.3 508.3h1.8v1.8h-1.8zM93.1 500.0h1.8v1.8h-1.8zM307.7 505.7h1.8v1.8h-1.8zM133.3 499.0h1.8v1.8h-1.8zM114.4 513.0h1.8v1.8h-1.8zM316.6 515.8h1.8v1.8h-1.8zM98.0 506.4h1.8v1.8h-1.8zM168.1 512.4h1.8v1.8h-1.8zM107.7 512.2h1.8v1.8h-1.8zM198.1 499.9h1.8v1.8h-1.8zM289.8 493.2h1.8v1.8h-1.8zM95.9 492.7h1.8v1.8h-1.8zM103.9 477.6h1.8v1.8h-1.8zM98.7 473.8h1.8v1.8h-1.8zM111.8 499.9h1.8v1.8h-1.8zM205.3 504.3h1.8v1.8h-1.8zM243.5 499.7h1.8v1.8h-1.8zM179.9 491.5h1.8v1.8h-1.8zM108.5 480.6h1.8v1.8h-1.8zM125.0 503.5h1.8v1.8h-1.8zM237.9 492.3h1.8v1.8h-1.8zM283.4 507.6h1.8v1.8h-1.8zM151.6 476.2h1.8v1.8h-1.8zM152.6 504.1h1.8v1.8h-1.8zM336.9 504.2h1.8v1.8h-1.8zM175.2 506.9h1.8v1.8h-1.8zM95.1 480.9h1.8v1.8h-1.8zM254.5 501.0h1.8v1.8h-1.8zM198.8 498.5h1.8v1.8h-1.8zM192.4 493.4h1.8v1.8h-1.8zM128.9 527.3h1.8v1.8h-1.8zM124.5 478.1h1.8v1.8h-1.8zM181.2 503.1h1.8v1.8h-1.8zM207.9 508.5h1.8v1.8h-1.8zM181.1 501.1h1.8v1.8h-1.8zM177.7 492.0h1.8v1.8h-1.8zM93.3 477.7h1.8v1.8h-1.8zM151.0 496.4h1.8v1.8h-1.8zM95.4 471.8h1.8v1.8h-1.8zM175.2 479.1h1.8v1.8h-1.8zM107.1 504.4h1.8v1.8h-1.8zM100.0 488.5h1.8v1.8h-1.8zM265.5 501.6h1.8v1.8h-1.8zM219.9 494.4h1.8v1.8h-1.8zM255.4 495.3h1.8v1.8h-1.8zM317.2 511.1h1.8v1.8h-1.8zM349.7 489.7h1.8v1.8h-1.8zM292.4 509.7h1.8v1.8h-1.8zM259.4 496.7h1.8v1.8h-1.8zM247.9 488.7h1.8v1.8h-1.8zM348.5 511.5h1.8v1.8h-1.8zM125.3 507.9h1.8v1.8h-1.8zM252.1 496.8h1.8v1.8h-1.8zM100.1 485.8h1.8v1.8h-1.8zM169.1 478.6h1.8v1.8h-1.8zM99.4 495.8h1.8v1.8h-1.8zM139.8 494.4h1.8v1.8h-1.8zM301.9 504.6h1.8v1.8h-1.8zM315.5 491.5h1.8v1.8h-1.8zM99.7 516.9h1.8v1.8h-1.8zM239.5 506.7h1.8v1.8h-1.8zM172.8 485.7h1.8v1.8h-1.8zM108.5 469.1h1.8v1.8h-1.8zM134.2 509.6h1.8v1.8h-1.8zM207.5 499.1h1.8v1.8h-1.8zM352.0 494.6h1.8v1.8h-1.8zM371.5 503.6h1.8v1.8h-1.8zM148.9 509.8h1.8v1.8h-1.8zM287.8 510.7h1.8v1.8h-1.8zM147.9 501.5h1.8v1.8h-1.8zM317.0 510.1h1.8v1.8h-1.8zM142.2 519.9h1.8v1.8h-1.8zM345.6 512.2h1.8v1.8h-1.8zM245.9 507.2h1.8v1.8h-1.8zM120.7 495.8h1.8v1.8h-1.8zM377.2 514.8h1.8v1.8h-1.8zM128.2 485.7h1.8v1.8h-1.8zM273.0 504.7h1.8v1.8h-1.8zM212.7 502.2h1.8v1.8h-1.8zM185.0 520.7h1.8v1.8h-1.8zM155.6 515.2h1.8v1.8h-1.8zM295.1 488.0h1.8v1.8h-1.8zM115.3 496.2h1.8v1.8h-1.8zM91.3 500.3h1.8v1.8h-1.8zM319.6 495.9h1.8v1.8h-1.8zM130.5 500.6h1.8v1.8h-1.8zM333.1 508.3h1.8v1.8h-1.8zM202.7 486.5h1.8v1.8h-1.8zM326.7 511.4h1.8v1.8h-1.8zM103.9 476.9h1.8v1.8h-1.8zM113.3 482.5h1.8v1.8h-1.8zM107.4 499.9h1.8v1.8h-1.8zM117.7 473.1h1.8v1.8h-1.8zM287.2 503.8h1.8v1.8h-1.8zM136.9 501.5h1.8v1.8h-1.8zM215.1 491.7h1.8v1.8h-1.8zM334.8 497.7h1.8v1.8h-1.8zM102.8 508.0h1.8v1.8h-1.8zM363.2 510.7h1.8v1.8h-1.8zM305.5 498.4h1.8v1.8h-1.8zM101.3 503.5h1.8v1.8h-1.8zM165.5 513.2h1.8v1.8h-1.8zM285.8 489.3h1.8v1.8h-1.8zM308.7 506.0h1.8v1.8h-1.8zM146.3 489.3h1.8v1.8h-1.8zM158.5 491.9h1.8v1.8h-1.8zM114.5 500.8h1.8v1.8h-1.8zM230.0 504.7h1.8v1.8h-1.8zM165.9 503.3h1.8v1.8h-1.8zM125.4 512.6h1.8v1.8h-1.8zM213.5 506.6h1.8v1.8h-1.8zM111.1 500.7h1.8v1.8h-1.8zM285.9 502.0h1.8v1.8h-1.8zM358.8 526.8h1.8v1.8h-1.8zM111.1 486.9h1.8v1.8h-1.8zM365.3 504.8h1.8v1.8h-1.8zM216.5 507.1h1.8v1.8h-1.8zM367.0 495.5h1.8v1.8h-1.8zM252.1 497.8h1.8v1.8h-1.8zM372.6 524.8h1.8v1.8h-1.8zM169.2 506.7h1.8v1.8h-1.8zM233.8 486.9h1.8v1.8h-1.8zM242.6 512.2h1.8v1.8h-1.8zM93.8 504.6h1.8v1.8h-1.8zM128.9 487.4h1.8v1.8h-1.8zM117.6 518.6h1.8v1.8h-1.8zM249.4 516.1h1.8v1.8h-1.8zM359.3 491.1h1.8v1.8h-1.8zM97.4 471.2h1.8v1.8h-1.8zM183.8 510.2h1.8v1.8h-1.8zM256.1 493.4h1.8v1.8h-1.8zM167.8 490.6h1.8v1.8h-1.8zM220.2 495.9h1.8v1.8h-1.8zM123.4 515.4h1.8v1.8h-1.8zM100.0 507.8h1.8v1.8h-1.8zM208.1 497.2h1.8v1.8h-1.8zM111.9 502.8h1.8v1.8h-1.8zM101.9 514.5h1.8v1.8h-1.8zM211.5 496.4h1.8v1.8h-1.8zM263.0 515.9h1.8v1.8h-1.8zM383.0 496.6h1.8v1.8h-1.8zM154.9 492.3h1.8v1.8h-1.8zM248.0 499.6h1.8v1.8h-1.8zM161.5 494.4h1.8v1.8h-1.8zM188.8 499.7h1.8v1.8h-1.8zM310.6 496.9h1.8v1.8h-1.8zM125.8 478.1h1.8v1.8h-1.8zM116.7 491.5h1.8v1.8h-1.8zM102.4 473.2h1.8v1.8h-1.8zM271.0 508.0h1.8v1.8h-1.8zM101.7 511.5h1.8v1.8h-1.8zM219.4 503.8h1.8v1.8h-1.8zM210.8 494.6h1.8v1.8h-1.8zM117.9 473.1h1.8v1.8h-1.8zM124.3 494.2h1.8v1.8h-1.8zM125.5 487.5h1.8v1.8h-1.8zM327.7 496.0h1.8v1.8h-1.8zM375.2 494.3h1.8v1.8h-1.8zM113.2 495.9h1.8v1.8h-1.8zM127.2 505.1h1.8v1.8h-1.8zM94.9 482.6h1.8v1.8h-1.8zM223.8 509.0h1.8v1.8h-1.8zM127.3 493.9h1.8v1.8h-1.8zM322.1 495.6h1.8v1.8h-1.8zM112.9 505.9h1.8v1.8h-1.8zM325.8 515.2h1.8v1.8h-1.8zM275.8 509.4h1.8v1.8h-1.8zM115.3 507.2h1.8v1.8h-1.8zM120.3 494.8h1.8v1.8h-1.8zM162.1 508.9h1.8v1.8h-1.8zM181.8 502.6h1.8v1.8h-1.8zM315.7 510.3h1.8v1.8h-1.8zM335.8 494.5h1.8v1.8h-1.8zM182.9 498.1h1.8v1.8h-1.8zM129.5 517.2h1.8v1.8h-1.8zM241.8 509.4h1.8v1.8h-1.8zM221.5 484.3h1.8v1.8h-1.8zM305.9 484.7h1.8v1.8h-1.8zM98.2 520.0h1.8v1.8h-1.8zM221.0 525.0h1.8v1.8h-1.8zM126.4 489.4h1.8v1.8h-1.8zM218.9 480.0h1.8v1.8h-1.8zM258.5 486.7h1.8v1.8h-1.8zM367.0 498.0h1.8v1.8h-1.8zM109.6 515.7h1.8v1.8h-1.8zM104.4 490.7h1.8v1.8h-1.8zM227.1 505.5h1.8v1.8h-1.8zM99.6 513.1h1.8v1.8h-1.8zM115.8 494.3h1.8v1.8h-1.8zM385.5 495.0h1.8v1.8h-1.8zM107.9 473.9h1.8v1.8h-1.8zM300.1 516.9h1.8v1.8h-1.8zM207.2 503.9h1.8v1.8h-1.8zM110.3 479.7h1.8v1.8h-1.8zM262.1 489.0h1.8v1.8h-1.8zM202.4 506.0h1.8v1.8h-1.8zM229.7 495.3h1.8v1.8h-1.8zM150.0 501.3h1.8v1.8h-1.8zM382.8 494.8h1.8v1.8h-1.8zM92.2 488.4h1.8v1.8h-1.8zM177.1 581.1h1.8v1.8h-1.8zM171.4 572.6h1.8v1.8h-1.8zM174.8 581.8h1.8v1.8h-1.8zM177.4 586.6h1.8v1.8h-1.8zM171.1 576.6h1.8v1.8h-1.8zM174.2 580.6h1.8v1.8h-1.8zM171.8 571.9h1.8v1.8h-1.8zM184.9 566.9h1.8v1.8h-1.8zM178.0 576.1h1.8v1.8h-1.8zM174.4 584.7h1.8v1.8h-1.8zM171.7 567.2h1.8v1.8h-1.8zM174.3 583.3h1.8v1.8h-1.8zM186.0 620.5h1.8v1.8h-1.8zM184.2 620.1h1.8v1.8h-1.8zM183.4 611.2h1.8v1.8h-1.8zM183.5 612.3h1.8v1.8h-1.8zM387.7 497.8h1.8v1.8h-1.8zM411.3 502.0h1.8v1.8h-1.8zM397.7 520.8h1.8v1.8h-1.8zM182.6 626.2h1.8v1.8h-1.8zM183.3 640.8h1.8v1.8h-1.8zM182.6 654.5h1.8v1.8h-1.8zM182.0 658.9h1.8v1.8h-1.8zM185.1 658.9h1.8v1.8h-1.8zM183.9 682.6h1.8v1.8h-1.8zM184.1 691.8h1.8v1.8h-1.8zM184.5 719.7h1.8v1.8h-1.8z"/><rect x="82" y="454" width="419" height="307" fill="none" stroke="#141414" stroke-width="2"/><rect x="76" y="747.3" width="5" height="2" fill="#141414"/><text x="69.5" y="753.7" text-anchor="end" class="t">0</text><rect x="76" y="706.8" width="5" height="2" fill="#141414"/><text x="69.5" y="713.2" text-anchor="end" class="t">1</text><rect x="76" y="666.3" width="5" height="2" fill="#141414"/><text x="69.5" y="672.7" text-anchor="end" class="t">2</text><rect x="76" y="625.8" width="5" height="2" fill="#141414"/><text x="69.5" y="632.2" text-anchor="end" class="t">3</text><rect x="76" y="585.3" width="5" height="2" fill="#141414"/><text x="69.5" y="591.7" text-anchor="end" class="t">4</text><rect x="76" y="544.8" width="5" height="2" fill="#141414"/><text x="69.5" y="551.2" text-anchor="end" class="t">5</text><rect x="76" y="504.3" width="5" height="2" fill="#141414"/><text x="69.5" y="510.7" text-anchor="end" class="t">6</text><rect x="76" y="463.8" width="5" height="2" fill="#141414"/><text x="69.5" y="470.2" text-anchor="end" class="t">7</text><rect x="91.1" y="762" width="2" height="5" fill="#141414"/><text x="92.1" y="787.0" text-anchor="middle" class="t">0</text><rect x="171.0" y="762" width="2" height="5" fill="#141414"/><text x="172.0" y="787.0" text-anchor="middle" class="t">200</text><rect x="250.9" y="762" width="2" height="5" fill="#141414"/><text x="251.9" y="787.0" text-anchor="middle" class="t">400</text><rect x="330.8" y="762" width="2" height="5" fill="#141414"/><text x="331.8" y="787.0" text-anchor="middle" class="t">600</text><rect x="410.7" y="762" width="2" height="5" fill="#141414"/><text x="411.7" y="787.0" text-anchor="middle" class="t">800</text><rect x="490.6" y="762" width="2" height="5" fill="#141414"/><text x="491.6" y="787.0" text-anchor="middle" class="t">1000</text><text transform="translate(18.6,442.0) scale(0.88,1)" class="pl">B</text><path fill="#e02828" d="M274.4 1116.0h1.6v1.6h-1.6zM223.4 1050.0h1.6v1.6h-1.6zM113.0 1132.1h1.6v1.6h-1.6zM310.9 1137.2h1.6v1.6h-1.6zM302.8 1133.4h1.6v1.6h-1.6zM127.9 1031.5h1.6v1.6h-1.6zM109.9 1075.7h1.6v1.6h-1.6zM99.1 1099.9h1.6v1.6h-1.6zM322.9 1118.6h1.6v1.6h-1.6zM145.2 1041.8h1.6v1.6h-1.6zM350.3 1088.9h1.6v1.6h-1.6zM231.4 1095.6h1.6v1.6h-1.6zM274.3 1127.1h1.6v1.6h-1.6zM256.9 1141.2h1.6v1.6h-1.6zM147.2 1132.6h1.6v1.6h-1.6zM214.1 1139.7h1.6v1.6h-1.6zM303.9 991.3h1.6v1.6h-1.6zM163.6 1061.6h1.6v1.6h-1.6zM116.8 1113.8h1.6v1.6h-1.6zM168.1 1072.4h1.6v1.6h-1.6zM255.5 1070.7h1.6v1.6h-1.6zM166.3 1091.8h1.6v1.6h-1.6zM94.7 1086.1h1.6v1.6h-1.6zM262.6 1082.9h1.6v1.6h-1.6zM240.2 1140.7h1.6v1.6h-1.6zM285.6 1050.1h1.6v1.6h-1.6zM205.1 1080.1h1.6v1.6h-1.6zM124.7 1076.0h1.6v1.6h-1.6zM160.1 1032.9h1.6v1.6h-1.6zM110.1 1125.4h1.6v1.6h-1.6zM144.9 1121.2h1.6v1.6h-1.6zM345.7 1073.2h1.6v1.6h-1.6zM255.3 1066.8h1.6v1.6h-1.6zM134.5 1116.9h1.6v1.6h-1.6zM203.4 1020.8h1.6v1.6h-1.6zM173.2 1036.0h1.6v1.6h-1.6zM119.9 1099.0h1.6v1.6h-1.6zM174.8 1080.6h1.6v1.6h-1.6zM163.7 1134.7h1.6v1.6h-1.6zM254.3 1128.1h1.6v1.6h-1.6zM215.1 1147.1h1.6v1.6h-1.6zM220.6 1132.1h1.6v1.6h-1.6zM366.2 1096.0h1.6v1.6h-1.6zM324.9 1004.7h1.6v1.6h-1.6zM135.1 1083.4h1.6v1.6h-1.6zM178.0 1117.9h1.6v1.6h-1.6zM145.5 1098.3h1.6v1.6h-1.6zM198.1 1137.3h1.6v1.6h-1.6zM274.3 1147.6h1.6v1.6h-1.6zM275.3 995.3h1.6v1.6h-1.6zM186.3 1055.2h1.6v1.6h-1.6zM92.4 1024.0h1.6v1.6h-1.6zM91.9 1087.6h1.6v1.6h-1.6zM255.6 1115.7h1.6v1.6h-1.6zM113.7 1076.3h1.6v1.6h-1.6zM335.8 1078.1h1.6v1.6h-1.6zM171.9 1101.5h1.6v1.6h-1.6zM100.2 1022.2h1.6v1.6h-1.6zM105.1 1149.6h1.6v1.6h-1.6zM145.8 1122.8h1.6v1.6h-1.6zM140.1 1068.7h1.6v1.6h-1.6zM230.2 1101.3h1.6v1.6h-1.6zM127.6 1109.4h1.6v1.6h-1.6zM151.3 1070.1h1.6v1.6h-1.6zM181.1 1086.7h1.6v1.6h-1.6zM103.1 1013.8h1.6v1.6h-1.6zM160.7 1078.4h1.6v1.6h-1.6zM172.2 1133.8h1.6v1.6h-1.6zM306.8 1080.9h1.6v1.6h-1.6zM106.8 1079.3h1.6v1.6h-1.6zM108.9 1098.1h1.6v1.6h-1.6zM308.1 1078.6h1.6v1.6h-1.6zM315.9 1149.8h1.6v1.6h-1.6zM293.4 1083.6h1.6v1.6h-1.6zM177.9 1153.2h1.6v1.6h-1.6zM228.4 1137.1h1.6v1.6h-1.6zM150.9 1119.6h1.6v1.6h-1.6zM111.7 1101.8h1.6v1.6h-1.6zM138.6 1130.3h1.6v1.6h-1.6zM320.3 1126.4h1.6v1.6h-1.6zM148.8 1086.8h1.6v1.6h-1.6zM239.1 1030.9h1.6v1.6h-1.6zM122.4 1138.2h1.6v1.6h-1.6zM173.5 1021.8h1.6v1.6h-1.6zM365.7 1126.2h1.6v1.6h-1.6zM251.9 1106.6h1.6v1.6h-1.6zM250.1 1078.4h1.6v1.6h-1.6zM220.1 1027.1h1.6v1.6h-1.6zM108.5 1042.5h1.6v1.6h-1.6zM279.8 1106.9h1.6v1.6h-1.6zM231.2 1095.4h1.6v1.6h-1.6zM155.5 1120.7h1.6v1.6h-1.6zM265.7 1132.9h1.6v1.6h-1.6zM129.0 1146.4h1.6v1.6h-1.6zM304.2 1138.3h1.6v1.6h-1.6zM186.4 1107.9h1.6v1.6h-1.6zM185.0 1075.7h1.6v1.6h-1.6zM170.7 1077.4h1.6v1.6h-1.6zM300.1 1052.9h1.6v1.6h-1.6zM228.3 1115.2h1.6v1.6h-1.6zM218.3 1143.2h1.6v1.6h-1.6zM210.0 1108.1h1.6v1.6h-1.6zM140.2 1132.8h1.6v1.6h-1.6zM199.7 1097.0h1.6v1.6h-1.6zM260.8 1117.1h1.6v1.6h-1.6zM370.7 1100.1h1.6v1.6h-1.6zM267.2 1135.5h1.6v1.6h-1.6zM203.8 1101.9h1.6v1.6h-1.6zM197.3 1131.7h1.6v1.6h-1.6zM305.3 1119.3h1.6v1.6h-1.6zM285.4 1133.2h1.6v1.6h-1.6zM225.2 1066.1h1.6v1.6h-1.6zM234.3 1083.5h1.6v1.6h-1.6zM159.0 1147.6h1.6v1.6h-1.6zM225.9 1033.5h1.6v1.6h-1.6zM273.6 1142.3h1.6v1.6h-1.6zM263.6 1081.3h1.6v1.6h-1.6zM145.9 1138.1h1.6v1.6h-1.6zM268.5 1076.5h1.6v1.6h-1.6zM169.6 1107.3h1.6v1.6h-1.6zM302.0 1087.7h1.6v1.6h-1.6zM149.3 1063.0h1.6v1.6h-1.6zM150.6 1061.8h1.6v1.6h-1.6zM175.6 1085.1h1.6v1.6h-1.6zM185.4 1109.7h1.6v1.6h-1.6zM117.9 1054.9h1.6v1.6h-1.6zM108.5 1112.2h1.6v1.6h-1.6zM110.6 1135.6h1.6v1.6h-1.6zM113.2 1058.4h1.6v1.6h-1.6zM361.2 1131.1h1.6v1.6h-1.6zM222.7 1114.4h1.6v1.6h-1.6zM254.4 1111.0h1.6v1.6h-1.6zM216.9 1126.0h1.6v1.6h-1.6zM101.7 985.3h1.6v1.6h-1.6zM302.0 995.9h1.6v1.6h-1.6zM137.7 1001.0h1.6v1.6h-1.6zM127.1 1074.2h1.6v1.6h-1.6zM253.4 1087.9h1.6v1.6h-1.6zM96.4 1116.0h1.6v1.6h-1.6zM159.5 1137.7h1.6v1.6h-1.6zM186.0 1143.0h1.6v1.6h-1.6zM124.0 1068.2h1.6v1.6h-1.6zM130.2 1072.1h1.6v1.6h-1.6zM110.9 1062.1h1.6v1.6h-1.6zM369.9 1083.5h1.6v1.6h-1.6zM278.7 1137.7h1.6v1.6h-1.6zM159.2 1079.1h1.6v1.6h-1.6zM354.0 1060.5h1.6v1.6h-1.6zM347.5 1024.1h1.6v1.6h-1.6zM209.5 1126.3h1.6v1.6h-1.6zM225.3 1079.7h1.6v1.6h-1.6zM236.2 1043.2h1.6v1.6h-1.6zM105.3 1080.2h1.6v1.6h-1.6zM148.7 1036.8h1.6v1.6h-1.6zM115.2 1065.4h1.6v1.6h-1.6zM229.1 1049.3h1.6v1.6h-1.6zM101.2 1115.0h1.6v1.6h-1.6zM324.8 1100.5h1.6v1.6h-1.6zM167.7 1111.5h1.6v1.6h-1.6zM133.5 1114.2h1.6v1.6h-1.6zM130.0 1140.9h1.6v1.6h-1.6zM161.8 1087.3h1.6v1.6h-1.6zM340.8 1000.2h1.6v1.6h-1.6zM307.0 1096.2h1.6v1.6h-1.6zM272.5 1106.7h1.6v1.6h-1.6zM365.5 1115.5h1.6v1.6h-1.6zM237.3 1123.6h1.6v1.6h-1.6zM243.7 1124.6h1.6v1.6h-1.6zM134.3 1078.5h1.6v1.6h-1.6zM114.8 1002.9h1.6v1.6h-1.6zM184.7 1140.3h1.6v1.6h-1.6zM99.1 1138.4h1.6v1.6h-1.6zM373.8 1140.1h1.6v1.6h-1.6zM151.7 1005.1h1.6v1.6h-1.6zM264.7 1107.9h1.6v1.6h-1.6zM118.5 1079.2h1.6v1.6h-1.6zM299.7 1147.6h1.6v1.6h-1.6zM137.9 1074.5h1.6v1.6h-1.6zM317.4 1108.5h1.6v1.6h-1.6zM213.6 1082.0h1.6v1.6h-1.6zM138.6 1047.7h1.6v1.6h-1.6zM272.7 1081.4h1.6v1.6h-1.6zM244.1 1132.0h1.6v1.6h-1.6zM355.7 1121.6h1.6v1.6h-1.6zM249.7 1112.3h1.6v1.6h-1.6zM227.9 1075.7h1.6v1.6h-1.6zM126.1 1095.3h1.6v1.6h-1.6zM276.6 1089.1h1.6v1.6h-1.6zM273.6 1149.2h1.6v1.6h-1.6zM109.1 1111.6h1.6v1.6h-1.6zM116.5 1087.9h1.6v1.6h-1.6zM214.4 1106.3h1.6v1.6h-1.6zM153.8 1100.0h1.6v1.6h-1.6zM114.8 994.6h1.6v1.6h-1.6zM241.6 1143.7h1.6v1.6h-1.6zM245.4 1100.7h1.6v1.6h-1.6zM226.2 1149.0h1.6v1.6h-1.6zM186.2 1137.9h1.6v1.6h-1.6zM126.9 1113.3h1.6v1.6h-1.6zM148.5 1026.5h1.6v1.6h-1.6zM279.8 1140.2h1.6v1.6h-1.6zM112.1 1145.6h1.6v1.6h-1.6zM103.1 1038.3h1.6v1.6h-1.6zM282.8 1088.1h1.6v1.6h-1.6zM245.4 1145.9h1.6v1.6h-1.6zM155.7 1065.0h1.6v1.6h-1.6zM179.2 1055.9h1.6v1.6h-1.6zM110.6 1126.4h1.6v1.6h-1.6zM254.7 1100.9h1.6v1.6h-1.6zM148.1 1027.2h1.6v1.6h-1.6zM143.9 1102.5h1.6v1.6h-1.6zM236.4 1125.6h1.6v1.6h-1.6zM186.4 1132.2h1.6v1.6h-1.6zM212.7 1068.9h1.6v1.6h-1.6zM280.9 1051.0h1.6v1.6h-1.6zM270.8 1101.5h1.6v1.6h-1.6zM220.4 1072.4h1.6v1.6h-1.6zM91.5 1074.6h1.6v1.6h-1.6zM270.1 1097.0h1.6v1.6h-1.6zM97.8 1082.3h1.6v1.6h-1.6zM161.9 1104.3h1.6v1.6h-1.6zM143.0 1134.4h1.6v1.6h-1.6zM248.9 1093.9h1.6v1.6h-1.6zM203.9 1087.8h1.6v1.6h-1.6zM109.2 1033.4h1.6v1.6h-1.6zM174.9 1155.6h1.6v1.6h-1.6zM268.3 1071.2h1.6v1.6h-1.6zM208.0 1076.3h1.6v1.6h-1.6zM293.8 1134.4h1.6v1.6h-1.6zM103.9 1059.3h1.6v1.6h-1.6zM186.7 1146.8h1.6v1.6h-1.6zM107.7 1064.3h1.6v1.6h-1.6zM149.3 1144.6h1.6v1.6h-1.6zM92.4 1058.7h1.6v1.6h-1.6zM153.0 1107.0h1.6v1.6h-1.6zM181.0 1068.6h1.6v1.6h-1.6zM118.4 1141.1h1.6v1.6h-1.6zM236.0 1102.8h1.6v1.6h-1.6zM212.5 1114.0h1.6v1.6h-1.6zM224.5 1126.7h1.6v1.6h-1.6zM262.3 1070.5h1.6v1.6h-1.6zM291.7 1105.0h1.6v1.6h-1.6zM336.1 1065.4h1.6v1.6h-1.6zM122.1 1084.0h1.6v1.6h-1.6zM157.8 1141.5h1.6v1.6h-1.6zM376.4 1087.5h1.6v1.6h-1.6zM93.2 1026.1h1.6v1.6h-1.6zM362.6 1081.8h1.6v1.6h-1.6zM138.3 1033.7h1.6v1.6h-1.6zM137.4 1108.2h1.6v1.6h-1.6zM273.4 1050.9h1.6v1.6h-1.6zM116.1 1097.6h1.6v1.6h-1.6zM220.6 1142.0h1.6v1.6h-1.6zM92.4 1040.5h1.6v1.6h-1.6zM167.1 1070.5h1.6v1.6h-1.6zM342.4 1076.0h1.6v1.6h-1.6zM375.9 1138.6h1.6v1.6h-1.6zM188.7 1039.0h1.6v1.6h-1.6zM222.2 1087.8h1.6v1.6h-1.6zM134.9 1136.4h1.6v1.6h-1.6zM104.1 1057.5h1.6v1.6h-1.6zM124.6 1115.3h1.6v1.6h-1.6zM178.2 1110.2h1.6v1.6h-1.6zM231.4 1104.2h1.6v1.6h-1.6zM320.2 1075.3h1.6v1.6h-1.6zM210.9 1065.7h1.6v1.6h-1.6zM205.2 1153.7h1.6v1.6h-1.6zM124.1 1100.9h1.6v1.6h-1.6zM370.0 1082.4h1.6v1.6h-1.6zM169.9 1146.3h1.6v1.6h-1.6zM122.6 987.5h1.6v1.6h-1.6zM248.8 1069.3h1.6v1.6h-1.6zM96.4 1116.2h1.6v1.6h-1.6zM205.2 1136.2h1.6v1.6h-1.6zM129.8 1152.3h1.6v1.6h-1.6zM314.0 1025.3h1.6v1.6h-1.6zM187.3 1033.3h1.6v1.6h-1.6zM154.3 1053.0h1.6v1.6h-1.6zM222.7 1075.1h1.6v1.6h-1.6zM316.6 1122.8h1.6v1.6h-1.6zM96.5 1104.9h1.6v1.6h-1.6zM336.5 1132.1h1.6v1.6h-1.6zM255.0 1131.3h1.6v1.6h-1.6zM259.5 1094.5h1.6v1.6h-1.6zM177.6 1112.0h1.6v1.6h-1.6zM96.0 1117.1h1.6v1.6h-1.6zM212.0 1061.4h1.6v1.6h-1.6zM304.5 1109.0h1.6v1.6h-1.6zM367.5 1100.9h1.6v1.6h-1.6zM171.8 1046.6h1.6v1.6h-1.6zM220.0 1143.1h1.6v1.6h-1.6zM337.4 1136.7h1.6v1.6h-1.6zM123.9 1083.2h1.6v1.6h-1.6zM378.7 1111.0h1.6v1.6h-1.6zM187.8 1078.3h1.6v1.6h-1.6zM253.0 1068.5h1.6v1.6h-1.6zM163.6 1152.6h1.6v1.6h-1.6zM196.5 1079.9h1.6v1.6h-1.6zM191.4 1105.6h1.6v1.6h-1.6zM273.9 1062.4h1.6v1.6h-1.6zM190.3 1146.3h1.6v1.6h-1.6zM108.9 1021.0h1.6v1.6h-1.6zM287.9 1153.8h1.6v1.6h-1.6zM167.6 1045.4h1.6v1.6h-1.6zM287.1 1127.8h1.6v1.6h-1.6zM96.1 1023.1h1.6v1.6h-1.6zM131.0 1077.9h1.6v1.6h-1.6zM228.0 1098.6h1.6v1.6h-1.6zM145.8 1130.9h1.6v1.6h-1.6zM100.3 1073.8h1.6v1.6h-1.6zM129.5 1090.7h1.6v1.6h-1.6zM235.9 1060.3h1.6v1.6h-1.6zM148.5 1133.3h1.6v1.6h-1.6zM94.7 1114.5h1.6v1.6h-1.6zM157.6 1106.4h1.6v1.6h-1.6zM104.8 1054.0h1.6v1.6h-1.6zM115.5 1063.7h1.6v1.6h-1.6zM110.3 1090.9h1.6v1.6h-1.6zM128.4 1092.1h1.6v1.6h-1.6zM154.3 1081.8h1.6v1.6h-1.6zM144.4 1064.1h1.6v1.6h-1.6zM237.1 1131.3h1.6v1.6h-1.6zM137.1 1094.1h1.6v1.6h-1.6zM333.4 1083.7h1.6v1.6h-1.6zM209.8 1079.3h1.6v1.6h-1.6zM164.5 1103.9h1.6v1.6h-1.6zM270.4 1132.7h1.6v1.6h-1.6zM163.0 1112.3h1.6v1.6h-1.6zM252.9 1019.4h1.6v1.6h-1.6zM129.1 1101.2h1.6v1.6h-1.6zM163.8 1076.3h1.6v1.6h-1.6zM155.7 1091.9h1.6v1.6h-1.6zM139.7 1112.2h1.6v1.6h-1.6zM139.5 1094.4h1.6v1.6h-1.6zM366.4 1133.5h1.6v1.6h-1.6zM258.8 1122.4h1.6v1.6h-1.6zM250.3 1096.2h1.6v1.6h-1.6zM328.8 1064.6h1.6v1.6h-1.6zM297.9 1059.8h1.6v1.6h-1.6zM229.5 1101.0h1.6v1.6h-1.6zM112.2 1149.4h1.6v1.6h-1.6zM154.4 1109.0h1.6v1.6h-1.6zM182.4 1136.9h1.6v1.6h-1.6zM101.1 1143.7h1.6v1.6h-1.6zM150.3 1107.5h1.6v1.6h-1.6zM164.1 1071.7h1.6v1.6h-1.6zM301.3 1114.4h1.6v1.6h-1.6zM332.6 1034.4h1.6v1.6h-1.6zM289.1 1103.5h1.6v1.6h-1.6zM96.8 1124.6h1.6v1.6h-1.6zM262.0 1138.8h1.6v1.6h-1.6zM170.9 1099.7h1.6v1.6h-1.6zM371.9 1087.4h1.6v1.6h-1.6zM342.4 1068.7h1.6v1.6h-1.6zM218.5 1073.5h1.6v1.6h-1.6zM321.4 1130.5h1.6v1.6h-1.6zM188.2 1148.4h1.6v1.6h-1.6zM145.0 1084.0h1.6v1.6h-1.6zM116.3 1119.3h1.6v1.6h-1.6zM154.6 1123.1h1.6v1.6h-1.6zM179.9 994.5h1.6v1.6h-1.6zM183.6 1109.4h1.6v1.6h-1.6zM220.5 1146.3h1.6v1.6h-1.6zM187.4 1143.3h1.6v1.6h-1.6zM322.4 1106.9h1.6v1.6h-1.6zM339.0 1122.2h1.6v1.6h-1.6zM197.5 1106.7h1.6v1.6h-1.6zM276.4 1098.0h1.6v1.6h-1.6zM138.8 1121.8h1.6v1.6h-1.6zM200.9 1109.7h1.6v1.6h-1.6zM116.6 1111.5h1.6v1.6h-1.6zM273.8 1092.4h1.6v1.6h-1.6zM315.8 1135.8h1.6v1.6h-1.6zM206.4 1085.5h1.6v1.6h-1.6zM325.2 1089.2h1.6v1.6h-1.6zM238.0 1064.4h1.6v1.6h-1.6zM157.7 996.9h1.6v1.6h-1.6zM339.9 1085.2h1.6v1.6h-1.6zM128.2 1065.4h1.6v1.6h-1.6zM109.5 1099.9h1.6v1.6h-1.6zM121.7 1049.1h1.6v1.6h-1.6zM241.3 1070.8h1.6v1.6h-1.6zM99.0 1060.7h1.6v1.6h-1.6zM201.5 1141.7h1.6v1.6h-1.6zM304.9 990.9h1.6v1.6h-1.6zM108.4 1071.3h1.6v1.6h-1.6zM179.1 1117.3h1.6v1.6h-1.6zM304.6 1104.0h1.6v1.6h-1.6zM210.6 1102.5h1.6v1.6h-1.6zM150.0 1090.8h1.6v1.6h-1.6zM134.3 1034.4h1.6v1.6h-1.6zM240.8 1125.8h1.6v1.6h-1.6zM262.3 1142.7h1.6v1.6h-1.6zM140.0 1082.5h1.6v1.6h-1.6zM105.1 1089.6h1.6v1.6h-1.6zM216.3 1130.4h1.6v1.6h-1.6zM133.9 1098.0h1.6v1.6h-1.6zM144.3 1031.9h1.6v1.6h-1.6zM178.0 1053.1h1.6v1.6h-1.6zM201.6 1073.0h1.6v1.6h-1.6zM107.9 1134.9h1.6v1.6h-1.6zM174.9 1047.7h1.6v1.6h-1.6zM267.6 1130.4h1.6v1.6h-1.6zM284.5 1095.8h1.6v1.6h-1.6zM124.5 1136.7h1.6v1.6h-1.6zM144.2 1090.0h1.6v1.6h-1.6zM363.3 1070.6h1.6v1.6h-1.6zM99.8 1050.6h1.6v1.6h-1.6zM188.6 1067.1h1.6v1.6h-1.6zM149.5 1117.1h1.6v1.6h-1.6zM140.4 1116.7h1.6v1.6h-1.6zM139.8 1090.9h1.6v1.6h-1.6zM137.2 1052.0h1.6v1.6h-1.6zM316.8 1146.5h1.6v1.6h-1.6zM202.3 1074.0h1.6v1.6h-1.6zM137.2 1110.0h1.6v1.6h-1.6zM203.1 1084.4h1.6v1.6h-1.6zM95.8 1075.8h1.6v1.6h-1.6zM177.7 1106.7h1.6v1.6h-1.6zM97.2 1114.6h1.6v1.6h-1.6zM148.1 1128.3h1.6v1.6h-1.6zM170.8 1073.7h1.6v1.6h-1.6zM207.8 1095.5h1.6v1.6h-1.6zM386.2 1088.9h1.6v1.6h-1.6zM110.5 1124.5h1.6v1.6h-1.6zM233.7 1143.7h1.6v1.6h-1.6zM96.7 1099.8h1.6v1.6h-1.6zM159.4 1138.3h1.6v1.6h-1.6zM244.7 1099.6h1.6v1.6h-1.6zM166.7 1096.0h1.6v1.6h-1.6zM373.7 1128.2h1.6v1.6h-1.6zM122.7 1126.2h1.6v1.6h-1.6zM163.2 1130.4h1.6v1.6h-1.6zM219.7 1013.0h1.6v1.6h-1.6zM225.0 1114.8h1.6v1.6h-1.6zM288.6 1122.3h1.6v1.6h-1.6zM200.1 1076.0h1.6v1.6h-1.6zM291.7 1076.2h1.6v1.6h-1.6zM309.2 1147.8h1.6v1.6h-1.6zM331.0 1115.8h1.6v1.6h-1.6zM184.6 1064.0h1.6v1.6h-1.6zM128.7 1143.4h1.6v1.6h-1.6zM170.9 1124.4h1.6v1.6h-1.6zM134.6 1153.1h1.6v1.6h-1.6zM143.8 1062.3h1.6v1.6h-1.6zM96.3 1080.9h1.6v1.6h-1.6zM94.4 1081.6h1.6v1.6h-1.6zM177.4 1064.6h1.6v1.6h-1.6zM141.3 1147.4h1.6v1.6h-1.6zM248.6 1095.5h1.6v1.6h-1.6zM209.6 1150.9h1.6v1.6h-1.6zM190.7 1138.4h1.6v1.6h-1.6zM99.8 995.8h1.6v1.6h-1.6zM309.5 1081.7h1.6v1.6h-1.6zM292.7 1088.8h1.6v1.6h-1.6zM196.9 1048.3h1.6v1.6h-1.6zM159.6 1138.3h1.6v1.6h-1.6zM138.8 1121.7h1.6v1.6h-1.6zM168.3 1103.4h1.6v1.6h-1.6zM174.6 1127.0h1.6v1.6h-1.6zM222.2 1069.0h1.6v1.6h-1.6zM319.3 1107.0h1.6v1.6h-1.6zM183.5 1133.0h1.6v1.6h-1.6zM336.2 1152.8h1.6v1.6h-1.6zM196.6 1097.6h1.6v1.6h-1.6zM113.4 1129.9h1.6v1.6h-1.6zM149.9 995.0h1.6v1.6h-1.6zM207.7 1106.8h1.6v1.6h-1.6zM150.1 1111.4h1.6v1.6h-1.6zM286.0 1079.9h1.6v1.6h-1.6zM231.4 1142.0h1.6v1.6h-1.6zM250.0 1100.5h1.6v1.6h-1.6zM195.4 1130.4h1.6v1.6h-1.6zM256.0 1132.6h1.6v1.6h-1.6zM185.5 1082.7h1.6v1.6h-1.6zM236.2 1082.0h1.6v1.6h-1.6zM314.5 1141.4h1.6v1.6h-1.6zM191.7 1121.9h1.6v1.6h-1.6zM185.8 1110.4h1.6v1.6h-1.6zM211.9 1074.8h1.6v1.6h-1.6zM192.9 1033.0h1.6v1.6h-1.6zM194.1 1084.1h1.6v1.6h-1.6zM137.7 1154.1h1.6v1.6h-1.6zM349.3 1071.5h1.6v1.6h-1.6zM144.9 1155.5h1.6v1.6h-1.6zM310.8 1107.7h1.6v1.6h-1.6zM102.0 1121.1h1.6v1.6h-1.6zM287.5 1043.8h1.6v1.6h-1.6zM303.7 986.3h1.6v1.6h-1.6zM132.0 1064.3h1.6v1.6h-1.6zM163.3 1104.4h1.6v1.6h-1.6zM141.6 1126.7h1.6v1.6h-1.6zM322.6 1085.2h1.6v1.6h-1.6zM99.6 1064.3h1.6v1.6h-1.6zM342.3 995.2h1.6v1.6h-1.6zM113.3 1007.9h1.6v1.6h-1.6zM175.7 1125.3h1.6v1.6h-1.6zM123.3 1087.5h1.6v1.6h-1.6zM210.1 1012.0h1.6v1.6h-1.6zM118.9 1080.4h1.6v1.6h-1.6zM351.1 1047.6h1.6v1.6h-1.6zM248.7 1073.4h1.6v1.6h-1.6zM114.3 1059.0h1.6v1.6h-1.6zM246.2 1072.2h1.6v1.6h-1.6zM162.8 1055.0h1.6v1.6h-1.6zM96.5 1136.6h1.6v1.6h-1.6zM121.6 1142.2h1.6v1.6h-1.6zM125.4 1081.3h1.6v1.6h-1.6zM134.6 1131.0h1.6v1.6h-1.6zM131.7 1154.5h1.6v1.6h-1.6zM329.7 1119.0h1.6v1.6h-1.6zM152.0 1051.2h1.6v1.6h-1.6zM114.1 1152.4h1.6v1.6h-1.6zM290.8 1115.9h1.6v1.6h-1.6zM146.3 1109.7h1.6v1.6h-1.6zM252.7 1072.8h1.6v1.6h-1.6zM249.5 1088.4h1.6v1.6h-1.6zM194.0 1137.4h1.6v1.6h-1.6zM298.7 1069.8h1.6v1.6h-1.6zM225.2 1116.5h1.6v1.6h-1.6zM337.5 1104.4h1.6v1.6h-1.6zM96.7 1056.4h1.6v1.6h-1.6zM174.8 1108.4h1.6v1.6h-1.6zM153.5 1126.1h1.6v1.6h-1.6zM201.2 1089.5h1.6v1.6h-1.6zM366.7 1090.8h1.6v1.6h-1.6zM128.6 1052.7h1.6v1.6h-1.6zM250.1 1080.8h1.6v1.6h-1.6zM119.3 1083.4h1.6v1.6h-1.6zM96.7 1135.0h1.6v1.6h-1.6zM132.7 1077.0h1.6v1.6h-1.6zM155.7 1063.9h1.6v1.6h-1.6zM109.7 1090.5h1.6v1.6h-1.6zM346.8 1122.3h1.6v1.6h-1.6zM200.9 1101.7h1.6v1.6h-1.6zM95.2 1138.0h1.6v1.6h-1.6zM206.2 1063.3h1.6v1.6h-1.6zM206.3 1144.5h1.6v1.6h-1.6zM238.4 1072.6h1.6v1.6h-1.6zM123.3 1126.6h1.6v1.6h-1.6zM116.0 1157.8h1.6v1.6h-1.6zM150.5 1071.9h1.6v1.6h-1.6zM281.1 1110.4h1.6v1.6h-1.6zM191.3 1066.2h1.6v1.6h-1.6zM101.5 1092.6h1.6v1.6h-1.6zM385.8 1101.2h1.6v1.6h-1.6zM157.7 1101.4h1.6v1.6h-1.6zM258.8 1046.2h1.6v1.6h-1.6zM196.4 1110.4h1.6v1.6h-1.6zM118.1 1125.5h1.6v1.6h-1.6zM208.1 1103.8h1.6v1.6h-1.6zM353.5 1098.8h1.6v1.6h-1.6zM213.7 1156.7h1.6v1.6h-1.6zM108.3 1034.0h1.6v1.6h-1.6zM197.0 1095.9h1.6v1.6h-1.6zM104.3 1076.8h1.6v1.6h-1.6zM173.7 1119.5h1.6v1.6h-1.6zM327.0 1101.0h1.6v1.6h-1.6zM257.5 1146.3h1.6v1.6h-1.6zM362.1 1139.7h1.6v1.6h-1.6zM161.3 1129.4h1.6v1.6h-1.6zM109.6 1091.7h1.6v1.6h-1.6zM166.5 1081.0h1.6v1.6h-1.6zM165.9 1091.7h1.6v1.6h-1.6zM216.1 1090.8h1.6v1.6h-1.6zM145.7 1097.4h1.6v1.6h-1.6zM263.4 1119.3h1.6v1.6h-1.6zM286.3 1119.9h1.6v1.6h-1.6zM270.5 1043.4h1.6v1.6h-1.6zM303.7 1073.4h1.6v1.6h-1.6zM195.1 1114.0h1.6v1.6h-1.6zM253.0 1046.3h1.6v1.6h-1.6zM143.9 1095.5h1.6v1.6h-1.6zM201.5 1025.5h1.6v1.6h-1.6zM112.8 1040.8h1.6v1.6h-1.6zM143.0 1120.9h1.6v1.6h-1.6zM208.7 1106.4h1.6v1.6h-1.6zM224.4 1143.2h1.6v1.6h-1.6zM191.1 1089.8h1.6v1.6h-1.6zM138.5 1147.8h1.6v1.6h-1.6zM150.2 1133.9h1.6v1.6h-1.6zM94.6 1082.4h1.6v1.6h-1.6zM106.5 1036.7h1.6v1.6h-1.6zM121.6 1041.5h1.6v1.6h-1.6zM138.4 1054.2h1.6v1.6h-1.6zM105.2 1069.8h1.6v1.6h-1.6zM233.5 1132.2h1.6v1.6h-1.6zM195.2 1124.1h1.6v1.6h-1.6zM140.8 1092.5h1.6v1.6h-1.6zM178.6 1093.4h1.6v1.6h-1.6zM231.3 1045.8h1.6v1.6h-1.6zM100.7 1123.9h1.6v1.6h-1.6zM152.7 1093.9h1.6v1.6h-1.6zM176.2 1056.1h1.6v1.6h-1.6zM306.9 1081.8h1.6v1.6h-1.6zM376.6 1093.8h1.6v1.6h-1.6zM211.3 1025.4h1.6v1.6h-1.6zM272.9 1141.2h1.6v1.6h-1.6zM269.0 1072.6h1.6v1.6h-1.6zM274.9 1083.8h1.6v1.6h-1.6zM210.2 1110.4h1.6v1.6h-1.6zM307.6 1067.2h1.6v1.6h-1.6zM150.0 1129.5h1.6v1.6h-1.6zM141.5 1128.3h1.6v1.6h-1.6zM263.9 1117.3h1.6v1.6h-1.6zM126.2 1086.3h1.6v1.6h-1.6zM213.6 1030.3h1.6v1.6h-1.6zM314.7 1116.1h1.6v1.6h-1.6zM98.9 1150.6h1.6v1.6h-1.6zM138.1 1132.3h1.6v1.6h-1.6zM101.9 1093.4h1.6v1.6h-1.6zM178.1 1138.6h1.6v1.6h-1.6zM291.1 1148.2h1.6v1.6h-1.6zM130.3 1035.2h1.6v1.6h-1.6zM324.6 1142.0h1.6v1.6h-1.6zM172.5 1100.4h1.6v1.6h-1.6zM340.2 1086.0h1.6v1.6h-1.6zM184.9 1034.4h1.6v1.6h-1.6zM193.3 1116.6h1.6v1.6h-1.6zM248.6 1116.7h1.6v1.6h-1.6zM346.3 1094.9h1.6v1.6h-1.6zM108.5 1073.7h1.6v1.6h-1.6zM248.6 1148.4h1.6v1.6h-1.6zM104.1 1093.6h1.6v1.6h-1.6zM260.1 1042.5h1.6v1.6h-1.6zM248.3 1058.1h1.6v1.6h-1.6zM147.5 1120.3h1.6v1.6h-1.6zM103.7 1079.8h1.6v1.6h-1.6zM141.3 1092.8h1.6v1.6h-1.6zM154.9 1105.6h1.6v1.6h-1.6zM163.4 1143.4h1.6v1.6h-1.6zM327.7 1098.7h1.6v1.6h-1.6zM157.4 1031.0h1.6v1.6h-1.6zM206.0 1114.6h1.6v1.6h-1.6zM166.1 1125.1h1.6v1.6h-1.6zM182.7 1109.7h1.6v1.6h-1.6zM208.3 1032.1h1.6v1.6h-1.6zM159.5 1077.4h1.6v1.6h-1.6zM115.0 1115.3h1.6v1.6h-1.6zM190.1 1065.5h1.6v1.6h-1.6zM140.5 1087.4h1.6v1.6h-1.6zM153.1 1089.5h1.6v1.6h-1.6zM356.3 1106.5h1.6v1.6h-1.6zM169.4 1030.1h1.6v1.6h-1.6zM98.8 992.1h1.6v1.6h-1.6zM282.3 1097.0h1.6v1.6h-1.6zM211.4 1092.5h1.6v1.6h-1.6zM116.2 1002.2h1.6v1.6h-1.6zM248.0 1112.3h1.6v1.6h-1.6zM144.9 1087.9h1.6v1.6h-1.6zM144.7 1122.8h1.6v1.6h-1.6zM304.1 1054.8h1.6v1.6h-1.6zM110.7 1095.1h1.6v1.6h-1.6zM168.4 1094.1h1.6v1.6h-1.6zM312.1 1076.8h1.6v1.6h-1.6zM105.4 1153.6h1.6v1.6h-1.6zM93.4 1022.6h1.6v1.6h-1.6zM95.5 1122.3h1.6v1.6h-1.6zM98.7 1102.7h1.6v1.6h-1.6zM225.1 1082.8h1.6v1.6h-1.6zM121.7 1029.1h1.6v1.6h-1.6zM214.4 1122.6h1.6v1.6h-1.6zM272.3 1134.7h1.6v1.6h-1.6zM114.3 1128.2h1.6v1.6h-1.6zM161.7 1122.1h1.6v1.6h-1.6zM310.3 1066.5h1.6v1.6h-1.6zM154.1 1055.4h1.6v1.6h-1.6zM109.3 1141.6h1.6v1.6h-1.6zM93.4 1046.4h1.6v1.6h-1.6zM95.4 1030.8h1.6v1.6h-1.6zM316.1 1131.8h1.6v1.6h-1.6zM236.4 1101.2h1.6v1.6h-1.6zM370.1 1093.6h1.6v1.6h-1.6zM169.6 1120.1h1.6v1.6h-1.6zM170.4 1090.1h1.6v1.6h-1.6zM252.0 1073.5h1.6v1.6h-1.6zM102.8 1057.4h1.6v1.6h-1.6zM332.8 1081.6h1.6v1.6h-1.6zM216.4 1140.9h1.6v1.6h-1.6zM338.7 1079.2h1.6v1.6h-1.6zM320.9 1013.5h1.6v1.6h-1.6zM172.1 1084.8h1.6v1.6h-1.6zM319.7 1100.1h1.6v1.6h-1.6zM130.1 1071.5h1.6v1.6h-1.6zM124.0 1136.1h1.6v1.6h-1.6zM198.1 1033.0h1.6v1.6h-1.6zM154.4 1138.0h1.6v1.6h-1.6zM108.1 1157.9h1.6v1.6h-1.6zM160.3 1136.2h1.6v1.6h-1.6zM150.6 1035.5h1.6v1.6h-1.6zM385.7 1047.1h1.6v1.6h-1.6zM326.6 1126.0h1.6v1.6h-1.6zM139.5 1065.5h1.6v1.6h-1.6zM166.6 1148.8h1.6v1.6h-1.6zM322.0 1112.8h1.6v1.6h-1.6zM101.2 1062.5h1.6v1.6h-1.6zM93.1 1089.5h1.6v1.6h-1.6zM300.5 1067.7h1.6v1.6h-1.6zM163.1 1079.4h1.6v1.6h-1.6zM188.7 1017.5h1.6v1.6h-1.6zM176.6 1032.0h1.6v1.6h-1.6zM364.0 1092.5h1.6v1.6h-1.6zM241.9 1114.5h1.6v1.6h-1.6zM148.0 1143.6h1.6v1.6h-1.6zM231.7 1020.1h1.6v1.6h-1.6zM108.3 1147.2h1.6v1.6h-1.6zM163.2 1079.6h1.6v1.6h-1.6zM344.5 1098.5h1.6v1.6h-1.6zM250.2 1028.9h1.6v1.6h-1.6zM285.2 1045.1h1.6v1.6h-1.6zM283.7 1074.2h1.6v1.6h-1.6zM246.8 1075.8h1.6v1.6h-1.6zM116.6 1086.8h1.6v1.6h-1.6zM158.4 1068.9h1.6v1.6h-1.6zM94.8 1153.3h1.6v1.6h-1.6zM346.2 1122.5h1.6v1.6h-1.6zM150.9 1090.9h1.6v1.6h-1.6zM98.4 1049.9h1.6v1.6h-1.6zM92.6 1150.5h1.6v1.6h-1.6zM297.5 1100.6h1.6v1.6h-1.6zM114.8 1115.2h1.6v1.6h-1.6zM324.8 1112.9h1.6v1.6h-1.6zM117.1 1071.2h1.6v1.6h-1.6zM133.3 1151.2h1.6v1.6h-1.6zM340.0 1090.3h1.6v1.6h-1.6zM236.9 1149.7h1.6v1.6h-1.6zM238.3 1148.5h1.6v1.6h-1.6zM250.0 1121.6h1.6v1.6h-1.6zM109.3 1093.2h1.6v1.6h-1.6zM254.2 1130.3h1.6v1.6h-1.6zM292.6 1053.9h1.6v1.6h-1.6zM259.8 1076.2h1.6v1.6h-1.6zM355.1 1127.0h1.6v1.6h-1.6zM202.6 1138.3h1.6v1.6h-1.6zM246.8 1006.1h1.6v1.6h-1.6zM233.5 1075.8h1.6v1.6h-1.6zM178.1 1038.9h1.6v1.6h-1.6zM217.8 1105.7h1.6v1.6h-1.6zM203.0 1026.9h1.6v1.6h-1.6zM212.5 1024.7h1.6v1.6h-1.6zM188.3 1128.4h1.6v1.6h-1.6zM216.7 1144.7h1.6v1.6h-1.6zM220.6 1132.9h1.6v1.6h-1.6zM156.7 1083.6h1.6v1.6h-1.6zM128.8 1085.5h1.6v1.6h-1.6zM190.7 1101.0h1.6v1.6h-1.6zM183.7 1133.8h1.6v1.6h-1.6zM161.9 1087.4h1.6v1.6h-1.6zM153.2 1079.2h1.6v1.6h-1.6zM124.5 1139.7h1.6v1.6h-1.6zM268.1 1018.4h1.6v1.6h-1.6zM107.9 1098.5h1.6v1.6h-1.6zM156.9 996.6h1.6v1.6h-1.6zM148.2 1128.4h1.6v1.6h-1.6zM188.0 1056.7h1.6v1.6h-1.6zM155.5 1083.2h1.6v1.6h-1.6zM107.9 1024.0h1.6v1.6h-1.6zM161.4 1138.6h1.6v1.6h-1.6zM321.3 1097.8h1.6v1.6h-1.6zM113.9 1122.6h1.6v1.6h-1.6zM297.7 1067.0h1.6v1.6h-1.6zM98.0 1123.2h1.6v1.6h-1.6zM273.5 1120.8h1.6v1.6h-1.6zM152.1 1120.8h1.6v1.6h-1.6zM126.2 1124.3h1.6v1.6h-1.6zM235.6 1112.6h1.6v1.6h-1.6zM232.2 1087.6h1.6v1.6h-1.6zM284.3 1101.0h1.6v1.6h-1.6zM287.1 1085.6h1.6v1.6h-1.6zM133.7 1113.8h1.6v1.6h-1.6zM264.0 1154.4h1.6v1.6h-1.6zM118.1 1083.4h1.6v1.6h-1.6zM239.7 1114.3h1.6v1.6h-1.6zM204.7 1145.8h1.6v1.6h-1.6zM138.7 1151.4h1.6v1.6h-1.6zM285.6 1089.7h1.6v1.6h-1.6zM337.9 1090.1h1.6v1.6h-1.6zM102.3 1081.6h1.6v1.6h-1.6zM189.1 1136.2h1.6v1.6h-1.6zM373.6 1117.1h1.6v1.6h-1.6zM147.1 1152.9h1.6v1.6h-1.6zM368.2 1116.4h1.6v1.6h-1.6zM289.4 1083.4h1.6v1.6h-1.6zM252.3 1097.9h1.6v1.6h-1.6zM212.8 1059.1h1.6v1.6h-1.6zM205.1 1094.6h1.6v1.6h-1.6zM310.7 1101.1h1.6v1.6h-1.6zM192.2 1095.1h1.6v1.6h-1.6zM104.4 1119.4h1.6v1.6h-1.6zM164.5 1100.1h1.6v1.6h-1.6zM136.5 1115.7h1.6v1.6h-1.6zM122.7 1045.3h1.6v1.6h-1.6zM170.5 1128.4h1.6v1.6h-1.6zM195.2 1084.1h1.6v1.6h-1.6zM118.7 1085.9h1.6v1.6h-1.6zM146.8 1089.1h1.6v1.6h-1.6zM164.5 1038.1h1.6v1.6h-1.6zM139.6 1122.4h1.6v1.6h-1.6zM167.5 1040.7h1.6v1.6h-1.6zM365.5 1114.0h1.6v1.6h-1.6zM328.8 1052.1h1.6v1.6h-1.6zM190.2 1135.4h1.6v1.6h-1.6zM130.9 1076.9h1.6v1.6h-1.6zM265.3 1134.0h1.6v1.6h-1.6zM134.2 1078.2h1.6v1.6h-1.6zM137.8 1134.5h1.6v1.6h-1.6zM178.8 1068.1h1.6v1.6h-1.6zM360.0 1111.3h1.6v1.6h-1.6zM187.3 1091.1h1.6v1.6h-1.6zM212.6 1096.1h1.6v1.6h-1.6zM214.8 1139.3h1.6v1.6h-1.6zM279.2 1083.0h1.6v1.6h-1.6zM320.6 1137.4h1.6v1.6h-1.6zM236.9 1075.4h1.6v1.6h-1.6zM133.1 984.9h1.6v1.6h-1.6zM169.7 1065.2h1.6v1.6h-1.6zM223.3 1137.5h1.6v1.6h-1.6zM97.7 1127.5h1.6v1.6h-1.6zM182.7 1135.6h1.6v1.6h-1.6zM163.8 1111.9h1.6v1.6h-1.6zM146.6 1133.4h1.6v1.6h-1.6zM126.3 1026.3h1.6v1.6h-1.6zM256.3 1121.8h1.6v1.6h-1.6zM110.9 1058.4h1.6v1.6h-1.6zM125.9 1039.2h1.6v1.6h-1.6zM145.0 1032.1h1.6v1.6h-1.6zM205.3 1100.1h1.6v1.6h-1.6zM367.4 1088.6h1.6v1.6h-1.6zM130.2 1137.6h1.6v1.6h-1.6zM111.9 1065.8h1.6v1.6h-1.6zM153.4 1002.2h1.6v1.6h-1.6zM214.4 1134.9h1.6v1.6h-1.6zM206.7 1087.0h1.6v1.6h-1.6zM206.1 1095.0h1.6v1.6h-1.6zM110.4 1150.3h1.6v1.6h-1.6zM106.1 1112.9h1.6v1.6h-1.6zM113.4 1098.9h1.6v1.6h-1.6zM186.6 1125.7h1.6v1.6h-1.6zM263.7 1068.4h1.6v1.6h-1.6zM305.0 1130.3h1.6v1.6h-1.6zM255.3 1139.7h1.6v1.6h-1.6zM284.8 1069.9h1.6v1.6h-1.6zM184.2 1103.2h1.6v1.6h-1.6zM377.6 1124.1h1.6v1.6h-1.6zM165.0 1081.8h1.6v1.6h-1.6zM122.0 1105.3h1.6v1.6h-1.6zM170.4 1115.4h1.6v1.6h-1.6zM171.3 1076.9h1.6v1.6h-1.6zM309.0 1045.4h1.6v1.6h-1.6zM256.7 1127.2h1.6v1.6h-1.6zM93.4 1137.5h1.6v1.6h-1.6zM128.0 1146.3h1.6v1.6h-1.6zM283.6 1076.0h1.6v1.6h-1.6zM362.4 1118.8h1.6v1.6h-1.6zM129.0 1138.5h1.6v1.6h-1.6zM114.1 1085.1h1.6v1.6h-1.6zM327.9 1082.1h1.6v1.6h-1.6zM203.7 1142.4h1.6v1.6h-1.6zM272.1 1110.7h1.6v1.6h-1.6zM297.9 1081.3h1.6v1.6h-1.6zM107.3 1016.5h1.6v1.6h-1.6zM276.3 1075.5h1.6v1.6h-1.6zM137.8 1095.7h1.6v1.6h-1.6zM347.8 1149.4h1.6v1.6h-1.6zM273.8 1078.0h1.6v1.6h-1.6zM248.9 1115.5h1.6v1.6h-1.6zM362.9 1124.1h1.6v1.6h-1.6zM154.7 1059.8h1.6v1.6h-1.6zM223.9 1155.4h1.6v1.6h-1.6zM154.7 1073.8h1.6v1.6h-1.6zM120.1 1096.0h1.6v1.6h-1.6zM119.3 1086.0h1.6v1.6h-1.6zM250.4 1126.7h1.6v1.6h-1.6zM366.0 1078.1h1.6v1.6h-1.6zM158.9 1130.4h1.6v1.6h-1.6zM310.5 1106.7h1.6v1.6h-1.6zM275.9 1150.6h1.6v1.6h-1.6zM171.2 1066.3h1.6v1.6h-1.6zM209.1 1097.0h1.6v1.6h-1.6zM210.7 1108.8h1.6v1.6h-1.6zM317.8 1146.4h1.6v1.6h-1.6zM148.6 1092.4h1.6v1.6h-1.6zM261.9 1148.7h1.6v1.6h-1.6zM247.3 1038.4h1.6v1.6h-1.6zM345.2 1054.9h1.6v1.6h-1.6zM296.2 1082.6h1.6v1.6h-1.6zM115.6 1114.2h1.6v1.6h-1.6zM324.6 1127.1h1.6v1.6h-1.6zM253.7 1079.2h1.6v1.6h-1.6zM104.9 987.7h1.6v1.6h-1.6zM94.2 1120.7h1.6v1.6h-1.6zM115.2 1052.8h1.6v1.6h-1.6zM364.9 1135.4h1.6v1.6h-1.6zM282.7 1033.5h1.6v1.6h-1.6zM111.8 1046.9h1.6v1.6h-1.6zM130.3 1026.9h1.6v1.6h-1.6zM132.6 1136.8h1.6v1.6h-1.6zM202.6 1137.4h1.6v1.6h-1.6zM208.1 1040.3h1.6v1.6h-1.6zM275.7 1048.0h1.6v1.6h-1.6zM157.7 1140.7h1.6v1.6h-1.6zM305.9 1064.5h1.6v1.6h-1.6zM152.2 1106.0h1.6v1.6h-1.6zM222.6 1048.3h1.6v1.6h-1.6zM123.6 1133.0h1.6v1.6h-1.6zM197.3 1117.6h1.6v1.6h-1.6zM177.8 1087.2h1.6v1.6h-1.6zM387.0 1130.9h1.6v1.6h-1.6zM157.4 1080.2h1.6v1.6h-1.6zM124.9 1079.2h1.6v1.6h-1.6zM209.8 1112.8h1.6v1.6h-1.6zM223.4 1108.2h1.6v1.6h-1.6zM126.4 1083.0h1.6v1.6h-1.6zM246.6 1135.0h1.6v1.6h-1.6zM290.6 1112.6h1.6v1.6h-1.6zM347.5 1110.7h1.6v1.6h-1.6zM201.9 1141.8h1.6v1.6h-1.6zM299.2 1105.6h1.6v1.6h-1.6zM134.8 1128.0h1.6v1.6h-1.6zM103.3 1092.8h1.6v1.6h-1.6zM176.3 1054.4h1.6v1.6h-1.6zM128.2 1065.5h1.6v1.6h-1.6zM233.8 1084.7h1.6v1.6h-1.6zM303.5 1107.9h1.6v1.6h-1.6zM126.0 1101.1h1.6v1.6h-1.6zM161.4 1124.7h1.6v1.6h-1.6zM372.2 1138.0h1.6v1.6h-1.6zM177.5 1136.9h1.6v1.6h-1.6zM351.2 1095.2h1.6v1.6h-1.6zM149.5 1058.0h1.6v1.6h-1.6zM137.1 1096.1h1.6v1.6h-1.6zM149.5 1104.7h1.6v1.6h-1.6zM158.8 1075.7h1.6v1.6h-1.6zM230.4 1101.0h1.6v1.6h-1.6zM118.3 1071.2h1.6v1.6h-1.6zM113.3 1102.4h1.6v1.6h-1.6zM106.4 1068.8h1.6v1.6h-1.6zM118.1 1046.3h1.6v1.6h-1.6zM274.1 1012.1h1.6v1.6h-1.6zM380.8 1076.5h1.6v1.6h-1.6zM184.6 1084.8h1.6v1.6h-1.6zM273.5 1068.7h1.6v1.6h-1.6zM113.9 1105.9h1.6v1.6h-1.6zM199.2 1132.9h1.6v1.6h-1.6zM211.6 1080.9h1.6v1.6h-1.6zM146.7 1099.4h1.6v1.6h-1.6zM232.0 1035.7h1.6v1.6h-1.6zM112.9 1034.2h1.6v1.6h-1.6zM111.8 1125.4h1.6v1.6h-1.6zM256.7 1002.5h1.6v1.6h-1.6zM238.3 1084.9h1.6v1.6h-1.6zM303.5 1084.7h1.6v1.6h-1.6zM191.4 1135.2h1.6v1.6h-1.6zM137.2 1138.8h1.6v1.6h-1.6zM97.5 1046.8h1.6v1.6h-1.6zM161.9 1004.6h1.6v1.6h-1.6zM281.6 1019.4h1.6v1.6h-1.6zM136.3 1082.2h1.6v1.6h-1.6zM246.9 1143.8h1.6v1.6h-1.6zM136.1 1157.1h1.6v1.6h-1.6zM288.1 1081.5h1.6v1.6h-1.6zM135.3 1092.4h1.6v1.6h-1.6zM92.2 988.0h1.6v1.6h-1.6zM117.0 1091.3h1.6v1.6h-1.6zM251.7 1087.4h1.6v1.6h-1.6zM324.5 989.5h1.6v1.6h-1.6zM195.3 1133.4h1.6v1.6h-1.6zM322.3 1113.0h1.6v1.6h-1.6zM110.9 990.1h1.6v1.6h-1.6zM272.4 1117.6h1.6v1.6h-1.6zM296.5 1139.6h1.6v1.6h-1.6zM164.6 1103.7h1.6v1.6h-1.6zM231.5 1054.4h1.6v1.6h-1.6zM128.6 1064.8h1.6v1.6h-1.6zM262.4 1057.0h1.6v1.6h-1.6zM266.3 1125.7h1.6v1.6h-1.6zM310.3 1123.5h1.6v1.6h-1.6zM259.4 991.5h1.6v1.6h-1.6zM305.2 1085.7h1.6v1.6h-1.6zM127.8 1117.0h1.6v1.6h-1.6zM147.7 1009.3h1.6v1.6h-1.6zM288.0 1133.5h1.6v1.6h-1.6zM211.6 1123.6h1.6v1.6h-1.6zM121.0 1139.2h1.6v1.6h-1.6zM177.9 1078.3h1.6v1.6h-1.6zM153.3 1063.6h1.6v1.6h-1.6zM104.3 1094.9h1.6v1.6h-1.6zM187.5 1032.0h1.6v1.6h-1.6zM240.4 1082.1h1.6v1.6h-1.6zM250.0 1075.8h1.6v1.6h-1.6zM108.0 1050.9h1.6v1.6h-1.6zM315.7 1140.2h1.6v1.6h-1.6zM305.8 1076.7h1.6v1.6h-1.6zM202.8 1023.0h1.6v1.6h-1.6zM123.2 1121.7h1.6v1.6h-1.6zM271.0 1081.0h1.6v1.6h-1.6zM169.6 991.1h1.6v1.6h-1.6zM169.5 1099.0h1.6v1.6h-1.6zM320.7 1100.6h1.6v1.6h-1.6zM139.9 1152.6h1.6v1.6h-1.6zM293.9 1137.9h1.6v1.6h-1.6zM185.5 1107.3h1.6v1.6h-1.6zM250.8 1030.5h1.6v1.6h-1.6zM135.9 1052.3h1.6v1.6h-1.6zM319.7 1074.3h1.6v1.6h-1.6zM182.1 1030.6h1.6v1.6h-1.6zM97.3 1123.3h1.6v1.6h-1.6zM148.6 1153.9h1.6v1.6h-1.6zM260.6 1134.1h1.6v1.6h-1.6zM158.9 1117.0h1.6v1.6h-1.6zM249.6 1137.8h1.6v1.6h-1.6zM226.2 1108.6h1.6v1.6h-1.6zM128.5 1131.6h1.6v1.6h-1.6zM248.6 1111.3h1.6v1.6h-1.6zM106.7 1099.5h1.6v1.6h-1.6zM372.5 1121.9h1.6v1.6h-1.6zM181.7 1028.7h1.6v1.6h-1.6zM178.7 1133.4h1.6v1.6h-1.6zM231.5 997.4h1.6v1.6h-1.6zM98.2 1066.2h1.6v1.6h-1.6zM93.1 1105.4h1.6v1.6h-1.6zM262.9 1078.5h1.6v1.6h-1.6zM248.3 1107.7h1.6v1.6h-1.6zM94.8 1077.8h1.6v1.6h-1.6zM182.9 1071.0h1.6v1.6h-1.6zM119.7 1074.4h1.6v1.6h-1.6zM98.0 1046.1h1.6v1.6h-1.6zM300.3 1116.2h1.6v1.6h-1.6zM233.2 1113.3h1.6v1.6h-1.6zM231.1 1128.5h1.6v1.6h-1.6zM96.5 1063.0h1.6v1.6h-1.6zM115.6 1051.2h1.6v1.6h-1.6zM97.1 1088.9h1.6v1.6h-1.6zM209.4 1147.2h1.6v1.6h-1.6zM103.2 1109.3h1.6v1.6h-1.6zM384.2 1098.9h1.6v1.6h-1.6zM224.4 1027.7h1.6v1.6h-1.6zM133.3 1123.8h1.6v1.6h-1.6zM304.3 1132.9h1.6v1.6h-1.6zM96.7 1062.8h1.6v1.6h-1.6zM218.9 1082.3h1.6v1.6h-1.6zM187.1 1144.0h1.6v1.6h-1.6zM170.2 1073.8h1.6v1.6h-1.6zM115.9 1140.6h1.6v1.6h-1.6zM364.2 1127.8h1.6v1.6h-1.6zM343.0 1121.2h1.6v1.6h-1.6zM151.0 1094.1h1.6v1.6h-1.6zM194.2 1104.6h1.6v1.6h-1.6zM155.5 1092.2h1.6v1.6h-1.6zM110.3 1138.2h1.6v1.6h-1.6zM136.6 1124.4h1.6v1.6h-1.6zM361.5 1072.2h1.6v1.6h-1.6zM164.6 1112.7h1.6v1.6h-1.6zM372.3 1150.5h1.6v1.6h-1.6zM105.4 1124.0h1.6v1.6h-1.6zM147.8 1090.9h1.6v1.6h-1.6zM351.5 1081.2h1.6v1.6h-1.6zM128.9 1118.6h1.6v1.6h-1.6zM341.4 1081.7h1.6v1.6h-1.6zM189.4 1098.9h1.6v1.6h-1.6zM343.3 1138.7h1.6v1.6h-1.6zM113.7 1081.1h1.6v1.6h-1.6zM162.0 1092.8h1.6v1.6h-1.6zM327.7 1088.1h1.6v1.6h-1.6zM212.0 1073.6h1.6v1.6h-1.6zM145.8 1157.5h1.6v1.6h-1.6zM139.4 1116.0h1.6v1.6h-1.6zM109.5 1050.8h1.6v1.6h-1.6zM228.9 1140.9h1.6v1.6h-1.6zM125.6 999.2h1.6v1.6h-1.6zM142.4 1106.7h1.6v1.6h-1.6zM223.5 1043.6h1.6v1.6h-1.6zM98.2 1087.4h1.6v1.6h-1.6zM129.8 1127.1h1.6v1.6h-1.6zM149.9 1003.8h1.6v1.6h-1.6zM346.5 1101.2h1.6v1.6h-1.6zM105.5 1095.3h1.6v1.6h-1.6zM256.3 1110.0h1.6v1.6h-1.6zM145.3 1116.1h1.6v1.6h-1.6zM240.7 1146.5h1.6v1.6h-1.6zM204.6 1092.8h1.6v1.6h-1.6zM241.3 1052.2h1.6v1.6h-1.6zM228.9 1077.4h1.6v1.6h-1.6zM171.2 1057.4h1.6v1.6h-1.6zM183.2 1141.9h1.6v1.6h-1.6zM363.3 1134.5h1.6v1.6h-1.6zM126.0 1010.6h1.6v1.6h-1.6zM113.9 1145.0h1.6v1.6h-1.6zM131.4 1155.6h1.6v1.6h-1.6zM104.3 1087.1h1.6v1.6h-1.6zM209.0 1137.4h1.6v1.6h-1.6zM276.9 1138.4h1.6v1.6h-1.6zM220.9 1108.4h1.6v1.6h-1.6zM162.3 1110.3h1.6v1.6h-1.6zM154.7 1103.9h1.6v1.6h-1.6zM171.5 1040.6h1.6v1.6h-1.6zM357.9 1073.7h1.6v1.6h-1.6zM200.4 1114.4h1.6v1.6h-1.6zM212.4 1135.2h1.6v1.6h-1.6zM188.9 1078.9h1.6v1.6h-1.6zM109.1 1096.6h1.6v1.6h-1.6zM122.5 1134.4h1.6v1.6h-1.6zM129.9 1018.7h1.6v1.6h-1.6zM126.2 1073.9h1.6v1.6h-1.6zM160.2 1009.4h1.6v1.6h-1.6zM136.8 1113.5h1.6v1.6h-1.6zM103.4 1109.1h1.6v1.6h-1.6zM128.7 1073.7h1.6v1.6h-1.6zM220.1 1035.7h1.6v1.6h-1.6zM253.2 1087.2h1.6v1.6h-1.6zM200.6 1111.5h1.6v1.6h-1.6zM108.3 1085.9h1.6v1.6h-1.6zM126.4 1126.2h1.6v1.6h-1.6zM107.8 1114.4h1.6v1.6h-1.6zM298.1 1095.4h1.6v1.6h-1.6zM97.9 1070.0h1.6v1.6h-1.6zM309.9 1113.1h1.6v1.6h-1.6zM146.0 1130.3h1.6v1.6h-1.6zM206.2 1120.0h1.6v1.6h-1.6zM146.4 1080.4h1.6v1.6h-1.6zM95.0 1110.0h1.6v1.6h-1.6zM111.6 1112.0h1.6v1.6h-1.6zM209.6 1082.2h1.6v1.6h-1.6zM217.7 1134.0h1.6v1.6h-1.6zM215.6 1130.9h1.6v1.6h-1.6zM101.4 1129.9h1.6v1.6h-1.6zM306.1 1081.7h1.6v1.6h-1.6zM162.6 1088.8h1.6v1.6h-1.6zM319.7 1102.3h1.6v1.6h-1.6zM187.3 1101.8h1.6v1.6h-1.6zM150.5 1133.9h1.6v1.6h-1.6zM329.2 1103.4h1.6v1.6h-1.6zM218.0 1121.5h1.6v1.6h-1.6zM197.4 1091.7h1.6v1.6h-1.6zM101.7 1084.0h1.6v1.6h-1.6zM147.8 1124.1h1.6v1.6h-1.6zM222.1 1070.4h1.6v1.6h-1.6zM101.5 1100.6h1.6v1.6h-1.6zM161.2 1101.0h1.6v1.6h-1.6zM95.4 1028.6h1.6v1.6h-1.6zM114.5 1107.6h1.6v1.6h-1.6zM312.3 1111.2h1.6v1.6h-1.6zM154.7 1071.8h1.6v1.6h-1.6zM155.4 1038.1h1.6v1.6h-1.6zM321.5 1121.5h1.6v1.6h-1.6zM387.2 1042.5h1.6v1.6h-1.6zM118.2 1105.0h1.6v1.6h-1.6zM231.7 1062.3h1.6v1.6h-1.6zM99.2 1119.0h1.6v1.6h-1.6zM170.1 1071.7h1.6v1.6h-1.6zM158.9 1109.5h1.6v1.6h-1.6zM114.0 1131.1h1.6v1.6h-1.6zM146.9 1128.1h1.6v1.6h-1.6zM330.3 1083.5h1.6v1.6h-1.6zM338.0 1134.3h1.6v1.6h-1.6zM324.5 1116.0h1.6v1.6h-1.6zM299.4 1063.1h1.6v1.6h-1.6zM247.1 1105.7h1.6v1.6h-1.6zM318.3 1026.4h1.6v1.6h-1.6zM121.1 1127.3h1.6v1.6h-1.6zM133.3 1127.7h1.6v1.6h-1.6zM330.6 1033.1h1.6v1.6h-1.6zM131.7 1128.3h1.6v1.6h-1.6zM128.9 1125.3h1.6v1.6h-1.6zM290.4 1079.9h1.6v1.6h-1.6zM283.7 1119.5h1.6v1.6h-1.6zM125.3 1089.7h1.6v1.6h-1.6zM193.5 1094.7h1.6v1.6h-1.6zM123.4 1117.4h1.6v1.6h-1.6zM164.4 1061.4h1.6v1.6h-1.6zM112.8 1101.7h1.6v1.6h-1.6zM221.0 1075.0h1.6v1.6h-1.6zM310.8 1146.0h1.6v1.6h-1.6zM111.9 1084.9h1.6v1.6h-1.6zM155.0 1082.6h1.6v1.6h-1.6zM252.8 1139.1h1.6v1.6h-1.6zM125.2 1113.0h1.6v1.6h-1.6zM98.2 1063.9h1.6v1.6h-1.6zM120.9 1096.6h1.6v1.6h-1.6zM151.8 1122.8h1.6v1.6h-1.6zM111.0 1082.8h1.6v1.6h-1.6zM282.6 1103.8h1.6v1.6h-1.6zM246.5 1054.9h1.6v1.6h-1.6zM214.5 1119.5h1.6v1.6h-1.6zM111.9 1114.5h1.6v1.6h-1.6zM147.3 1033.1h1.6v1.6h-1.6zM276.7 1142.6h1.6v1.6h-1.6zM110.7 1092.8h1.6v1.6h-1.6zM351.9 1149.3h1.6v1.6h-1.6zM173.5 1106.4h1.6v1.6h-1.6zM297.9 1035.1h1.6v1.6h-1.6zM361.6 1096.9h1.6v1.6h-1.6zM381.2 1135.0h1.6v1.6h-1.6zM149.7 1075.2h1.6v1.6h-1.6zM219.2 1069.7h1.6v1.6h-1.6zM246.4 1071.3h1.6v1.6h-1.6zM340.0 1115.1h1.6v1.6h-1.6zM149.3 1107.3h1.6v1.6h-1.6zM92.8 1060.9h1.6v1.6h-1.6zM249.6 1120.9h1.6v1.6h-1.6zM103.8 1064.7h1.6v1.6h-1.6zM214.8 1084.8h1.6v1.6h-1.6zM96.3 1068.8h1.6v1.6h-1.6zM141.4 1032.6h1.6v1.6h-1.6zM126.3 1071.2h1.6v1.6h-1.6zM127.3 1038.2h1.6v1.6h-1.6zM336.1 1148.2h1.6v1.6h-1.6zM195.9 1070.8h1.6v1.6h-1.6zM345.5 1073.9h1.6v1.6h-1.6zM232.0 1098.5h1.6v1.6h-1.6zM155.6 1086.8h1.6v1.6h-1.6zM288.4 1117.8h1.6v1.6h-1.6zM339.0 1093.8h1.6v1.6h-1.6zM144.9 1145.8h1.6v1.6h-1.6zM289.5 1148.4h1.6v1.6h-1.6zM150.9 1097.4h1.6v1.6h-1.6zM241.5 1075.2h1.6v1.6h-1.6zM202.7 1136.1h1.6v1.6h-1.6zM160.2 1035.3h1.6v1.6h-1.6zM202.9 1101.0h1.6v1.6h-1.6zM344.9 1115.5h1.6v1.6h-1.6zM227.5 1117.9h1.6v1.6h-1.6zM197.7 1084.8h1.6v1.6h-1.6zM95.1 1092.3h1.6v1.6h-1.6zM110.6 1104.7h1.6v1.6h-1.6zM98.5 1076.8h1.6v1.6h-1.6zM200.4 1047.3h1.6v1.6h-1.6zM165.1 1123.3h1.6v1.6h-1.6zM150.7 1140.5h1.6v1.6h-1.6zM366.6 1080.7h1.6v1.6h-1.6zM232.3 1090.3h1.6v1.6h-1.6zM174.4 1125.4h1.6v1.6h-1.6zM132.4 1154.4h1.6v1.6h-1.6zM313.3 1086.6h1.6v1.6h-1.6zM130.1 1105.4h1.6v1.6h-1.6zM124.5 1128.8h1.6v1.6h-1.6zM376.8 1093.1h1.6v1.6h-1.6zM326.3 1117.0h1.6v1.6h-1.6zM141.3 1132.8h1.6v1.6h-1.6zM196.8 1037.0h1.6v1.6h-1.6zM135.3 1072.0h1.6v1.6h-1.6zM150.8 1090.0h1.6v1.6h-1.6zM298.5 1113.5h1.6v1.6h-1.6zM93.2 1107.3h1.6v1.6h-1.6zM97.7 1032.4h1.6v1.6h-1.6zM237.8 1097.9h1.6v1.6h-1.6zM140.6 1093.6h1.6v1.6h-1.6zM237.0 1124.6h1.6v1.6h-1.6zM262.8 1114.9h1.6v1.6h-1.6zM180.2 1083.8h1.6v1.6h-1.6zM120.8 1080.3h1.6v1.6h-1.6zM259.1 1092.0h1.6v1.6h-1.6zM306.8 1140.6h1.6v1.6h-1.6zM258.8 1030.3h1.6v1.6h-1.6zM209.4 1107.4h1.6v1.6h-1.6zM95.1 1084.4h1.6v1.6h-1.6zM97.9 1127.7h1.6v1.6h-1.6zM129.5 996.7h1.6v1.6h-1.6zM188.1 1115.0h1.6v1.6h-1.6zM182.2 1106.0h1.6v1.6h-1.6zM113.3 1117.8h1.6v1.6h-1.6zM106.2 1065.2h1.6v1.6h-1.6zM104.9 1136.2h1.6v1.6h-1.6zM156.9 1057.4h1.6v1.6h-1.6zM234.5 1113.3h1.6v1.6h-1.6zM221.9 1113.6h1.6v1.6h-1.6zM362.1 1129.6h1.6v1.6h-1.6zM123.6 1132.3h1.6v1.6h-1.6zM335.1 1095.2h1.6v1.6h-1.6zM120.3 1064.7h1.6v1.6h-1.6zM187.2 1081.2h1.6v1.6h-1.6zM184.6 1081.7h1.6v1.6h-1.6zM150.9 1155.6h1.6v1.6h-1.6zM185.3 1017.2h1.6v1.6h-1.6zM200.3 1059.4h1.6v1.6h-1.6zM167.2 1111.1h1.6v1.6h-1.6zM315.8 1075.8h1.6v1.6h-1.6zM214.8 1142.7h1.6v1.6h-1.6zM102.0 1147.6h1.6v1.6h-1.6zM177.9 1073.7h1.6v1.6h-1.6zM219.7 1058.8h1.6v1.6h-1.6zM240.4 1078.9h1.6v1.6h-1.6zM276.8 991.5h1.6v1.6h-1.6zM181.8 1110.0h1.6v1.6h-1.6zM183.7 1127.0h1.6v1.6h-1.6zM148.6 1063.0h1.6v1.6h-1.6zM220.3 1144.5h1.6v1.6h-1.6zM113.0 1089.2h1.6v1.6h-1.6zM270.5 1142.2h1.6v1.6h-1.6zM110.4 1091.3h1.6v1.6h-1.6zM130.5 1136.7h1.6v1.6h-1.6zM102.9 1072.7h1.6v1.6h-1.6zM259.1 1079.2h1.6v1.6h-1.6zM168.1 1081.6h1.6v1.6h-1.6zM154.9 1062.8h1.6v1.6h-1.6zM174.6 1131.6h1.6v1.6h-1.6zM262.7 1087.0h1.6v1.6h-1.6zM234.4 1108.8h1.6v1.6h-1.6zM316.4 1104.1h1.6v1.6h-1.6zM141.3 1101.6h1.6v1.6h-1.6zM156.5 1134.4h1.6v1.6h-1.6zM331.5 1140.6h1.6v1.6h-1.6zM108.3 1131.6h1.6v1.6h-1.6zM112.8 1052.1h1.6v1.6h-1.6zM261.2 1115.7h1.6v1.6h-1.6zM292.8 1118.4h1.6v1.6h-1.6zM180.6 1026.5h1.6v1.6h-1.6zM169.1 1069.3h1.6v1.6h-1.6zM111.8 1125.1h1.6v1.6h-1.6zM111.6 1121.6h1.6v1.6h-1.6zM144.9 1010.0h1.6v1.6h-1.6zM147.0 1013.0h1.6v1.6h-1.6zM146.5 994.1h1.6v1.6h-1.6zM147.2 1010.9h1.6v1.6h-1.6zM146.9 1003.9h1.6v1.6h-1.6zM91.1 1029.2h1.6v1.6h-1.6zM91.4 1046.9h1.6v1.6h-1.6zM91.6 1046.1h1.6v1.6h-1.6zM91.4 1025.3h1.6v1.6h-1.6zM91.3 1125.3h1.6v1.6h-1.6zM91.6 1094.8h1.6v1.6h-1.6zM90.9 1040.7h1.6v1.6h-1.6zM91.2 1071.8h1.6v1.6h-1.6zM90.8 1116.2h1.6v1.6h-1.6zM91.6 1023.2h1.6v1.6h-1.6zM91.5 1062.5h1.6v1.6h-1.6zM91.1 1135.7h1.6v1.6h-1.6zM91.2 1097.0h1.6v1.6h-1.6zM91.2 1094.0h1.6v1.6h-1.6zM91.8 1129.4h1.6v1.6h-1.6zM91.1 1046.2h1.6v1.6h-1.6zM91.3 1046.4h1.6v1.6h-1.6zM91.5 1076.9h1.6v1.6h-1.6zM91.3 1055.1h1.6v1.6h-1.6zM91.1 1093.8h1.6v1.6h-1.6zM90.9 1135.1h1.6v1.6h-1.6zM91.3 1042.1h1.6v1.6h-1.6zM90.9 1120.6h1.6v1.6h-1.6zM90.9 1117.6h1.6v1.6h-1.6zM90.9 1031.5h1.6v1.6h-1.6zM91.5 1034.2h1.6v1.6h-1.6zM90.8 1052.6h1.6v1.6h-1.6zM90.9 1120.2h1.6v1.6h-1.6zM91.7 1051.6h1.6v1.6h-1.6zM91.0 1073.3h1.6v1.6h-1.6zM91.1 1037.0h1.6v1.6h-1.6zM91.1 1081.9h1.6v1.6h-1.6zM91.6 1022.0h1.6v1.6h-1.6zM90.9 1042.9h1.6v1.6h-1.6zM91.3 1059.9h1.6v1.6h-1.6zM90.9 1129.4h1.6v1.6h-1.6zM90.9 1102.7h1.6v1.6h-1.6zM91.0 1091.6h1.6v1.6h-1.6zM91.3 1128.4h1.6v1.6h-1.6zM91.2 1053.8h1.6v1.6h-1.6zM91.1 1125.9h1.6v1.6h-1.6zM91.3 1053.9h1.6v1.6h-1.6zM91.2 1027.3h1.6v1.6h-1.6zM91.2 1042.5h1.6v1.6h-1.6zM91.3 1095.4h1.6v1.6h-1.6zM91.5 1051.4h1.6v1.6h-1.6zM91.1 1121.4h1.6v1.6h-1.6zM91.2 1102.1h1.6v1.6h-1.6zM91.6 1128.9h1.6v1.6h-1.6zM91.1 1103.4h1.6v1.6h-1.6zM389.2 1050.4h1.6v1.6h-1.6zM412.0 1058.0h1.6v1.6h-1.6zM416.0 1058.0h1.6v1.6h-1.6zM446.7 1061.7h1.6v1.6h-1.6zM421.6 1069.8h1.6v1.6h-1.6zM434.5 1070.9h1.6v1.6h-1.6zM435.7 1071.3h1.6v1.6h-1.6zM396.1 1072.7h1.6v1.6h-1.6zM397.6 1078.4h1.6v1.6h-1.6zM424.4 1079.2h1.6v1.6h-1.6zM430.2 1080.9h1.6v1.6h-1.6zM410.0 1081.9h1.6v1.6h-1.6zM412.9 1083.7h1.6v1.6h-1.6zM418.7 1086.0h1.6v1.6h-1.6zM410.0 1089.0h1.6v1.6h-1.6zM426.4 1088.8h1.6v1.6h-1.6zM429.7 1090.7h1.6v1.6h-1.6zM422.4 1090.8h1.6v1.6h-1.6zM421.6 1093.1h1.6v1.6h-1.6zM424.8 1094.0h1.6v1.6h-1.6zM395.0 1092.3h1.6v1.6h-1.6zM389.2 1093.4h1.6v1.6h-1.6zM389.5 1095.7h1.6v1.6h-1.6zM434.5 1096.0h1.6v1.6h-1.6zM390.4 1100.1h1.6v1.6h-1.6zM410.5 1099.5h1.6v1.6h-1.6zM438.8 1101.5h1.6v1.6h-1.6zM402.2 1103.2h1.6v1.6h-1.6zM416.3 1103.6h1.6v1.6h-1.6zM393.9 1108.1h1.6v1.6h-1.6zM401.6 1107.5h1.6v1.6h-1.6zM405.1 1110.2h1.6v1.6h-1.6zM427.4 1108.1h1.6v1.6h-1.6zM431.2 1106.4h1.6v1.6h-1.6zM433.9 1107.0h1.6v1.6h-1.6zM405.1 1115.1h1.6v1.6h-1.6zM393.0 1121.1h1.6v1.6h-1.6zM421.8 1126.5h1.6v1.6h-1.6zM411.2 1131.3h1.6v1.6h-1.6zM415.5 1131.3h1.6v1.6h-1.6zM416.4 1132.2h1.6v1.6h-1.6zM399.5 1141.1h1.6v1.6h-1.6zM438.8 1142.2h1.6v1.6h-1.6zM452.3 1056.0h1.6v1.6h-1.6zM469.2 1063.0h1.6v1.6h-1.6zM489.3 1108.7h1.6v1.6h-1.6zM473.7 1141.3h1.6v1.6h-1.6zM388.6 969.2h1.6v1.6h-1.6zM385.7 987.5h1.6v1.6h-1.6zM384.4 996.9h1.6v1.6h-1.6zM384.7 1004.9h1.6v1.6h-1.6zM389.0 1013.9h1.6v1.6h-1.6zM90.9 964.0h1.6v1.6h-1.6zM100.2 977.2h1.6v1.6h-1.6zM115.7 975.9h1.6v1.6h-1.6zM120.0 977.6h1.6v1.6h-1.6zM107.6 982.1h1.6v1.6h-1.6zM90.9 983.8h1.6v1.6h-1.6zM147.7 874.4h1.6v1.6h-1.6zM147.3 883.4h1.6v1.6h-1.6zM148.2 882.7h1.6v1.6h-1.6zM147.1 892.0h1.6v1.6h-1.6zM144.4 902.5h1.6v1.6h-1.6zM147.3 902.4h1.6v1.6h-1.6zM143.9 905.0h1.6v1.6h-1.6zM144.2 906.5h1.6v1.6h-1.6zM147.0 908.0h1.6v1.6h-1.6zM143.9 910.8h1.6v1.6h-1.6zM131.3 908.8h1.6v1.6h-1.6zM146.8 919.1h1.6v1.6h-1.6zM143.7 923.1h1.6v1.6h-1.6zM184.8 899.9h1.6v1.6h-1.6zM191.3 922.7h1.6v1.6h-1.6zM143.7 941.7h1.6v1.6h-1.6zM145.4 946.0h1.6v1.6h-1.6zM140.7 949.1h1.6v1.6h-1.6zM144.2 950.0h1.6v1.6h-1.6zM189.4 949.9h1.6v1.6h-1.6zM190.0 957.3h1.6v1.6h-1.6zM141.0 960.4h1.6v1.6h-1.6zM140.0 961.4h1.6v1.6h-1.6zM145.7 960.0h1.6v1.6h-1.6zM154.0 961.7h1.6v1.6h-1.6zM142.0 964.5h1.6v1.6h-1.6zM145.7 965.0h1.6v1.6h-1.6zM141.3 966.7h1.6v1.6h-1.6zM190.5 965.1h1.6v1.6h-1.6zM169.1 965.4h1.6v1.6h-1.6zM145.0 969.6h1.6v1.6h-1.6zM148.0 968.7h1.6v1.6h-1.6zM147.0 971.7h1.6v1.6h-1.6zM151.7 972.7h1.6v1.6h-1.6zM177.0 972.4h1.6v1.6h-1.6zM187.3 973.7h1.6v1.6h-1.6zM131.6 980.4h1.6v1.6h-1.6zM137.7 982.7h1.6v1.6h-1.6zM143.4 983.0h1.6v1.6h-1.6zM149.3 983.0h1.6v1.6h-1.6zM153.4 982.2h1.6v1.6h-1.6zM294.4 927.9h1.6v1.6h-1.6zM267.3 936.3h1.6v1.6h-1.6zM266.5 942.7h1.6v1.6h-1.6zM268.0 948.8h1.6v1.6h-1.6zM294.8 962.9h1.6v1.6h-1.6zM284.0 966.7h1.6v1.6h-1.6zM273.6 970.0h1.6v1.6h-1.6zM272.3 973.2h1.6v1.6h-1.6zM281.7 973.6h1.6v1.6h-1.6zM272.7 981.3h1.6v1.6h-1.6zM214.6 977.7h1.6v1.6h-1.6zM326.0 983.3h1.6v1.6h-1.6z"/><path fill="#333333" d="M245.7 1105.7h1.8v1.8h-1.8zM231.7 1093.8h1.8v1.8h-1.8zM108.8 1104.1h1.8v1.8h-1.8zM104.1 1130.4h1.8v1.8h-1.8zM124.9 1130.8h1.8v1.8h-1.8zM208.4 1103.9h1.8v1.8h-1.8zM336.1 1131.3h1.8v1.8h-1.8zM155.1 1092.5h1.8v1.8h-1.8zM345.7 1122.5h1.8v1.8h-1.8zM105.6 1128.9h1.8v1.8h-1.8zM205.1 1115.7h1.8v1.8h-1.8zM91.7 1122.4h1.8v1.8h-1.8zM174.5 1118.8h1.8v1.8h-1.8zM119.0 1127.4h1.8v1.8h-1.8zM139.3 1111.8h1.8v1.8h-1.8zM108.4 1114.2h1.8v1.8h-1.8zM103.3 1112.0h1.8v1.8h-1.8zM112.2 1115.1h1.8v1.8h-1.8zM118.6 1129.8h1.8v1.8h-1.8zM160.9 1101.4h1.8v1.8h-1.8zM140.8 1124.6h1.8v1.8h-1.8zM264.5 1103.3h1.8v1.8h-1.8zM342.9 1148.4h1.8v1.8h-1.8zM104.5 1113.9h1.8v1.8h-1.8zM110.2 1123.3h1.8v1.8h-1.8zM128.9 1105.8h1.8v1.8h-1.8zM121.4 1120.7h1.8v1.8h-1.8zM102.5 1136.3h1.8v1.8h-1.8zM95.4 1111.7h1.8v1.8h-1.8zM281.6 1108.3h1.8v1.8h-1.8zM123.7 1101.2h1.8v1.8h-1.8zM124.4 1123.5h1.8v1.8h-1.8zM109.1 1124.3h1.8v1.8h-1.8zM216.0 1102.7h1.8v1.8h-1.8zM125.5 1130.4h1.8v1.8h-1.8zM175.9 1109.7h1.8v1.8h-1.8zM128.6 1135.6h1.8v1.8h-1.8zM95.6 1106.9h1.8v1.8h-1.8zM359.0 1109.8h1.8v1.8h-1.8zM92.2 1131.1h1.8v1.8h-1.8zM316.3 1082.1h1.8v1.8h-1.8zM129.7 1114.8h1.8v1.8h-1.8zM106.0 1119.7h1.8v1.8h-1.8zM254.0 1100.0h1.8v1.8h-1.8zM100.4 1118.6h1.8v1.8h-1.8zM108.0 1111.0h1.8v1.8h-1.8zM102.9 1118.4h1.8v1.8h-1.8zM102.2 1133.7h1.8v1.8h-1.8zM303.5 1121.6h1.8v1.8h-1.8zM270.1 1129.4h1.8v1.8h-1.8zM141.6 1138.5h1.8v1.8h-1.8zM135.5 1105.8h1.8v1.8h-1.8zM102.0 1103.3h1.8v1.8h-1.8zM322.2 1121.5h1.8v1.8h-1.8zM178.1 1120.2h1.8v1.8h-1.8zM152.6 1112.7h1.8v1.8h-1.8zM246.6 1117.2h1.8v1.8h-1.8zM118.3 1101.6h1.8v1.8h-1.8zM104.5 1122.7h1.8v1.8h-1.8zM97.0 1136.5h1.8v1.8h-1.8zM280.9 1131.9h1.8v1.8h-1.8zM155.3 1114.7h1.8v1.8h-1.8zM107.3 1122.9h1.8v1.8h-1.8zM94.2 1102.9h1.8v1.8h-1.8zM204.1 1114.4h1.8v1.8h-1.8zM288.6 1093.3h1.8v1.8h-1.8zM225.6 1094.5h1.8v1.8h-1.8zM107.0 1119.3h1.8v1.8h-1.8zM108.5 1127.4h1.8v1.8h-1.8zM125.0 1116.4h1.8v1.8h-1.8zM120.7 1101.9h1.8v1.8h-1.8zM111.3 1111.1h1.8v1.8h-1.8zM360.6 1112.0h1.8v1.8h-1.8zM300.7 1123.1h1.8v1.8h-1.8zM297.9 1114.3h1.8v1.8h-1.8zM98.1 1121.8h1.8v1.8h-1.8zM129.8 1108.8h1.8v1.8h-1.8zM180.9 1112.5h1.8v1.8h-1.8zM119.8 1116.3h1.8v1.8h-1.8zM203.1 1137.7h1.8v1.8h-1.8zM144.5 1120.0h1.8v1.8h-1.8zM141.3 1113.5h1.8v1.8h-1.8zM112.8 1104.3h1.8v1.8h-1.8zM327.3 1121.8h1.8v1.8h-1.8zM327.5 1134.8h1.8v1.8h-1.8zM132.1 1103.4h1.8v1.8h-1.8zM97.0 1128.0h1.8v1.8h-1.8zM92.9 1112.2h1.8v1.8h-1.8zM107.5 1126.6h1.8v1.8h-1.8zM93.7 1101.4h1.8v1.8h-1.8zM125.8 1117.7h1.8v1.8h-1.8zM121.5 1122.7h1.8v1.8h-1.8zM101.1 1120.0h1.8v1.8h-1.8zM106.3 1118.4h1.8v1.8h-1.8zM100.4 1110.2h1.8v1.8h-1.8zM153.8 1111.9h1.8v1.8h-1.8zM135.5 1128.4h1.8v1.8h-1.8zM219.9 1137.6h1.8v1.8h-1.8zM112.4 1134.4h1.8v1.8h-1.8zM132.0 1129.8h1.8v1.8h-1.8zM92.2 1121.9h1.8v1.8h-1.8zM347.3 1116.1h1.8v1.8h-1.8zM96.9 1117.8h1.8v1.8h-1.8zM292.5 1133.5h1.8v1.8h-1.8zM281.9 1131.4h1.8v1.8h-1.8zM101.0 1136.0h1.8v1.8h-1.8zM97.6 1119.8h1.8v1.8h-1.8zM309.0 1106.0h1.8v1.8h-1.8zM107.4 1126.1h1.8v1.8h-1.8zM221.5 1112.7h1.8v1.8h-1.8zM104.3 1115.1h1.8v1.8h-1.8zM140.4 1109.6h1.8v1.8h-1.8zM103.0 1130.8h1.8v1.8h-1.8zM243.9 1137.2h1.8v1.8h-1.8zM289.1 1122.8h1.8v1.8h-1.8zM257.4 1112.0h1.8v1.8h-1.8zM223.2 1104.2h1.8v1.8h-1.8zM94.0 1106.8h1.8v1.8h-1.8zM285.7 1124.4h1.8v1.8h-1.8zM271.7 1130.0h1.8v1.8h-1.8zM184.5 1114.6h1.8v1.8h-1.8zM105.1 1127.0h1.8v1.8h-1.8zM94.5 1122.2h1.8v1.8h-1.8zM99.3 1116.9h1.8v1.8h-1.8zM122.1 1107.1h1.8v1.8h-1.8zM128.8 1117.9h1.8v1.8h-1.8zM195.4 1131.7h1.8v1.8h-1.8zM99.5 1109.0h1.8v1.8h-1.8zM127.3 1104.9h1.8v1.8h-1.8zM91.6 1136.6h1.8v1.8h-1.8zM117.4 1127.3h1.8v1.8h-1.8zM92.4 1109.5h1.8v1.8h-1.8zM192.9 1135.7h1.8v1.8h-1.8zM113.0 1108.4h1.8v1.8h-1.8zM197.9 1122.9h1.8v1.8h-1.8zM120.3 1110.5h1.8v1.8h-1.8zM303.3 1126.3h1.8v1.8h-1.8zM107.8 1111.8h1.8v1.8h-1.8zM242.9 1121.5h1.8v1.8h-1.8zM240.9 1114.8h1.8v1.8h-1.8zM107.9 1126.8h1.8v1.8h-1.8zM124.6 1136.1h1.8v1.8h-1.8zM396.1 1106.3h1.8v1.8h-1.8zM409.9 1124.1h1.8v1.8h-1.8zM387.7 1127.0h1.8v1.8h-1.8z"/><rect x="82" y="864" width="418" height="307" fill="none" stroke="#141414" stroke-width="2"/><rect x="76" y="1157.4" width="5" height="2" fill="#141414"/><text x="69.5" y="1163.8" text-anchor="end" class="t">0</text><rect x="76" y="1103.1" width="5" height="2" fill="#141414"/><text x="69.5" y="1109.5" text-anchor="end" class="t">1</text><rect x="76" y="1048.8" width="5" height="2" fill="#141414"/><text x="69.5" y="1055.2" text-anchor="end" class="t">2</text><rect x="76" y="994.5" width="5" height="2" fill="#141414"/><text x="69.5" y="1000.9" text-anchor="end" class="t">3</text><rect x="76" y="940.2" width="5" height="2" fill="#141414"/><text x="69.5" y="946.6" text-anchor="end" class="t">4</text><rect x="76" y="885.9" width="5" height="2" fill="#141414"/><text x="69.5" y="892.3" text-anchor="end" class="t">5</text><rect x="91.1" y="1172" width="2" height="5" fill="#141414"/><text x="92.1" y="1197.0" text-anchor="middle" class="t">0</text><rect x="171.0" y="1172" width="2" height="5" fill="#141414"/><text x="172.0" y="1197.0" text-anchor="middle" class="t">200</text><rect x="250.9" y="1172" width="2" height="5" fill="#141414"/><text x="251.9" y="1197.0" text-anchor="middle" class="t">400</text><rect x="330.8" y="1172" width="2" height="5" fill="#141414"/><text x="331.8" y="1197.0" text-anchor="middle" class="t">600</text><rect x="410.7" y="1172" width="2" height="5" fill="#141414"/><text x="411.7" y="1197.0" text-anchor="middle" class="t">800</text><rect x="490.6" y="1172" width="2" height="5" fill="#141414"/><text x="491.6" y="1197.0" text-anchor="middle" class="t">1000</text><text transform="translate(18.6,852.0) scale(0.88,1)" class="pl">C</text><text transform="translate(31.2,197.9) rotate(-90)" text-anchor="middle" class="ti" style="font-size:19px">Haemoglobin (g/L)</text><text transform="translate(49.5,607) rotate(-90)" text-anchor="middle" class="ti" style="font-size:18.4px">Log (Platelets)</text><text transform="translate(50,1016.5) rotate(-90)" text-anchor="middle" class="ti" style="font-size:18.7px">Log (Monocytes)</text><text x="291" y="1222.6" text-anchor="middle" class="ti" style="font-size:17.6px">Time (days)</text><line x1="92.5" y1="161.5" x2="411.8" y2="149.8" stroke="#6a6a6a" stroke-width="1"/><line x1="92.5" y1="180.4" x2="490.8" y2="176.2" stroke="#e86a6a" stroke-width="1"/><line x1="92.5" y1="516.2" x2="412.3" y2="519.1" stroke="#6a6a6a" stroke-width="1"/><line x1="92.5" y1="554.3" x2="492" y2="571" stroke="#e86a6a" stroke-width="1"/><line x1="92.5" y1="1086.1" x2="490.3" y2="1089.3" stroke="#e86a6a" stroke-width="1"/><line x1="92.5" y1="1117" x2="411.2" y2="1115" stroke="#6a6a6a" stroke-width="1"/></svg>
</body></html>
